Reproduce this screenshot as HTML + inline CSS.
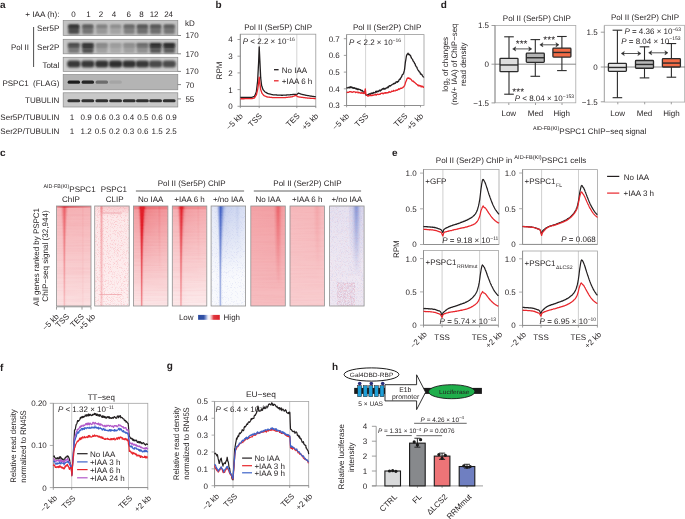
<!DOCTYPE html>
<html><head><meta charset="utf-8"><style>
html,body{margin:0;padding:0;background:#fff;width:685px;height:519px;overflow:hidden;}
svg{display:block;font-family:"Liberation Sans",sans-serif;text-rendering:geometricPrecision;will-change:transform;}
</style></head><body>
<svg width="685" height="519" viewBox="0 0 685 519" font-family="Liberation Sans, sans-serif" fill="#231f20"><defs>
<filter id="bl1" x="-50%" y="-50%" width="200%" height="200%"><feGaussianBlur stdDeviation="0.9"/></filter>
<filter id="bl08" x="-50%" y="-80%" width="200%" height="260%"><feGaussianBlur stdDeviation="0.7"/></filter>
<filter id="speckR" x="0" y="0" width="100%" height="100%">
 <feTurbulence type="fractalNoise" baseFrequency="1.3" numOctaves="1" seed="7"/>
 <feColorMatrix type="matrix" values="0 0 0 0 0.92  0 0 0 0 0.25  0 0 0 0 0.3  4 0 0 0 -2.0"/>
</filter>
<filter id="speckB" x="0" y="0" width="100%" height="100%">
 <feTurbulence type="fractalNoise" baseFrequency="1.2" numOctaves="1" seed="9"/>
 <feColorMatrix type="matrix" values="0 0 0 0 0.35  0 0 0 0 0.4  0 0 0 0 0.8  5 0 0 0 -2.7"/>
</filter>
<filter id="speckP" x="0" y="0" width="100%" height="100%">
 <feTurbulence type="fractalNoise" baseFrequency="0.9" numOctaves="2" seed="5"/>
 <feColorMatrix type="matrix" values="0 0 0 0 0.65  0 0 0 0 0.45  0 0 0 0 0.6  3 0 0 0 -1.1"/>
</filter>
<filter id="streak" x="0" y="0" width="100%" height="100%">
 <feTurbulence type="fractalNoise" baseFrequency="0.02 0.6" numOctaves="1" seed="2"/>
 <feColorMatrix type="matrix" values="0 0 0 0 0.85  0 0 0 0 0.2  0 0 0 0 0.25  3 0 0 0 -1.3"/>
</filter>
<linearGradient id="hm0_0"><stop offset="0.000" stop-color="#f6b8bb"/><stop offset="0.107" stop-color="#f5b3b7"/><stop offset="0.143" stop-color="#f3a4a8"/><stop offset="0.207" stop-color="#ec6d74"/><stop offset="0.229" stop-color="#eb636a"/><stop offset="0.250" stop-color="#ec6c72"/><stop offset="0.314" stop-color="#f3a3a7"/><stop offset="0.357" stop-color="#f5b1b4"/><stop offset="0.736" stop-color="#f5b1b5"/><stop offset="0.764" stop-color="#f4a8ac"/><stop offset="0.800" stop-color="#f5b3b6"/><stop offset="1.000" stop-color="#f5b3b7"/></linearGradient><linearGradient id="hm0_1"><stop offset="0.000" stop-color="#f6b9bc"/><stop offset="0.114" stop-color="#f6b5b9"/><stop offset="0.150" stop-color="#f3a6aa"/><stop offset="0.207" stop-color="#ed7177"/><stop offset="0.229" stop-color="#eb666d"/><stop offset="0.250" stop-color="#ed7077"/><stop offset="0.307" stop-color="#f3a4a8"/><stop offset="0.343" stop-color="#f5b2b5"/><stop offset="0.729" stop-color="#f5b4b7"/><stop offset="0.764" stop-color="#f4aaad"/><stop offset="0.800" stop-color="#f5b4b8"/><stop offset="1.000" stop-color="#f5b5b8"/></linearGradient><linearGradient id="hm0_2"><stop offset="0.000" stop-color="#f6bbbe"/><stop offset="0.121" stop-color="#f6b7ba"/><stop offset="0.157" stop-color="#f4a6aa"/><stop offset="0.207" stop-color="#ed757b"/><stop offset="0.229" stop-color="#ec6970"/><stop offset="0.250" stop-color="#ed757b"/><stop offset="0.300" stop-color="#f3a6aa"/><stop offset="0.336" stop-color="#f5b4b7"/><stop offset="0.736" stop-color="#f5b4b8"/><stop offset="0.764" stop-color="#f4abaf"/><stop offset="0.800" stop-color="#f6b6b9"/><stop offset="1.000" stop-color="#f6b6b9"/></linearGradient><linearGradient id="hm0_3"><stop offset="0.000" stop-color="#f6bcbf"/><stop offset="0.129" stop-color="#f6b9bc"/><stop offset="0.157" stop-color="#f4acb0"/><stop offset="0.214" stop-color="#ed747a"/><stop offset="0.229" stop-color="#ec6d73"/><stop offset="0.250" stop-color="#ee797f"/><stop offset="0.293" stop-color="#f4a6aa"/><stop offset="0.321" stop-color="#f5b4b7"/><stop offset="0.471" stop-color="#f6b8bb"/><stop offset="0.736" stop-color="#f6b6b9"/><stop offset="0.764" stop-color="#f4adb0"/><stop offset="0.800" stop-color="#f6b7bb"/><stop offset="1.000" stop-color="#f6b8bb"/></linearGradient><linearGradient id="hm0_4"><stop offset="0.000" stop-color="#f7bec1"/><stop offset="0.136" stop-color="#f6babd"/><stop offset="0.164" stop-color="#f4acb0"/><stop offset="0.214" stop-color="#ee787e"/><stop offset="0.229" stop-color="#ed7076"/><stop offset="0.250" stop-color="#ee7e84"/><stop offset="0.286" stop-color="#f4a6aa"/><stop offset="0.314" stop-color="#f6b5b9"/><stop offset="0.450" stop-color="#f6b9bc"/><stop offset="0.736" stop-color="#f6b7bb"/><stop offset="0.764" stop-color="#f5aeb2"/><stop offset="0.800" stop-color="#f6b9bc"/><stop offset="1.000" stop-color="#f6b9bc"/></linearGradient><linearGradient id="hm0_5"><stop offset="0.000" stop-color="#f7bfc2"/><stop offset="0.143" stop-color="#f6bcbf"/><stop offset="0.171" stop-color="#f4acaf"/><stop offset="0.214" stop-color="#ee7b81"/><stop offset="0.229" stop-color="#ed7379"/><stop offset="0.250" stop-color="#ef8288"/><stop offset="0.286" stop-color="#f4abaf"/><stop offset="0.314" stop-color="#f6b8bb"/><stop offset="0.736" stop-color="#f6b9bc"/><stop offset="0.764" stop-color="#f5b0b3"/><stop offset="0.800" stop-color="#f6babd"/><stop offset="1.000" stop-color="#f6bbbe"/></linearGradient><linearGradient id="hm0_6"><stop offset="0.000" stop-color="#f7c1c4"/><stop offset="0.143" stop-color="#f7bec1"/><stop offset="0.171" stop-color="#f5b1b4"/><stop offset="0.214" stop-color="#ee7f85"/><stop offset="0.229" stop-color="#ed767c"/><stop offset="0.243" stop-color="#ee7f85"/><stop offset="0.279" stop-color="#f4aaae"/><stop offset="0.307" stop-color="#f6babd"/><stop offset="0.736" stop-color="#f6babd"/><stop offset="0.764" stop-color="#f5b1b5"/><stop offset="0.800" stop-color="#f6bcbf"/><stop offset="1.000" stop-color="#f6bcbf"/></linearGradient><linearGradient id="hm0_7"><stop offset="0.000" stop-color="#f7c2c5"/><stop offset="0.150" stop-color="#f7c0c2"/><stop offset="0.171" stop-color="#f6b5b9"/><stop offset="0.214" stop-color="#ef8388"/><stop offset="0.229" stop-color="#ee797f"/><stop offset="0.243" stop-color="#ef8388"/><stop offset="0.279" stop-color="#f5afb3"/><stop offset="0.307" stop-color="#f6bcbf"/><stop offset="0.736" stop-color="#f6bcbf"/><stop offset="0.764" stop-color="#f5b3b6"/><stop offset="0.800" stop-color="#f7bdc0"/><stop offset="1.000" stop-color="#f7bec1"/></linearGradient><linearGradient id="hm0_8"><stop offset="0.000" stop-color="#f7c4c6"/><stop offset="0.157" stop-color="#f7c0c3"/><stop offset="0.179" stop-color="#f5b4b7"/><stop offset="0.214" stop-color="#ef868c"/><stop offset="0.229" stop-color="#ee7c82"/><stop offset="0.243" stop-color="#f0878c"/><stop offset="0.271" stop-color="#f4adb0"/><stop offset="0.293" stop-color="#f6bbbe"/><stop offset="0.393" stop-color="#f7bfc2"/><stop offset="0.736" stop-color="#f7bdc0"/><stop offset="0.764" stop-color="#f5b4b7"/><stop offset="0.800" stop-color="#f7bfc2"/><stop offset="1.000" stop-color="#f7bfc2"/></linearGradient><linearGradient id="hm0_9"><stop offset="0.000" stop-color="#f8c5c8"/><stop offset="0.157" stop-color="#f7c3c6"/><stop offset="0.179" stop-color="#f6b8bb"/><stop offset="0.214" stop-color="#f08a8f"/><stop offset="0.229" stop-color="#ef7f85"/><stop offset="0.243" stop-color="#f08b90"/><stop offset="0.271" stop-color="#f5b1b5"/><stop offset="0.293" stop-color="#f7bec1"/><stop offset="0.729" stop-color="#f7c0c3"/><stop offset="0.764" stop-color="#f6b6b9"/><stop offset="0.800" stop-color="#f7c0c3"/><stop offset="1.000" stop-color="#f7c1c4"/></linearGradient><linearGradient id="hm0_10"><stop offset="0.000" stop-color="#f8c7c9"/><stop offset="0.164" stop-color="#f7c3c6"/><stop offset="0.186" stop-color="#f5b5b8"/><stop offset="0.214" stop-color="#f08d92"/><stop offset="0.229" stop-color="#ef8388"/><stop offset="0.243" stop-color="#f18f94"/><stop offset="0.271" stop-color="#f5b5b8"/><stop offset="0.293" stop-color="#f7c0c3"/><stop offset="0.736" stop-color="#f7c0c3"/><stop offset="0.764" stop-color="#f6b7ba"/><stop offset="0.800" stop-color="#f7c2c5"/><stop offset="1.000" stop-color="#f7c2c5"/></linearGradient><linearGradient id="hm0_11"><stop offset="0.000" stop-color="#f8c8cb"/><stop offset="0.164" stop-color="#f8c6c8"/><stop offset="0.186" stop-color="#f6b8bc"/><stop offset="0.214" stop-color="#f19196"/><stop offset="0.229" stop-color="#ef868b"/><stop offset="0.243" stop-color="#f19397"/><stop offset="0.271" stop-color="#f6b9bc"/><stop offset="0.293" stop-color="#f7c2c5"/><stop offset="0.736" stop-color="#f7c2c5"/><stop offset="0.764" stop-color="#f6b9bc"/><stop offset="0.800" stop-color="#f7c3c6"/><stop offset="1.000" stop-color="#f7c4c6"/></linearGradient><linearGradient id="hm0_12"><stop offset="0.000" stop-color="#f8cacc"/><stop offset="0.164" stop-color="#f8c8ca"/><stop offset="0.186" stop-color="#f6bcbf"/><stop offset="0.214" stop-color="#f19499"/><stop offset="0.229" stop-color="#f0898e"/><stop offset="0.243" stop-color="#f1969b"/><stop offset="0.264" stop-color="#f5b5b8"/><stop offset="0.286" stop-color="#f7c3c6"/><stop offset="0.736" stop-color="#f7c3c6"/><stop offset="0.764" stop-color="#f6babd"/><stop offset="0.800" stop-color="#f8c5c8"/><stop offset="1.000" stop-color="#f8c5c8"/></linearGradient><linearGradient id="hm0_13"><stop offset="0.000" stop-color="#f8cbce"/><stop offset="0.171" stop-color="#f8c8ca"/><stop offset="0.193" stop-color="#f6b7ba"/><stop offset="0.214" stop-color="#f2989c"/><stop offset="0.229" stop-color="#f08c91"/><stop offset="0.243" stop-color="#f29a9e"/><stop offset="0.264" stop-color="#f6b8bc"/><stop offset="0.286" stop-color="#f8c5c7"/><stop offset="0.736" stop-color="#f8c5c7"/><stop offset="0.764" stop-color="#f6bcbf"/><stop offset="0.800" stop-color="#f8c6c9"/><stop offset="1.000" stop-color="#f8c7c9"/></linearGradient><linearGradient id="hm0_14"><stop offset="0.000" stop-color="#f9cdcf"/><stop offset="0.171" stop-color="#f8cacc"/><stop offset="0.193" stop-color="#f6babd"/><stop offset="0.214" stop-color="#f29b9f"/><stop offset="0.229" stop-color="#f18f94"/><stop offset="0.243" stop-color="#f29da2"/><stop offset="0.264" stop-color="#f6bbbe"/><stop offset="0.286" stop-color="#f8c7c9"/><stop offset="0.736" stop-color="#f8c6c9"/><stop offset="0.764" stop-color="#f7bdc0"/><stop offset="0.800" stop-color="#f8c8ca"/><stop offset="1.000" stop-color="#f8c8cb"/></linearGradient><linearGradient id="hm0_15"><stop offset="0.000" stop-color="#f9ced0"/><stop offset="0.171" stop-color="#f8ccce"/><stop offset="0.193" stop-color="#f7bdc0"/><stop offset="0.214" stop-color="#f39ea2"/><stop offset="0.229" stop-color="#f19297"/><stop offset="0.243" stop-color="#f3a0a5"/><stop offset="0.264" stop-color="#f7bec1"/><stop offset="0.286" stop-color="#f8c9cb"/><stop offset="0.736" stop-color="#f8c8ca"/><stop offset="0.764" stop-color="#f7bfc1"/><stop offset="0.800" stop-color="#f8c9cc"/><stop offset="1.000" stop-color="#f8cacc"/></linearGradient><linearGradient id="hm0_16"><stop offset="0.000" stop-color="#f9d0d2"/><stop offset="0.171" stop-color="#f9ced0"/><stop offset="0.193" stop-color="#f7c0c3"/><stop offset="0.214" stop-color="#f3a1a5"/><stop offset="0.229" stop-color="#f1959a"/><stop offset="0.243" stop-color="#f3a4a8"/><stop offset="0.264" stop-color="#f7c1c3"/><stop offset="0.286" stop-color="#f8cacd"/><stop offset="0.736" stop-color="#f8c9cc"/><stop offset="0.764" stop-color="#f7c0c3"/><stop offset="0.800" stop-color="#f8cbcd"/><stop offset="1.000" stop-color="#f8cbce"/></linearGradient><linearGradient id="hm0_17"><stop offset="0.000" stop-color="#f9d1d3"/><stop offset="0.171" stop-color="#f9d0d2"/><stop offset="0.193" stop-color="#f7c3c5"/><stop offset="0.221" stop-color="#f29ea2"/><stop offset="0.229" stop-color="#f2989d"/><stop offset="0.243" stop-color="#f4a7ab"/><stop offset="0.264" stop-color="#f7c3c6"/><stop offset="0.286" stop-color="#f8ccce"/><stop offset="0.736" stop-color="#f8cbcd"/><stop offset="0.764" stop-color="#f7c2c4"/><stop offset="0.800" stop-color="#f8cccf"/><stop offset="1.000" stop-color="#f9cdcf"/></linearGradient><linearGradient id="hm0_18"><stop offset="0.000" stop-color="#f9d3d5"/><stop offset="0.171" stop-color="#f9d1d3"/><stop offset="0.193" stop-color="#f8c5c8"/><stop offset="0.221" stop-color="#f3a1a5"/><stop offset="0.229" stop-color="#f29ca0"/><stop offset="0.243" stop-color="#f4aaae"/><stop offset="0.264" stop-color="#f8c5c8"/><stop offset="0.293" stop-color="#f9ced0"/><stop offset="0.736" stop-color="#f8cccf"/><stop offset="0.764" stop-color="#f7c3c6"/><stop offset="0.800" stop-color="#f9ced0"/><stop offset="1.000" stop-color="#f9ced0"/></linearGradient><linearGradient id="hm0_19"><stop offset="0.000" stop-color="#f9d4d6"/><stop offset="0.179" stop-color="#f9d1d3"/><stop offset="0.200" stop-color="#f7bfc2"/><stop offset="0.221" stop-color="#f3a4a8"/><stop offset="0.229" stop-color="#f39fa3"/><stop offset="0.243" stop-color="#f4adb0"/><stop offset="0.264" stop-color="#f8c7ca"/><stop offset="0.293" stop-color="#f9d0d2"/><stop offset="0.736" stop-color="#f9ced0"/><stop offset="0.764" stop-color="#f7c5c7"/><stop offset="0.800" stop-color="#f9cfd2"/><stop offset="1.000" stop-color="#f9d0d2"/></linearGradient><linearGradient id="hm0_20"><stop offset="0.000" stop-color="#fad6d8"/><stop offset="0.179" stop-color="#f9d3d5"/><stop offset="0.200" stop-color="#f7c1c4"/><stop offset="0.221" stop-color="#f4a7ab"/><stop offset="0.229" stop-color="#f3a2a6"/><stop offset="0.243" stop-color="#f5afb3"/><stop offset="0.264" stop-color="#f8c9cc"/><stop offset="0.293" stop-color="#f9d1d3"/><stop offset="0.736" stop-color="#f9cfd1"/><stop offset="0.764" stop-color="#f8c6c9"/><stop offset="0.800" stop-color="#f9d1d3"/><stop offset="1.000" stop-color="#f9d1d3"/></linearGradient><linearGradient id="hm0_21"><stop offset="0.000" stop-color="#fad7d9"/><stop offset="0.179" stop-color="#fad5d6"/><stop offset="0.200" stop-color="#f7c4c6"/><stop offset="0.221" stop-color="#f4aaae"/><stop offset="0.229" stop-color="#f3a5a9"/><stop offset="0.243" stop-color="#f5b2b6"/><stop offset="0.264" stop-color="#f8cbce"/><stop offset="0.293" stop-color="#f9d3d5"/><stop offset="0.736" stop-color="#f9d1d3"/><stop offset="0.764" stop-color="#f8c8ca"/><stop offset="0.800" stop-color="#f9d2d4"/><stop offset="1.000" stop-color="#f9d3d5"/></linearGradient><linearGradient id="hm0_22"><stop offset="0.000" stop-color="#fad9da"/><stop offset="0.179" stop-color="#fad6d8"/><stop offset="0.200" stop-color="#f8c6c8"/><stop offset="0.221" stop-color="#f4adb1"/><stop offset="0.229" stop-color="#f4a8ac"/><stop offset="0.243" stop-color="#f5b5b8"/><stop offset="0.264" stop-color="#f9cdcf"/><stop offset="0.293" stop-color="#f9d4d6"/><stop offset="0.736" stop-color="#f9d2d4"/><stop offset="0.764" stop-color="#f8c9cc"/><stop offset="0.800" stop-color="#f9d4d6"/><stop offset="1.000" stop-color="#f9d4d6"/></linearGradient><linearGradient id="hm0_23"><stop offset="0.000" stop-color="#fadadc"/><stop offset="0.179" stop-color="#fad8da"/><stop offset="0.200" stop-color="#f8c8cb"/><stop offset="0.221" stop-color="#f5b0b4"/><stop offset="0.229" stop-color="#f4abaf"/><stop offset="0.243" stop-color="#f6b8bb"/><stop offset="0.264" stop-color="#f9cfd1"/><stop offset="0.293" stop-color="#fad6d7"/><stop offset="0.736" stop-color="#f9d4d6"/><stop offset="0.764" stop-color="#f8cbcd"/><stop offset="0.800" stop-color="#fad5d7"/><stop offset="1.000" stop-color="#fad6d8"/></linearGradient><linearGradient id="hm0_24"><stop offset="0.000" stop-color="#fadcdd"/><stop offset="0.179" stop-color="#fad9db"/><stop offset="0.200" stop-color="#f8cacd"/><stop offset="0.221" stop-color="#f5b4b7"/><stop offset="0.229" stop-color="#f5aeb2"/><stop offset="0.243" stop-color="#f6babd"/><stop offset="0.264" stop-color="#f9d1d3"/><stop offset="0.300" stop-color="#fad7d9"/><stop offset="0.736" stop-color="#fad5d7"/><stop offset="0.764" stop-color="#f8ccce"/><stop offset="0.800" stop-color="#fad7d9"/><stop offset="1.000" stop-color="#fad7d9"/></linearGradient><linearGradient id="hm0_25"><stop offset="0.000" stop-color="#fbdddf"/><stop offset="0.179" stop-color="#fadbdd"/><stop offset="0.200" stop-color="#f8cdcf"/><stop offset="0.221" stop-color="#f6b7ba"/><stop offset="0.229" stop-color="#f5b1b5"/><stop offset="0.250" stop-color="#f8c6c8"/><stop offset="0.271" stop-color="#fad6d8"/><stop offset="0.721" stop-color="#fad9da"/><stop offset="0.764" stop-color="#f9ced0"/><stop offset="0.800" stop-color="#fad8da"/><stop offset="1.000" stop-color="#fad9da"/></linearGradient><linearGradient id="hm0_26"><stop offset="0.000" stop-color="#fbdfe0"/><stop offset="0.179" stop-color="#fbddde"/><stop offset="0.200" stop-color="#f9cfd1"/><stop offset="0.221" stop-color="#f6babd"/><stop offset="0.229" stop-color="#f5b4b8"/><stop offset="0.250" stop-color="#f8c8ca"/><stop offset="0.271" stop-color="#fad7d9"/><stop offset="0.736" stop-color="#fad8da"/><stop offset="0.764" stop-color="#f9cfd1"/><stop offset="0.800" stop-color="#fadadc"/><stop offset="1.000" stop-color="#fadadc"/></linearGradient><linearGradient id="hm0_27"><stop offset="0.000" stop-color="#fbe0e2"/><stop offset="0.179" stop-color="#fbdee0"/><stop offset="0.200" stop-color="#f9d1d3"/><stop offset="0.229" stop-color="#f6b8bb"/><stop offset="0.264" stop-color="#fad6d8"/><stop offset="0.307" stop-color="#fadcdd"/><stop offset="0.736" stop-color="#fadadb"/><stop offset="0.764" stop-color="#f9d1d3"/><stop offset="0.800" stop-color="#fadbdd"/><stop offset="1.000" stop-color="#fadcdd"/></linearGradient><linearGradient id="hm0_28"><stop offset="0.000" stop-color="#fbe2e3"/><stop offset="0.179" stop-color="#fbe0e1"/><stop offset="0.200" stop-color="#f9d3d5"/><stop offset="0.229" stop-color="#f6bbbe"/><stop offset="0.264" stop-color="#fad8da"/><stop offset="0.307" stop-color="#fbdddf"/><stop offset="0.736" stop-color="#fadbdd"/><stop offset="0.764" stop-color="#f9d2d4"/><stop offset="0.800" stop-color="#fbddde"/><stop offset="1.000" stop-color="#fbdddf"/></linearGradient><linearGradient id="hm0_29"><stop offset="0.000" stop-color="#fbe3e4"/><stop offset="0.179" stop-color="#fbe1e3"/><stop offset="0.200" stop-color="#fad5d7"/><stop offset="0.229" stop-color="#f7bec1"/><stop offset="0.264" stop-color="#fadadb"/><stop offset="0.314" stop-color="#fbdfe0"/><stop offset="0.736" stop-color="#fbddde"/><stop offset="0.764" stop-color="#f9d4d6"/><stop offset="0.800" stop-color="#fbdee0"/><stop offset="1.000" stop-color="#fbdfe0"/></linearGradient><linearGradient id="hm0top"><stop offset="0.000" stop-color="#ec8c92"/><stop offset="0.126" stop-color="#e6545c"/><stop offset="0.226" stop-color="#dc1f2a"/><stop offset="0.376" stop-color="#e4464f"/><stop offset="1.000" stop-color="#ec8a90"/></linearGradient><clipPath id="hmclip0"><rect x="56.5" y="206.0" width="34.5" height="100.0"/></clipPath><linearGradient id="hm1_0"><stop offset="0.000" stop-color="#fbe1e2"/><stop offset="0.136" stop-color="#fbdedf"/><stop offset="0.143" stop-color="#fadbdc"/><stop offset="0.150" stop-color="#f7c3c6"/><stop offset="0.171" stop-color="#f4a7ab"/><stop offset="0.186" stop-color="#f19297"/><stop offset="0.200" stop-color="#f08c91"/><stop offset="0.214" stop-color="#f29a9e"/><stop offset="0.243" stop-color="#f7c2c5"/><stop offset="0.264" stop-color="#f9cdcf"/><stop offset="1.000" stop-color="#f9ced1"/></linearGradient><linearGradient id="hm1_1"><stop offset="0.000" stop-color="#fce4e5"/><stop offset="0.136" stop-color="#fbe1e2"/><stop offset="0.143" stop-color="#fbdee0"/><stop offset="0.150" stop-color="#f9ced0"/><stop offset="0.171" stop-color="#f5b3b6"/><stop offset="0.186" stop-color="#f29ea2"/><stop offset="0.200" stop-color="#f2989c"/><stop offset="0.214" stop-color="#f3a5a9"/><stop offset="0.243" stop-color="#f9cdcf"/><stop offset="0.264" stop-color="#fad7d9"/><stop offset="1.000" stop-color="#fad9db"/></linearGradient><linearGradient id="hm1_2"><stop offset="0.000" stop-color="#fce7e9"/><stop offset="0.136" stop-color="#fce4e6"/><stop offset="0.143" stop-color="#fbe2e3"/><stop offset="0.171" stop-color="#f7bec1"/><stop offset="0.186" stop-color="#f4a9ad"/><stop offset="0.200" stop-color="#f3a3a7"/><stop offset="0.214" stop-color="#f5b1b4"/><stop offset="0.243" stop-color="#fad8da"/><stop offset="0.264" stop-color="#fbe2e3"/><stop offset="1.000" stop-color="#fbe4e5"/></linearGradient><linearGradient id="hm1_3"><stop offset="0.000" stop-color="#fce9ea"/><stop offset="0.136" stop-color="#fce6e7"/><stop offset="0.157" stop-color="#fad8da"/><stop offset="0.186" stop-color="#f5b0b3"/><stop offset="0.200" stop-color="#f4aaae"/><stop offset="0.214" stop-color="#f6b7ba"/><stop offset="0.243" stop-color="#fbdedf"/><stop offset="0.264" stop-color="#fce8e9"/><stop offset="1.000" stop-color="#fce9ea"/></linearGradient><linearGradient id="hm1_4"><stop offset="0.000" stop-color="#fceaea"/><stop offset="0.136" stop-color="#fce7e8"/><stop offset="0.157" stop-color="#fad8da"/><stop offset="0.186" stop-color="#f5b1b4"/><stop offset="0.200" stop-color="#f4abaf"/><stop offset="0.214" stop-color="#f6b8bb"/><stop offset="0.243" stop-color="#fbdee0"/><stop offset="0.264" stop-color="#fce8e9"/><stop offset="1.000" stop-color="#fceaea"/></linearGradient><linearGradient id="hm1_5"><stop offset="0.000" stop-color="#fceaeb"/><stop offset="0.136" stop-color="#fce7e8"/><stop offset="0.157" stop-color="#fad9db"/><stop offset="0.186" stop-color="#f5b2b5"/><stop offset="0.200" stop-color="#f4acb0"/><stop offset="0.214" stop-color="#f6b9bc"/><stop offset="0.243" stop-color="#fbdfe0"/><stop offset="0.271" stop-color="#fce9ea"/><stop offset="1.000" stop-color="#fceaeb"/></linearGradient><linearGradient id="hm1_6"><stop offset="0.000" stop-color="#fceaeb"/><stop offset="0.136" stop-color="#fce7e8"/><stop offset="0.157" stop-color="#fad9db"/><stop offset="0.186" stop-color="#f5b3b7"/><stop offset="0.200" stop-color="#f4adb1"/><stop offset="0.214" stop-color="#f6babd"/><stop offset="0.243" stop-color="#fbdfe0"/><stop offset="0.271" stop-color="#fce9ea"/><stop offset="1.000" stop-color="#fceaeb"/></linearGradient><linearGradient id="hm1_7"><stop offset="0.000" stop-color="#fceaeb"/><stop offset="0.136" stop-color="#fce7e8"/><stop offset="0.157" stop-color="#fadadc"/><stop offset="0.186" stop-color="#f5b4b8"/><stop offset="0.200" stop-color="#f5afb2"/><stop offset="0.214" stop-color="#f6bbbe"/><stop offset="0.243" stop-color="#fbdfe1"/><stop offset="0.271" stop-color="#fceaea"/><stop offset="1.000" stop-color="#fceaeb"/></linearGradient><linearGradient id="hm1_8"><stop offset="0.000" stop-color="#fceaeb"/><stop offset="0.136" stop-color="#fce8e9"/><stop offset="0.157" stop-color="#fadadc"/><stop offset="0.186" stop-color="#f6b5b9"/><stop offset="0.200" stop-color="#f5b0b3"/><stop offset="0.214" stop-color="#f6bcbf"/><stop offset="0.243" stop-color="#fbe0e1"/><stop offset="0.271" stop-color="#fceaeb"/><stop offset="1.000" stop-color="#fceaeb"/></linearGradient><linearGradient id="hm1_9"><stop offset="0.000" stop-color="#fcebec"/><stop offset="0.136" stop-color="#fce8e9"/><stop offset="0.157" stop-color="#fadbdd"/><stop offset="0.186" stop-color="#f6b7ba"/><stop offset="0.200" stop-color="#f5b1b5"/><stop offset="0.214" stop-color="#f7bdc0"/><stop offset="0.243" stop-color="#fbe0e2"/><stop offset="0.271" stop-color="#fceaeb"/><stop offset="1.000" stop-color="#fcebec"/></linearGradient><linearGradient id="hm1_10"><stop offset="0.000" stop-color="#fcebec"/><stop offset="0.136" stop-color="#fce8e9"/><stop offset="0.157" stop-color="#fadbdd"/><stop offset="0.186" stop-color="#f6b8bb"/><stop offset="0.200" stop-color="#f5b2b6"/><stop offset="0.214" stop-color="#f7bec1"/><stop offset="0.243" stop-color="#fbe1e2"/><stop offset="0.271" stop-color="#fceaeb"/><stop offset="1.000" stop-color="#fcebec"/></linearGradient><linearGradient id="hm1_11"><stop offset="0.000" stop-color="#fcebec"/><stop offset="0.136" stop-color="#fce9ea"/><stop offset="0.157" stop-color="#fadcdd"/><stop offset="0.186" stop-color="#f6b9bc"/><stop offset="0.200" stop-color="#f5b4b7"/><stop offset="0.214" stop-color="#f7bfc2"/><stop offset="0.243" stop-color="#fbe1e2"/><stop offset="0.271" stop-color="#fceaeb"/><stop offset="1.000" stop-color="#fcebec"/></linearGradient><linearGradient id="hm1_12"><stop offset="0.000" stop-color="#fcebec"/><stop offset="0.136" stop-color="#fce9ea"/><stop offset="0.157" stop-color="#fbdcde"/><stop offset="0.186" stop-color="#f6babd"/><stop offset="0.200" stop-color="#f5b5b8"/><stop offset="0.214" stop-color="#f7c0c3"/><stop offset="0.243" stop-color="#fbe1e3"/><stop offset="0.271" stop-color="#fcebec"/><stop offset="1.000" stop-color="#fcebec"/></linearGradient><linearGradient id="hm1_13"><stop offset="0.000" stop-color="#fcecec"/><stop offset="0.136" stop-color="#fce9ea"/><stop offset="0.157" stop-color="#fbddde"/><stop offset="0.186" stop-color="#f6bbbe"/><stop offset="0.200" stop-color="#f6b6b9"/><stop offset="0.214" stop-color="#f7c1c4"/><stop offset="0.243" stop-color="#fbe2e3"/><stop offset="0.271" stop-color="#fcebec"/><stop offset="1.000" stop-color="#fcecec"/></linearGradient><linearGradient id="hm1_14"><stop offset="0.000" stop-color="#fdeced"/><stop offset="0.136" stop-color="#fce9ea"/><stop offset="0.157" stop-color="#fbdddf"/><stop offset="0.186" stop-color="#f6bcbf"/><stop offset="0.200" stop-color="#f6b7ba"/><stop offset="0.214" stop-color="#f7c2c5"/><stop offset="0.243" stop-color="#fbe2e3"/><stop offset="0.271" stop-color="#fcebec"/><stop offset="1.000" stop-color="#fdeced"/></linearGradient><linearGradient id="hm1_15"><stop offset="0.000" stop-color="#fdeced"/><stop offset="0.136" stop-color="#fceaeb"/><stop offset="0.157" stop-color="#fbdedf"/><stop offset="0.186" stop-color="#f7bdc0"/><stop offset="0.200" stop-color="#f6b9bc"/><stop offset="0.214" stop-color="#f7c3c6"/><stop offset="0.243" stop-color="#fbe3e4"/><stop offset="0.271" stop-color="#fcebec"/><stop offset="1.000" stop-color="#fdeced"/></linearGradient><linearGradient id="hm1_16"><stop offset="0.000" stop-color="#fdeced"/><stop offset="0.136" stop-color="#fceaeb"/><stop offset="0.157" stop-color="#fbdee0"/><stop offset="0.186" stop-color="#f7bfc1"/><stop offset="0.200" stop-color="#f6babd"/><stop offset="0.214" stop-color="#f7c4c7"/><stop offset="0.243" stop-color="#fbe3e4"/><stop offset="0.271" stop-color="#fdeced"/><stop offset="1.000" stop-color="#fdeced"/></linearGradient><linearGradient id="hm1_17"><stop offset="0.000" stop-color="#fdeced"/><stop offset="0.136" stop-color="#fceaeb"/><stop offset="0.157" stop-color="#fbdfe0"/><stop offset="0.186" stop-color="#f7c0c2"/><stop offset="0.200" stop-color="#f6bbbe"/><stop offset="0.221" stop-color="#f9ced0"/><stop offset="0.243" stop-color="#fbe3e5"/><stop offset="0.271" stop-color="#fdeced"/><stop offset="1.000" stop-color="#fdeced"/></linearGradient><linearGradient id="hm1_18"><stop offset="0.000" stop-color="#fdeded"/><stop offset="0.136" stop-color="#fceaeb"/><stop offset="0.157" stop-color="#fbdfe1"/><stop offset="0.186" stop-color="#f7c1c4"/><stop offset="0.200" stop-color="#f6bcbf"/><stop offset="0.221" stop-color="#f9cfd1"/><stop offset="0.243" stop-color="#fbe4e5"/><stop offset="0.271" stop-color="#fdeced"/><stop offset="1.000" stop-color="#fdeded"/></linearGradient><linearGradient id="hm1_19"><stop offset="0.000" stop-color="#fdedee"/><stop offset="0.136" stop-color="#fcebec"/><stop offset="0.157" stop-color="#fbe0e1"/><stop offset="0.186" stop-color="#f7c2c5"/><stop offset="0.200" stop-color="#f7bdc0"/><stop offset="0.221" stop-color="#f9cfd2"/><stop offset="0.243" stop-color="#fce4e5"/><stop offset="0.271" stop-color="#fdeced"/><stop offset="1.000" stop-color="#fdedee"/></linearGradient><linearGradient id="hm1_20"><stop offset="0.000" stop-color="#fdedee"/><stop offset="0.136" stop-color="#fcebec"/><stop offset="0.157" stop-color="#fbe0e2"/><stop offset="0.193" stop-color="#f7bfc2"/><stop offset="0.207" stop-color="#f7c2c5"/><stop offset="0.243" stop-color="#fce5e6"/><stop offset="0.279" stop-color="#fdedee"/><stop offset="1.000" stop-color="#fdedee"/></linearGradient><linearGradient id="hm1_21"><stop offset="0.000" stop-color="#fdedee"/><stop offset="0.136" stop-color="#fcebec"/><stop offset="0.157" stop-color="#fbe1e2"/><stop offset="0.193" stop-color="#f7c0c3"/><stop offset="0.207" stop-color="#f7c3c6"/><stop offset="0.243" stop-color="#fce5e6"/><stop offset="0.279" stop-color="#fdedee"/><stop offset="1.000" stop-color="#fdedee"/></linearGradient><linearGradient id="hm1_22"><stop offset="0.000" stop-color="#fdeeee"/><stop offset="0.136" stop-color="#fcebec"/><stop offset="0.157" stop-color="#fbe1e3"/><stop offset="0.193" stop-color="#f7c1c4"/><stop offset="0.207" stop-color="#f7c4c7"/><stop offset="0.243" stop-color="#fce5e7"/><stop offset="0.279" stop-color="#fdedee"/><stop offset="1.000" stop-color="#fdeeee"/></linearGradient><linearGradient id="hm1_23"><stop offset="0.000" stop-color="#fdeeef"/><stop offset="0.136" stop-color="#fdeced"/><stop offset="0.157" stop-color="#fbe2e3"/><stop offset="0.193" stop-color="#f7c3c5"/><stop offset="0.207" stop-color="#f8c6c8"/><stop offset="0.243" stop-color="#fce6e7"/><stop offset="0.279" stop-color="#fdeeee"/><stop offset="1.000" stop-color="#fdeeef"/></linearGradient><linearGradient id="hm1_24"><stop offset="0.000" stop-color="#fdeeef"/><stop offset="0.136" stop-color="#fdeced"/><stop offset="0.157" stop-color="#fbe2e4"/><stop offset="0.193" stop-color="#f7c4c7"/><stop offset="0.207" stop-color="#f8c7c9"/><stop offset="0.243" stop-color="#fce6e7"/><stop offset="0.279" stop-color="#fdeeef"/><stop offset="1.000" stop-color="#fdeeef"/></linearGradient><linearGradient id="hm1_25"><stop offset="0.000" stop-color="#fdeeef"/><stop offset="0.136" stop-color="#fdeced"/><stop offset="0.157" stop-color="#fbe3e4"/><stop offset="0.193" stop-color="#f8c5c8"/><stop offset="0.207" stop-color="#f8c8ca"/><stop offset="0.243" stop-color="#fce7e8"/><stop offset="0.279" stop-color="#fdeeef"/><stop offset="1.000" stop-color="#fdeeef"/></linearGradient><linearGradient id="hm1_26"><stop offset="0.000" stop-color="#fdeeef"/><stop offset="0.136" stop-color="#fdeded"/><stop offset="0.157" stop-color="#fbe3e5"/><stop offset="0.193" stop-color="#f8c6c9"/><stop offset="0.207" stop-color="#f8c9cb"/><stop offset="0.243" stop-color="#fce7e8"/><stop offset="0.279" stop-color="#fdeeef"/><stop offset="1.000" stop-color="#fdeeef"/></linearGradient><linearGradient id="hm1_27"><stop offset="0.000" stop-color="#fdefef"/><stop offset="0.136" stop-color="#fdedee"/><stop offset="0.164" stop-color="#fbdee0"/><stop offset="0.193" stop-color="#f8c8ca"/><stop offset="0.207" stop-color="#f8cacd"/><stop offset="0.243" stop-color="#fce8e9"/><stop offset="0.279" stop-color="#fdefef"/><stop offset="1.000" stop-color="#fdefef"/></linearGradient><linearGradient id="hm1_28"><stop offset="0.000" stop-color="#fdeff0"/><stop offset="0.143" stop-color="#fcebec"/><stop offset="0.171" stop-color="#fad8da"/><stop offset="0.193" stop-color="#f8c9cb"/><stop offset="0.207" stop-color="#f8cbce"/><stop offset="0.243" stop-color="#fce8e9"/><stop offset="0.286" stop-color="#fdeff0"/><stop offset="1.000" stop-color="#fdeff0"/></linearGradient><linearGradient id="hm1_29"><stop offset="0.000" stop-color="#fdeff0"/><stop offset="0.143" stop-color="#fdeced"/><stop offset="0.171" stop-color="#fad9db"/><stop offset="0.193" stop-color="#f8cacc"/><stop offset="0.207" stop-color="#f8cccf"/><stop offset="0.243" stop-color="#fce8e9"/><stop offset="0.286" stop-color="#fdeff0"/><stop offset="1.000" stop-color="#fdeff0"/></linearGradient><clipPath id="hmclip1"><rect x="94.7" y="206.0" width="34.5" height="100.0"/></clipPath><linearGradient id="hm2_0"><stop offset="0.000" stop-color="#ef878c"/><stop offset="0.114" stop-color="#ef8489"/><stop offset="0.143" stop-color="#ee787e"/><stop offset="0.164" stop-color="#eb6067"/><stop offset="0.200" stop-color="#e21e28"/><stop offset="0.307" stop-color="#e21e28"/><stop offset="0.336" stop-color="#e7474f"/><stop offset="0.364" stop-color="#ea5f66"/><stop offset="0.407" stop-color="#ec6d73"/><stop offset="0.700" stop-color="#ee797f"/><stop offset="0.750" stop-color="#ec6c73"/><stop offset="0.800" stop-color="#ee7c82"/><stop offset="1.000" stop-color="#ef8086"/></linearGradient><linearGradient id="hm2_1"><stop offset="0.000" stop-color="#f3a0a4"/><stop offset="0.121" stop-color="#f29da1"/><stop offset="0.150" stop-color="#f19095"/><stop offset="0.171" stop-color="#ed767c"/><stop offset="0.200" stop-color="#e63b43"/><stop offset="0.214" stop-color="#e21e28"/><stop offset="0.286" stop-color="#e21e28"/><stop offset="0.329" stop-color="#eb6068"/><stop offset="0.357" stop-color="#ee7a80"/><stop offset="0.400" stop-color="#f0878c"/><stop offset="0.700" stop-color="#f19397"/><stop offset="0.750" stop-color="#ef868c"/><stop offset="0.800" stop-color="#f1959a"/><stop offset="1.000" stop-color="#f29a9e"/></linearGradient><linearGradient id="hm2_2"><stop offset="0.000" stop-color="#f3a2a6"/><stop offset="0.129" stop-color="#f39fa4"/><stop offset="0.157" stop-color="#f19196"/><stop offset="0.179" stop-color="#ed747a"/><stop offset="0.214" stop-color="#e3242e"/><stop offset="0.221" stop-color="#e21e28"/><stop offset="0.279" stop-color="#e21e28"/><stop offset="0.293" stop-color="#e5343d"/><stop offset="0.321" stop-color="#eb636a"/><stop offset="0.350" stop-color="#ee7d83"/><stop offset="0.393" stop-color="#f08b90"/><stop offset="0.700" stop-color="#f1969a"/><stop offset="0.750" stop-color="#f08a8f"/><stop offset="0.807" stop-color="#f2999e"/><stop offset="1.000" stop-color="#f29ca1"/></linearGradient><linearGradient id="hm2_3"><stop offset="0.000" stop-color="#f3a5a9"/><stop offset="0.136" stop-color="#f3a2a6"/><stop offset="0.157" stop-color="#f2989d"/><stop offset="0.179" stop-color="#ee7e84"/><stop offset="0.207" stop-color="#e63c45"/><stop offset="0.221" stop-color="#e21e28"/><stop offset="0.271" stop-color="#e21e28"/><stop offset="0.279" stop-color="#e3232d"/><stop offset="0.307" stop-color="#ea5961"/><stop offset="0.329" stop-color="#ed767c"/><stop offset="0.357" stop-color="#f0888d"/><stop offset="0.429" stop-color="#f19196"/><stop offset="0.707" stop-color="#f2989d"/><stop offset="0.750" stop-color="#f08d92"/><stop offset="0.807" stop-color="#f29ca0"/><stop offset="1.000" stop-color="#f39fa3"/></linearGradient><linearGradient id="hm2_4"><stop offset="0.000" stop-color="#f4a7ab"/><stop offset="0.143" stop-color="#f3a4a8"/><stop offset="0.164" stop-color="#f2999e"/><stop offset="0.179" stop-color="#f0878d"/><stop offset="0.200" stop-color="#ea5860"/><stop offset="0.221" stop-color="#e3242e"/><stop offset="0.229" stop-color="#e21e28"/><stop offset="0.271" stop-color="#e2202a"/><stop offset="0.307" stop-color="#eb656c"/><stop offset="0.329" stop-color="#ee7f85"/><stop offset="0.357" stop-color="#f08e93"/><stop offset="0.507" stop-color="#f2989c"/><stop offset="0.707" stop-color="#f29ba0"/><stop offset="0.750" stop-color="#f19196"/><stop offset="0.807" stop-color="#f39fa3"/><stop offset="1.000" stop-color="#f3a2a6"/></linearGradient><linearGradient id="hm2_5"><stop offset="0.000" stop-color="#f4aaad"/><stop offset="0.150" stop-color="#f4a6aa"/><stop offset="0.171" stop-color="#f2999e"/><stop offset="0.186" stop-color="#ef8489"/><stop offset="0.221" stop-color="#e42b34"/><stop offset="0.229" stop-color="#e21f29"/><stop offset="0.264" stop-color="#e21e28"/><stop offset="0.286" stop-color="#e74850"/><stop offset="0.307" stop-color="#ed7076"/><stop offset="0.329" stop-color="#f0878c"/><stop offset="0.364" stop-color="#f19499"/><stop offset="0.707" stop-color="#f39ea3"/><stop offset="0.750" stop-color="#f19499"/><stop offset="0.807" stop-color="#f3a2a6"/><stop offset="1.000" stop-color="#f3a5a9"/></linearGradient><linearGradient id="hm2_6"><stop offset="0.000" stop-color="#f4acb0"/><stop offset="0.150" stop-color="#f4aaae"/><stop offset="0.171" stop-color="#f3a0a4"/><stop offset="0.186" stop-color="#f08d92"/><stop offset="0.200" stop-color="#ec6c73"/><stop offset="0.221" stop-color="#e5323b"/><stop offset="0.229" stop-color="#e3242e"/><stop offset="0.236" stop-color="#e21e28"/><stop offset="0.257" stop-color="#e21e28"/><stop offset="0.264" stop-color="#e3242e"/><stop offset="0.300" stop-color="#ec6f76"/><stop offset="0.321" stop-color="#f08a8f"/><stop offset="0.350" stop-color="#f2969b"/><stop offset="0.700" stop-color="#f3a2a6"/><stop offset="0.750" stop-color="#f2989c"/><stop offset="0.807" stop-color="#f3a5a9"/><stop offset="1.000" stop-color="#f4a8ab"/></linearGradient><linearGradient id="hm2_7"><stop offset="0.000" stop-color="#f5afb2"/><stop offset="0.157" stop-color="#f4acb0"/><stop offset="0.179" stop-color="#f39fa4"/><stop offset="0.193" stop-color="#f0878d"/><stop offset="0.221" stop-color="#e53841"/><stop offset="0.229" stop-color="#e42a33"/><stop offset="0.243" stop-color="#e21e28"/><stop offset="0.257" stop-color="#e21f29"/><stop offset="0.293" stop-color="#ec6d74"/><stop offset="0.314" stop-color="#f08b91"/><stop offset="0.343" stop-color="#f29a9e"/><stop offset="0.693" stop-color="#f3a6aa"/><stop offset="0.750" stop-color="#f29ba0"/><stop offset="0.807" stop-color="#f4a8ac"/><stop offset="1.000" stop-color="#f4aaae"/></linearGradient><linearGradient id="hm2_8"><stop offset="0.000" stop-color="#f5b1b5"/><stop offset="0.164" stop-color="#f5aeb2"/><stop offset="0.179" stop-color="#f3a6aa"/><stop offset="0.193" stop-color="#f19095"/><stop offset="0.207" stop-color="#ec6a71"/><stop offset="0.221" stop-color="#e63f48"/><stop offset="0.229" stop-color="#e43039"/><stop offset="0.243" stop-color="#e21e28"/><stop offset="0.250" stop-color="#e21e28"/><stop offset="0.257" stop-color="#e32731"/><stop offset="0.293" stop-color="#ee787e"/><stop offset="0.314" stop-color="#f19398"/><stop offset="0.343" stop-color="#f39ea3"/><stop offset="0.707" stop-color="#f4a8ab"/><stop offset="0.750" stop-color="#f39fa3"/><stop offset="0.807" stop-color="#f4abae"/><stop offset="1.000" stop-color="#f4adb1"/></linearGradient><linearGradient id="hm2_9"><stop offset="0.000" stop-color="#f5b4b7"/><stop offset="0.164" stop-color="#f5b2b5"/><stop offset="0.179" stop-color="#f4abaf"/><stop offset="0.193" stop-color="#f2989d"/><stop offset="0.207" stop-color="#ed737a"/><stop offset="0.221" stop-color="#e7464e"/><stop offset="0.229" stop-color="#e5353e"/><stop offset="0.236" stop-color="#e42d36"/><stop offset="0.243" stop-color="#e21e28"/><stop offset="0.250" stop-color="#e3222c"/><stop offset="0.264" stop-color="#e64048"/><stop offset="0.286" stop-color="#ed747a"/><stop offset="0.300" stop-color="#f08c91"/><stop offset="0.321" stop-color="#f29ea2"/><stop offset="0.386" stop-color="#f3a5a9"/><stop offset="0.707" stop-color="#f4abae"/><stop offset="0.750" stop-color="#f3a2a6"/><stop offset="0.814" stop-color="#f5aeb1"/><stop offset="1.000" stop-color="#f5b0b3"/></linearGradient><linearGradient id="hm2_10"><stop offset="0.000" stop-color="#f6b6b9"/><stop offset="0.171" stop-color="#f5b3b7"/><stop offset="0.186" stop-color="#f4aaae"/><stop offset="0.200" stop-color="#f19095"/><stop offset="0.221" stop-color="#e84d55"/><stop offset="0.229" stop-color="#e63b43"/><stop offset="0.236" stop-color="#e5323b"/><stop offset="0.243" stop-color="#e2212a"/><stop offset="0.250" stop-color="#e32933"/><stop offset="0.264" stop-color="#e84951"/><stop offset="0.286" stop-color="#ee7e83"/><stop offset="0.300" stop-color="#f19499"/><stop offset="0.321" stop-color="#f3a3a7"/><stop offset="0.486" stop-color="#f4abaf"/><stop offset="0.714" stop-color="#f4adb0"/><stop offset="0.750" stop-color="#f3a6aa"/><stop offset="0.814" stop-color="#f5b1b4"/><stop offset="1.000" stop-color="#f5b3b6"/></linearGradient><linearGradient id="hm2_11"><stop offset="0.000" stop-color="#f6b8bc"/><stop offset="0.171" stop-color="#f6b7ba"/><stop offset="0.186" stop-color="#f5afb3"/><stop offset="0.200" stop-color="#f2989d"/><stop offset="0.214" stop-color="#ec6c73"/><stop offset="0.229" stop-color="#e64049"/><stop offset="0.236" stop-color="#e53740"/><stop offset="0.243" stop-color="#e32731"/><stop offset="0.250" stop-color="#e43039"/><stop offset="0.271" stop-color="#eb656c"/><stop offset="0.286" stop-color="#f0878c"/><stop offset="0.300" stop-color="#f29ca0"/><stop offset="0.321" stop-color="#f4a8ac"/><stop offset="0.700" stop-color="#f5b1b5"/><stop offset="0.757" stop-color="#f4aaae"/><stop offset="0.814" stop-color="#f5b4b7"/><stop offset="1.000" stop-color="#f5b5b9"/></linearGradient><linearGradient id="hm2_12"><stop offset="0.000" stop-color="#f6bbbe"/><stop offset="0.179" stop-color="#f6b8bb"/><stop offset="0.193" stop-color="#f4adb0"/><stop offset="0.200" stop-color="#f3a0a4"/><stop offset="0.214" stop-color="#ed747a"/><stop offset="0.229" stop-color="#e7464e"/><stop offset="0.243" stop-color="#e42d37"/><stop offset="0.250" stop-color="#e53740"/><stop offset="0.279" stop-color="#ef8186"/><stop offset="0.293" stop-color="#f29b9f"/><stop offset="0.314" stop-color="#f4aaae"/><stop offset="0.564" stop-color="#f5b3b7"/><stop offset="0.714" stop-color="#f5b3b6"/><stop offset="0.757" stop-color="#f5aeb1"/><stop offset="0.814" stop-color="#f6b6ba"/><stop offset="1.000" stop-color="#f6b8bb"/></linearGradient><linearGradient id="hm2_13"><stop offset="0.000" stop-color="#f7bdc0"/><stop offset="0.179" stop-color="#f6bbbe"/><stop offset="0.193" stop-color="#f5b2b5"/><stop offset="0.200" stop-color="#f4a6aa"/><stop offset="0.207" stop-color="#f19499"/><stop offset="0.229" stop-color="#e84c54"/><stop offset="0.243" stop-color="#e5343d"/><stop offset="0.250" stop-color="#e63e47"/><stop offset="0.279" stop-color="#f0898f"/><stop offset="0.293" stop-color="#f3a2a6"/><stop offset="0.314" stop-color="#f5afb3"/><stop offset="0.707" stop-color="#f6b7ba"/><stop offset="0.757" stop-color="#f5b1b4"/><stop offset="0.821" stop-color="#f6b9bc"/><stop offset="1.000" stop-color="#f6bbbe"/></linearGradient><linearGradient id="hm2_14"><stop offset="0.000" stop-color="#f7c0c3"/><stop offset="0.179" stop-color="#f7bfc1"/><stop offset="0.193" stop-color="#f6b7ba"/><stop offset="0.200" stop-color="#f4acb0"/><stop offset="0.207" stop-color="#f29b9f"/><stop offset="0.229" stop-color="#e95159"/><stop offset="0.243" stop-color="#e63a43"/><stop offset="0.250" stop-color="#e7454d"/><stop offset="0.279" stop-color="#f19196"/><stop offset="0.293" stop-color="#f4a8ac"/><stop offset="0.314" stop-color="#f5b3b7"/><stop offset="0.714" stop-color="#f6b9bc"/><stop offset="0.757" stop-color="#f5b4b8"/><stop offset="0.821" stop-color="#f6bcbf"/><stop offset="1.000" stop-color="#f7bdc0"/></linearGradient><linearGradient id="hm2_15"><stop offset="0.000" stop-color="#f7c2c5"/><stop offset="0.186" stop-color="#f7c0c2"/><stop offset="0.200" stop-color="#f5b2b5"/><stop offset="0.207" stop-color="#f3a2a6"/><stop offset="0.229" stop-color="#e9575e"/><stop offset="0.243" stop-color="#e64049"/><stop offset="0.250" stop-color="#e84c54"/><stop offset="0.279" stop-color="#f2999e"/><stop offset="0.293" stop-color="#f5aeb2"/><stop offset="0.314" stop-color="#f6b7ba"/><stop offset="0.714" stop-color="#f6bcbf"/><stop offset="0.757" stop-color="#f6b8bb"/><stop offset="0.829" stop-color="#f7bfc2"/><stop offset="1.000" stop-color="#f7c0c3"/></linearGradient><linearGradient id="hm2_16"><stop offset="0.000" stop-color="#f8c5c7"/><stop offset="0.186" stop-color="#f7c3c5"/><stop offset="0.200" stop-color="#f6b7ba"/><stop offset="0.207" stop-color="#f4a8ab"/><stop offset="0.229" stop-color="#ea5c63"/><stop offset="0.243" stop-color="#e7464f"/><stop offset="0.250" stop-color="#e9535a"/><stop offset="0.271" stop-color="#f19095"/><stop offset="0.286" stop-color="#f4acaf"/><stop offset="0.300" stop-color="#f6b8bb"/><stop offset="0.386" stop-color="#f6bdc0"/><stop offset="0.714" stop-color="#f7bfc2"/><stop offset="0.757" stop-color="#f6bbbe"/><stop offset="0.829" stop-color="#f7c2c5"/><stop offset="1.000" stop-color="#f7c3c6"/></linearGradient><linearGradient id="hm2_17"><stop offset="0.000" stop-color="#f8c7ca"/><stop offset="0.186" stop-color="#f8c6c8"/><stop offset="0.200" stop-color="#f6bbbe"/><stop offset="0.207" stop-color="#f4adb1"/><stop offset="0.214" stop-color="#f2979b"/><stop offset="0.229" stop-color="#eb6269"/><stop offset="0.236" stop-color="#e9545b"/><stop offset="0.243" stop-color="#e84c54"/><stop offset="0.250" stop-color="#ea5961"/><stop offset="0.271" stop-color="#f2979b"/><stop offset="0.286" stop-color="#f5b1b5"/><stop offset="0.307" stop-color="#f7bec1"/><stop offset="0.714" stop-color="#f7c2c5"/><stop offset="0.757" stop-color="#f7bec1"/><stop offset="0.836" stop-color="#f7c5c7"/><stop offset="1.000" stop-color="#f8c6c8"/></linearGradient><linearGradient id="hm2_18"><stop offset="0.000" stop-color="#f8cacc"/><stop offset="0.186" stop-color="#f8c9cb"/><stop offset="0.200" stop-color="#f7bfc2"/><stop offset="0.207" stop-color="#f5b2b6"/><stop offset="0.214" stop-color="#f29da1"/><stop offset="0.229" stop-color="#eb676e"/><stop offset="0.236" stop-color="#ea5960"/><stop offset="0.243" stop-color="#e9535a"/><stop offset="0.250" stop-color="#ea6067"/><stop offset="0.271" stop-color="#f29da2"/><stop offset="0.286" stop-color="#f6b7ba"/><stop offset="0.307" stop-color="#f7c2c4"/><stop offset="0.714" stop-color="#f8c5c8"/><stop offset="0.764" stop-color="#f7c3c5"/><stop offset="0.864" stop-color="#f8c8ca"/><stop offset="1.000" stop-color="#f8c8cb"/></linearGradient><linearGradient id="hm2_19"><stop offset="0.000" stop-color="#f8cccf"/><stop offset="0.186" stop-color="#f8cbce"/><stop offset="0.200" stop-color="#f7c3c6"/><stop offset="0.207" stop-color="#f6b7ba"/><stop offset="0.214" stop-color="#f3a2a6"/><stop offset="0.229" stop-color="#ec6c73"/><stop offset="0.236" stop-color="#ea5e65"/><stop offset="0.243" stop-color="#ea5960"/><stop offset="0.250" stop-color="#eb666d"/><stop offset="0.271" stop-color="#f3a3a8"/><stop offset="0.286" stop-color="#f6bcbf"/><stop offset="0.307" stop-color="#f8c5c8"/><stop offset="0.721" stop-color="#f8c7ca"/><stop offset="0.771" stop-color="#f8c7ca"/><stop offset="1.000" stop-color="#f8cbcd"/></linearGradient><linearGradient id="hm2_20"><stop offset="0.000" stop-color="#f9cfd1"/><stop offset="0.193" stop-color="#f8ccce"/><stop offset="0.200" stop-color="#f8c7c9"/><stop offset="0.207" stop-color="#f6bbbe"/><stop offset="0.214" stop-color="#f4a7ab"/><stop offset="0.229" stop-color="#ed7177"/><stop offset="0.236" stop-color="#eb6269"/><stop offset="0.243" stop-color="#ea5e66"/><stop offset="0.250" stop-color="#ec6c73"/><stop offset="0.271" stop-color="#f4a9ad"/><stop offset="0.286" stop-color="#f7c0c3"/><stop offset="0.307" stop-color="#f8c9cb"/><stop offset="0.721" stop-color="#f8cacd"/><stop offset="0.771" stop-color="#f8cacc"/><stop offset="1.000" stop-color="#f9ced0"/></linearGradient><linearGradient id="hm2_21"><stop offset="0.000" stop-color="#f9d1d3"/><stop offset="0.193" stop-color="#f9cfd1"/><stop offset="0.200" stop-color="#f8cacc"/><stop offset="0.207" stop-color="#f7bfc2"/><stop offset="0.214" stop-color="#f4abaf"/><stop offset="0.229" stop-color="#ed767c"/><stop offset="0.236" stop-color="#eb676e"/><stop offset="0.243" stop-color="#eb646b"/><stop offset="0.250" stop-color="#ed7278"/><stop offset="0.271" stop-color="#f5aeb2"/><stop offset="0.286" stop-color="#f7c4c7"/><stop offset="0.307" stop-color="#f8ccce"/><stop offset="0.721" stop-color="#f9cdd0"/><stop offset="0.779" stop-color="#f9ced0"/><stop offset="1.000" stop-color="#f9d0d2"/></linearGradient><linearGradient id="hm2_22"><stop offset="0.000" stop-color="#f9d4d6"/><stop offset="0.193" stop-color="#f9d2d4"/><stop offset="0.200" stop-color="#f9cdcf"/><stop offset="0.207" stop-color="#f7c3c5"/><stop offset="0.214" stop-color="#f5b0b3"/><stop offset="0.229" stop-color="#ee7b81"/><stop offset="0.236" stop-color="#ec6c73"/><stop offset="0.243" stop-color="#ec6a71"/><stop offset="0.250" stop-color="#ee787e"/><stop offset="0.271" stop-color="#f5b3b7"/><stop offset="0.286" stop-color="#f8c8cb"/><stop offset="0.314" stop-color="#f9d0d2"/><stop offset="0.729" stop-color="#f9d0d2"/><stop offset="1.000" stop-color="#f9d3d5"/></linearGradient><linearGradient id="hm2_23"><stop offset="0.000" stop-color="#fad6d8"/><stop offset="0.193" stop-color="#f9d4d6"/><stop offset="0.200" stop-color="#f9d0d2"/><stop offset="0.207" stop-color="#f8c6c9"/><stop offset="0.214" stop-color="#f5b4b7"/><stop offset="0.229" stop-color="#ef8085"/><stop offset="0.236" stop-color="#ed7177"/><stop offset="0.243" stop-color="#ed7076"/><stop offset="0.250" stop-color="#ee7d83"/><stop offset="0.271" stop-color="#f6b8bb"/><stop offset="0.286" stop-color="#f8ccce"/><stop offset="0.314" stop-color="#f9d3d5"/><stop offset="0.736" stop-color="#f9d2d4"/><stop offset="1.000" stop-color="#fad5d7"/></linearGradient><linearGradient id="hm2_24"><stop offset="0.000" stop-color="#fad9da"/><stop offset="0.193" stop-color="#fad7d9"/><stop offset="0.200" stop-color="#f9d3d5"/><stop offset="0.207" stop-color="#f8c9cc"/><stop offset="0.214" stop-color="#f6b8bb"/><stop offset="0.229" stop-color="#ef848a"/><stop offset="0.236" stop-color="#ed767c"/><stop offset="0.243" stop-color="#ed757b"/><stop offset="0.250" stop-color="#ef8388"/><stop offset="0.271" stop-color="#f6bcbf"/><stop offset="0.286" stop-color="#f9d0d2"/><stop offset="0.314" stop-color="#fad6d8"/><stop offset="0.800" stop-color="#fad8d9"/><stop offset="1.000" stop-color="#fad8da"/></linearGradient><linearGradient id="hm2_25"><stop offset="0.000" stop-color="#fadbdd"/><stop offset="0.193" stop-color="#fad9db"/><stop offset="0.207" stop-color="#f9cdcf"/><stop offset="0.214" stop-color="#f6bbbe"/><stop offset="0.229" stop-color="#f0898e"/><stop offset="0.236" stop-color="#ee7b81"/><stop offset="0.243" stop-color="#ee7b81"/><stop offset="0.250" stop-color="#f0888d"/><stop offset="0.271" stop-color="#f7c1c3"/><stop offset="0.286" stop-color="#f9d3d5"/><stop offset="0.314" stop-color="#fad9db"/><stop offset="1.000" stop-color="#fadbdc"/></linearGradient><linearGradient id="hm2_26"><stop offset="0.000" stop-color="#fbdedf"/><stop offset="0.193" stop-color="#fadcde"/><stop offset="0.207" stop-color="#f9d0d2"/><stop offset="0.214" stop-color="#f7bfc2"/><stop offset="0.229" stop-color="#f08e93"/><stop offset="0.236" stop-color="#ef7f85"/><stop offset="0.243" stop-color="#ef8086"/><stop offset="0.250" stop-color="#f08d92"/><stop offset="0.271" stop-color="#f7c4c7"/><stop offset="0.286" stop-color="#fad7d8"/><stop offset="0.321" stop-color="#fbdcde"/><stop offset="1.000" stop-color="#fbdddf"/></linearGradient><linearGradient id="hm2_27"><stop offset="0.000" stop-color="#fbe0e1"/><stop offset="0.193" stop-color="#fbdfe0"/><stop offset="0.207" stop-color="#f9d3d5"/><stop offset="0.214" stop-color="#f7c2c5"/><stop offset="0.229" stop-color="#f19297"/><stop offset="0.236" stop-color="#ef848a"/><stop offset="0.243" stop-color="#ef868b"/><stop offset="0.250" stop-color="#f19297"/><stop offset="0.271" stop-color="#f8c8cb"/><stop offset="0.286" stop-color="#fadadb"/><stop offset="0.321" stop-color="#fbdfe1"/><stop offset="1.000" stop-color="#fbe0e1"/></linearGradient><linearGradient id="hm2_28"><stop offset="0.000" stop-color="#fbe3e4"/><stop offset="0.193" stop-color="#fbe1e2"/><stop offset="0.207" stop-color="#fad5d7"/><stop offset="0.214" stop-color="#f8c5c8"/><stop offset="0.229" stop-color="#f2979b"/><stop offset="0.236" stop-color="#f0898e"/><stop offset="0.243" stop-color="#f08b90"/><stop offset="0.250" stop-color="#f2979c"/><stop offset="0.271" stop-color="#f8ccce"/><stop offset="0.286" stop-color="#fbddde"/><stop offset="0.321" stop-color="#fbe2e3"/><stop offset="1.000" stop-color="#fbe2e4"/></linearGradient><linearGradient id="hm2_29"><stop offset="0.000" stop-color="#fce5e6"/><stop offset="0.193" stop-color="#fbe4e5"/><stop offset="0.207" stop-color="#fad8da"/><stop offset="0.214" stop-color="#f8c9cb"/><stop offset="0.229" stop-color="#f29b9f"/><stop offset="0.236" stop-color="#f08e93"/><stop offset="0.243" stop-color="#f19095"/><stop offset="0.250" stop-color="#f29ca0"/><stop offset="0.271" stop-color="#f9cfd1"/><stop offset="0.286" stop-color="#fbe0e1"/><stop offset="0.321" stop-color="#fce5e6"/><stop offset="1.000" stop-color="#fce5e6"/></linearGradient><clipPath id="hmclip2"><rect x="133.4" y="206.0" width="34.5" height="100.0"/></clipPath><linearGradient id="hm3_0"><stop offset="0.000" stop-color="#f29a9f"/><stop offset="0.129" stop-color="#f2979c"/><stop offset="0.157" stop-color="#f08d92"/><stop offset="0.179" stop-color="#ee787e"/><stop offset="0.229" stop-color="#e42a34"/><stop offset="0.243" stop-color="#e21f29"/><stop offset="0.286" stop-color="#e21e28"/><stop offset="0.300" stop-color="#e42d36"/><stop offset="0.343" stop-color="#eb636a"/><stop offset="0.379" stop-color="#ee7c82"/><stop offset="0.436" stop-color="#f0878c"/><stop offset="0.707" stop-color="#f08e93"/><stop offset="0.750" stop-color="#ef858a"/><stop offset="0.807" stop-color="#f19297"/><stop offset="1.000" stop-color="#f1959a"/></linearGradient><linearGradient id="hm3_1"><stop offset="0.000" stop-color="#f5b3b6"/><stop offset="0.136" stop-color="#f5b0b4"/><stop offset="0.164" stop-color="#f3a4a8"/><stop offset="0.186" stop-color="#f08e93"/><stop offset="0.229" stop-color="#e7464f"/><stop offset="0.243" stop-color="#e53942"/><stop offset="0.250" stop-color="#e21e28"/><stop offset="0.264" stop-color="#e3232c"/><stop offset="0.293" stop-color="#e7424b"/><stop offset="0.336" stop-color="#ee7c81"/><stop offset="0.364" stop-color="#f19297"/><stop offset="0.414" stop-color="#f39fa4"/><stop offset="0.707" stop-color="#f4a7ab"/><stop offset="0.750" stop-color="#f39ea3"/><stop offset="0.807" stop-color="#f4abaf"/><stop offset="1.000" stop-color="#f5aeb1"/></linearGradient><linearGradient id="hm3_2"><stop offset="0.000" stop-color="#f5b5b8"/><stop offset="0.143" stop-color="#f5b2b6"/><stop offset="0.171" stop-color="#f3a5a9"/><stop offset="0.193" stop-color="#f08b91"/><stop offset="0.229" stop-color="#e84c54"/><stop offset="0.243" stop-color="#e63d46"/><stop offset="0.250" stop-color="#e3222c"/><stop offset="0.271" stop-color="#e42f38"/><stop offset="0.329" stop-color="#ee7d83"/><stop offset="0.357" stop-color="#f1959a"/><stop offset="0.400" stop-color="#f3a1a6"/><stop offset="0.707" stop-color="#f4a9ad"/><stop offset="0.750" stop-color="#f3a1a5"/><stop offset="0.807" stop-color="#f4adb1"/><stop offset="1.000" stop-color="#f5b0b3"/></linearGradient><linearGradient id="hm3_3"><stop offset="0.000" stop-color="#f6b7ba"/><stop offset="0.150" stop-color="#f5b4b7"/><stop offset="0.179" stop-color="#f3a5a9"/><stop offset="0.200" stop-color="#f0888d"/><stop offset="0.229" stop-color="#e95259"/><stop offset="0.243" stop-color="#e7414a"/><stop offset="0.250" stop-color="#e32731"/><stop offset="0.271" stop-color="#e5353e"/><stop offset="0.329" stop-color="#ef868c"/><stop offset="0.357" stop-color="#f29ca0"/><stop offset="0.407" stop-color="#f3a5a9"/><stop offset="0.707" stop-color="#f4acb0"/><stop offset="0.750" stop-color="#f3a4a8"/><stop offset="0.807" stop-color="#f5b0b3"/><stop offset="1.000" stop-color="#f5b2b6"/></linearGradient><linearGradient id="hm3_4"><stop offset="0.000" stop-color="#f6b9bc"/><stop offset="0.157" stop-color="#f6b6b9"/><stop offset="0.179" stop-color="#f4acaf"/><stop offset="0.200" stop-color="#f19095"/><stop offset="0.236" stop-color="#e84c54"/><stop offset="0.243" stop-color="#e7454e"/><stop offset="0.250" stop-color="#e42d36"/><stop offset="0.264" stop-color="#e5343d"/><stop offset="0.286" stop-color="#e95158"/><stop offset="0.321" stop-color="#f0878c"/><stop offset="0.350" stop-color="#f39ea2"/><stop offset="0.400" stop-color="#f4a8ac"/><stop offset="0.707" stop-color="#f5aeb2"/><stop offset="0.750" stop-color="#f4a7ab"/><stop offset="0.807" stop-color="#f5b2b5"/><stop offset="1.000" stop-color="#f5b4b8"/></linearGradient><linearGradient id="hm3_5"><stop offset="0.000" stop-color="#f6bbbe"/><stop offset="0.164" stop-color="#f6b7bb"/><stop offset="0.186" stop-color="#f4abaf"/><stop offset="0.207" stop-color="#f08b90"/><stop offset="0.236" stop-color="#e95159"/><stop offset="0.243" stop-color="#e84951"/><stop offset="0.250" stop-color="#e5323b"/><stop offset="0.264" stop-color="#e63a43"/><stop offset="0.293" stop-color="#eb656c"/><stop offset="0.321" stop-color="#f19094"/><stop offset="0.350" stop-color="#f3a4a8"/><stop offset="0.414" stop-color="#f4acb0"/><stop offset="0.707" stop-color="#f5b1b4"/><stop offset="0.750" stop-color="#f4aaad"/><stop offset="0.807" stop-color="#f5b4b8"/><stop offset="1.000" stop-color="#f6b7ba"/></linearGradient><linearGradient id="hm3_6"><stop offset="0.000" stop-color="#f6bdc0"/><stop offset="0.164" stop-color="#f6bbbe"/><stop offset="0.186" stop-color="#f5b1b4"/><stop offset="0.200" stop-color="#f3a0a4"/><stop offset="0.236" stop-color="#e9565e"/><stop offset="0.243" stop-color="#e84e55"/><stop offset="0.250" stop-color="#e53740"/><stop offset="0.264" stop-color="#e64048"/><stop offset="0.293" stop-color="#ec6e75"/><stop offset="0.314" stop-color="#f18f94"/><stop offset="0.336" stop-color="#f3a3a7"/><stop offset="0.379" stop-color="#f4adb1"/><stop offset="0.707" stop-color="#f5b3b7"/><stop offset="0.750" stop-color="#f4adb0"/><stop offset="0.807" stop-color="#f6b7ba"/><stop offset="1.000" stop-color="#f6b9bc"/></linearGradient><linearGradient id="hm3_7"><stop offset="0.000" stop-color="#f7bfc2"/><stop offset="0.171" stop-color="#f6bcbf"/><stop offset="0.193" stop-color="#f5b0b3"/><stop offset="0.207" stop-color="#f29a9f"/><stop offset="0.236" stop-color="#ea5b62"/><stop offset="0.243" stop-color="#e95259"/><stop offset="0.250" stop-color="#e63c45"/><stop offset="0.264" stop-color="#e7464e"/><stop offset="0.307" stop-color="#f08e93"/><stop offset="0.329" stop-color="#f3a4a8"/><stop offset="0.364" stop-color="#f5afb3"/><stop offset="0.707" stop-color="#f6b6b9"/><stop offset="0.750" stop-color="#f5afb3"/><stop offset="0.814" stop-color="#f6b9bc"/><stop offset="1.000" stop-color="#f6bbbe"/></linearGradient><linearGradient id="hm3_8"><stop offset="0.000" stop-color="#f7c1c3"/><stop offset="0.179" stop-color="#f7bec0"/><stop offset="0.200" stop-color="#f4adb1"/><stop offset="0.214" stop-color="#f19398"/><stop offset="0.236" stop-color="#eb6067"/><stop offset="0.243" stop-color="#e9565d"/><stop offset="0.250" stop-color="#e7414a"/><stop offset="0.264" stop-color="#e84c54"/><stop offset="0.307" stop-color="#f2969b"/><stop offset="0.329" stop-color="#f4aaae"/><stop offset="0.371" stop-color="#f5b3b6"/><stop offset="0.707" stop-color="#f6b8bc"/><stop offset="0.750" stop-color="#f5b2b6"/><stop offset="0.814" stop-color="#f6bcbf"/><stop offset="1.000" stop-color="#f7bdc0"/></linearGradient><linearGradient id="hm3_9"><stop offset="0.000" stop-color="#f7c3c5"/><stop offset="0.179" stop-color="#f7c1c3"/><stop offset="0.200" stop-color="#f5b3b6"/><stop offset="0.214" stop-color="#f29a9e"/><stop offset="0.236" stop-color="#eb656c"/><stop offset="0.243" stop-color="#ea5a61"/><stop offset="0.250" stop-color="#e7464f"/><stop offset="0.264" stop-color="#e95259"/><stop offset="0.300" stop-color="#f19499"/><stop offset="0.321" stop-color="#f4acaf"/><stop offset="0.357" stop-color="#f6b5b9"/><stop offset="0.707" stop-color="#f6bbbe"/><stop offset="0.750" stop-color="#f5b5b8"/><stop offset="0.814" stop-color="#f7bec1"/><stop offset="1.000" stop-color="#f7c0c2"/></linearGradient><linearGradient id="hm3_10"><stop offset="0.000" stop-color="#f7c5c7"/><stop offset="0.186" stop-color="#f7c2c4"/><stop offset="0.200" stop-color="#f6b8bb"/><stop offset="0.214" stop-color="#f3a1a5"/><stop offset="0.236" stop-color="#ec6a71"/><stop offset="0.243" stop-color="#ea5e65"/><stop offset="0.250" stop-color="#e84b53"/><stop offset="0.264" stop-color="#e9585f"/><stop offset="0.300" stop-color="#f29ca0"/><stop offset="0.321" stop-color="#f5b1b4"/><stop offset="0.364" stop-color="#f6b9bc"/><stop offset="0.707" stop-color="#f7bdc0"/><stop offset="0.750" stop-color="#f6b8bb"/><stop offset="0.814" stop-color="#f7c0c3"/><stop offset="1.000" stop-color="#f7c2c4"/></linearGradient><linearGradient id="hm3_11"><stop offset="0.000" stop-color="#f8c7c9"/><stop offset="0.186" stop-color="#f7c5c7"/><stop offset="0.200" stop-color="#f6bdc0"/><stop offset="0.214" stop-color="#f4a7ab"/><stop offset="0.236" stop-color="#ed7076"/><stop offset="0.250" stop-color="#e85058"/><stop offset="0.257" stop-color="#e9545c"/><stop offset="0.271" stop-color="#ec6b72"/><stop offset="0.293" stop-color="#f2979c"/><stop offset="0.314" stop-color="#f5b2b5"/><stop offset="0.343" stop-color="#f6bbbe"/><stop offset="0.707" stop-color="#f7c0c3"/><stop offset="0.757" stop-color="#f6bbbe"/><stop offset="0.821" stop-color="#f7c3c5"/><stop offset="1.000" stop-color="#f7c4c7"/></linearGradient><linearGradient id="hm3_12"><stop offset="0.000" stop-color="#f8c9cb"/><stop offset="0.186" stop-color="#f8c7ca"/><stop offset="0.200" stop-color="#f7c1c4"/><stop offset="0.214" stop-color="#f4adb1"/><stop offset="0.236" stop-color="#ed757b"/><stop offset="0.250" stop-color="#e9555d"/><stop offset="0.257" stop-color="#ea5a61"/><stop offset="0.271" stop-color="#ed7278"/><stop offset="0.293" stop-color="#f39fa3"/><stop offset="0.307" stop-color="#f5b1b5"/><stop offset="0.329" stop-color="#f6bcbf"/><stop offset="0.707" stop-color="#f7c2c5"/><stop offset="0.757" stop-color="#f7bec1"/><stop offset="0.829" stop-color="#f8c5c8"/><stop offset="1.000" stop-color="#f8c6c9"/></linearGradient><linearGradient id="hm3_13"><stop offset="0.000" stop-color="#f8cbcd"/><stop offset="0.193" stop-color="#f8c8cb"/><stop offset="0.207" stop-color="#f7bec1"/><stop offset="0.221" stop-color="#f3a3a7"/><stop offset="0.236" stop-color="#ee7a80"/><stop offset="0.250" stop-color="#ea5a62"/><stop offset="0.257" stop-color="#ea5f66"/><stop offset="0.271" stop-color="#ee787e"/><stop offset="0.293" stop-color="#f3a5a9"/><stop offset="0.307" stop-color="#f6b7ba"/><stop offset="0.336" stop-color="#f7c0c3"/><stop offset="0.714" stop-color="#f7c4c7"/><stop offset="0.757" stop-color="#f7c1c4"/><stop offset="0.836" stop-color="#f8c7ca"/><stop offset="1.000" stop-color="#f8c8cb"/></linearGradient><linearGradient id="hm3_14"><stop offset="0.000" stop-color="#f8cdcf"/><stop offset="0.193" stop-color="#f8cbcd"/><stop offset="0.207" stop-color="#f7c3c5"/><stop offset="0.214" stop-color="#f6b8bb"/><stop offset="0.229" stop-color="#f19499"/><stop offset="0.243" stop-color="#ec6f75"/><stop offset="0.250" stop-color="#ea5f66"/><stop offset="0.257" stop-color="#eb646b"/><stop offset="0.271" stop-color="#ee7f84"/><stop offset="0.293" stop-color="#f4acaf"/><stop offset="0.307" stop-color="#f6bcbf"/><stop offset="0.336" stop-color="#f7c3c6"/><stop offset="0.714" stop-color="#f8c6c9"/><stop offset="0.757" stop-color="#f7c4c6"/><stop offset="0.836" stop-color="#f8cacc"/><stop offset="1.000" stop-color="#f8cacd"/></linearGradient><linearGradient id="hm3_15"><stop offset="0.000" stop-color="#f9ced1"/><stop offset="0.193" stop-color="#f9cdd0"/><stop offset="0.207" stop-color="#f8c6c9"/><stop offset="0.214" stop-color="#f6bdc0"/><stop offset="0.229" stop-color="#f2999e"/><stop offset="0.243" stop-color="#ed7379"/><stop offset="0.250" stop-color="#eb646b"/><stop offset="0.257" stop-color="#ec6970"/><stop offset="0.271" stop-color="#ef858a"/><stop offset="0.293" stop-color="#f5b2b5"/><stop offset="0.307" stop-color="#f7c0c3"/><stop offset="0.343" stop-color="#f8c7c9"/><stop offset="0.714" stop-color="#f8c9cb"/><stop offset="0.757" stop-color="#f8c6c9"/><stop offset="0.843" stop-color="#f8ccce"/><stop offset="1.000" stop-color="#f9cdcf"/></linearGradient><linearGradient id="hm3_16"><stop offset="0.000" stop-color="#f9d0d3"/><stop offset="0.200" stop-color="#f9ced0"/><stop offset="0.214" stop-color="#f7c1c4"/><stop offset="0.221" stop-color="#f5b3b6"/><stop offset="0.243" stop-color="#ee777d"/><stop offset="0.250" stop-color="#ec6970"/><stop offset="0.257" stop-color="#ec6e75"/><stop offset="0.271" stop-color="#f08b90"/><stop offset="0.286" stop-color="#f4abaf"/><stop offset="0.300" stop-color="#f7bfc2"/><stop offset="0.321" stop-color="#f8c8cb"/><stop offset="0.714" stop-color="#f8cbce"/><stop offset="0.764" stop-color="#f8cacc"/><stop offset="0.914" stop-color="#f9ced1"/><stop offset="1.000" stop-color="#f9cfd1"/></linearGradient><linearGradient id="hm3_17"><stop offset="0.000" stop-color="#f9d2d4"/><stop offset="0.200" stop-color="#f9d1d3"/><stop offset="0.214" stop-color="#f8c5c8"/><stop offset="0.221" stop-color="#f6b7bb"/><stop offset="0.243" stop-color="#ee7b81"/><stop offset="0.250" stop-color="#ec6e74"/><stop offset="0.257" stop-color="#ed7379"/><stop offset="0.271" stop-color="#f19196"/><stop offset="0.286" stop-color="#f5b1b4"/><stop offset="0.300" stop-color="#f7c3c6"/><stop offset="0.329" stop-color="#f8ccce"/><stop offset="0.721" stop-color="#f9cdcf"/><stop offset="0.771" stop-color="#f9ced0"/><stop offset="1.000" stop-color="#f9d1d3"/></linearGradient><linearGradient id="hm3_18"><stop offset="0.000" stop-color="#fad4d6"/><stop offset="0.200" stop-color="#f9d3d5"/><stop offset="0.214" stop-color="#f8c9cb"/><stop offset="0.221" stop-color="#f6bcbf"/><stop offset="0.243" stop-color="#ef7f85"/><stop offset="0.250" stop-color="#ed7379"/><stop offset="0.257" stop-color="#ee787e"/><stop offset="0.271" stop-color="#f1969b"/><stop offset="0.286" stop-color="#f6b6b9"/><stop offset="0.300" stop-color="#f8c7ca"/><stop offset="0.329" stop-color="#f9cfd1"/><stop offset="0.721" stop-color="#f9cfd2"/><stop offset="0.779" stop-color="#f9d1d3"/><stop offset="1.000" stop-color="#f9d3d5"/></linearGradient><linearGradient id="hm3_19"><stop offset="0.000" stop-color="#fad6d8"/><stop offset="0.200" stop-color="#fad5d7"/><stop offset="0.214" stop-color="#f8ccce"/><stop offset="0.221" stop-color="#f7c0c3"/><stop offset="0.243" stop-color="#ef8489"/><stop offset="0.250" stop-color="#ee777d"/><stop offset="0.257" stop-color="#ee7d83"/><stop offset="0.286" stop-color="#f6bbbe"/><stop offset="0.300" stop-color="#f8cbcd"/><stop offset="0.336" stop-color="#f9d1d3"/><stop offset="0.721" stop-color="#f9d2d4"/><stop offset="0.786" stop-color="#f9d4d6"/><stop offset="1.000" stop-color="#fad5d7"/></linearGradient><linearGradient id="hm3_20"><stop offset="0.000" stop-color="#fad8da"/><stop offset="0.200" stop-color="#fad7d9"/><stop offset="0.214" stop-color="#f9cfd1"/><stop offset="0.221" stop-color="#f7c3c6"/><stop offset="0.243" stop-color="#f0878d"/><stop offset="0.250" stop-color="#ee7c82"/><stop offset="0.257" stop-color="#ef8287"/><stop offset="0.286" stop-color="#f7bfc2"/><stop offset="0.300" stop-color="#f9ced1"/><stop offset="0.343" stop-color="#f9d4d6"/><stop offset="0.729" stop-color="#f9d4d6"/><stop offset="1.000" stop-color="#fad7d9"/></linearGradient><linearGradient id="hm3_21"><stop offset="0.000" stop-color="#fadadc"/><stop offset="0.207" stop-color="#fad7d9"/><stop offset="0.214" stop-color="#f9d2d4"/><stop offset="0.221" stop-color="#f8c7c9"/><stop offset="0.243" stop-color="#f08b91"/><stop offset="0.250" stop-color="#ef8186"/><stop offset="0.257" stop-color="#ef868c"/><stop offset="0.286" stop-color="#f7c3c6"/><stop offset="0.300" stop-color="#f9d2d4"/><stop offset="0.350" stop-color="#fad7d9"/><stop offset="0.729" stop-color="#fad6d8"/><stop offset="1.000" stop-color="#fadadb"/></linearGradient><linearGradient id="hm3_22"><stop offset="0.000" stop-color="#fbdcde"/><stop offset="0.207" stop-color="#fadadb"/><stop offset="0.214" stop-color="#fad5d7"/><stop offset="0.221" stop-color="#f8cacc"/><stop offset="0.243" stop-color="#f18f94"/><stop offset="0.250" stop-color="#ef858b"/><stop offset="0.257" stop-color="#f08b90"/><stop offset="0.286" stop-color="#f8c7c9"/><stop offset="0.300" stop-color="#fad5d7"/><stop offset="0.357" stop-color="#fadadb"/><stop offset="0.786" stop-color="#fadbdc"/><stop offset="1.000" stop-color="#fadcdd"/></linearGradient><linearGradient id="hm3_23"><stop offset="0.000" stop-color="#fbdee0"/><stop offset="0.207" stop-color="#fadcdd"/><stop offset="0.214" stop-color="#fad7d9"/><stop offset="0.221" stop-color="#f9cdcf"/><stop offset="0.243" stop-color="#f19398"/><stop offset="0.250" stop-color="#f08a8f"/><stop offset="0.257" stop-color="#f19095"/><stop offset="0.286" stop-color="#f8cbcd"/><stop offset="0.300" stop-color="#fad8da"/><stop offset="0.371" stop-color="#fbdcde"/><stop offset="1.000" stop-color="#fbdedf"/></linearGradient><linearGradient id="hm3_24"><stop offset="0.000" stop-color="#fbe0e2"/><stop offset="0.207" stop-color="#fbdee0"/><stop offset="0.214" stop-color="#fadadb"/><stop offset="0.221" stop-color="#f9d0d2"/><stop offset="0.243" stop-color="#f2979c"/><stop offset="0.250" stop-color="#f08e93"/><stop offset="0.257" stop-color="#f19499"/><stop offset="0.286" stop-color="#f9ced0"/><stop offset="0.300" stop-color="#fadbdc"/><stop offset="0.393" stop-color="#fbdfe0"/><stop offset="1.000" stop-color="#fbe0e1"/></linearGradient><linearGradient id="hm3_25"><stop offset="0.000" stop-color="#fbe2e4"/><stop offset="0.207" stop-color="#fbe0e2"/><stop offset="0.221" stop-color="#f9d2d4"/><stop offset="0.243" stop-color="#f29b9f"/><stop offset="0.250" stop-color="#f19398"/><stop offset="0.257" stop-color="#f2989d"/><stop offset="0.286" stop-color="#f9d1d3"/><stop offset="0.300" stop-color="#fbdddf"/><stop offset="0.414" stop-color="#fbe1e2"/><stop offset="1.000" stop-color="#fbe2e3"/></linearGradient><linearGradient id="hm3_26"><stop offset="0.000" stop-color="#fce4e5"/><stop offset="0.207" stop-color="#fbe2e4"/><stop offset="0.221" stop-color="#fad5d7"/><stop offset="0.243" stop-color="#f39fa3"/><stop offset="0.250" stop-color="#f2979c"/><stop offset="0.257" stop-color="#f29da1"/><stop offset="0.286" stop-color="#f9d4d6"/><stop offset="0.300" stop-color="#fbe0e1"/><stop offset="0.436" stop-color="#fbe4e5"/><stop offset="1.000" stop-color="#fce4e5"/></linearGradient><linearGradient id="hm3_27"><stop offset="0.000" stop-color="#fce6e7"/><stop offset="0.207" stop-color="#fce4e6"/><stop offset="0.221" stop-color="#fad7d9"/><stop offset="0.243" stop-color="#f3a2a6"/><stop offset="0.250" stop-color="#f29ca0"/><stop offset="0.257" stop-color="#f3a1a5"/><stop offset="0.286" stop-color="#fad7d9"/><stop offset="0.300" stop-color="#fbe2e4"/><stop offset="0.479" stop-color="#fce6e7"/><stop offset="1.000" stop-color="#fce6e7"/></linearGradient><linearGradient id="hm3_28"><stop offset="0.000" stop-color="#fce8e9"/><stop offset="0.207" stop-color="#fce6e7"/><stop offset="0.221" stop-color="#fadadb"/><stop offset="0.243" stop-color="#f4a6aa"/><stop offset="0.250" stop-color="#f3a0a4"/><stop offset="0.257" stop-color="#f3a5a9"/><stop offset="0.286" stop-color="#fadadb"/><stop offset="0.300" stop-color="#fce5e6"/><stop offset="0.529" stop-color="#fce8e9"/><stop offset="1.000" stop-color="#fce8e9"/></linearGradient><linearGradient id="hm3_29"><stop offset="0.000" stop-color="#fceaeb"/><stop offset="0.207" stop-color="#fce8e9"/><stop offset="0.221" stop-color="#fadcde"/><stop offset="0.243" stop-color="#f4aaad"/><stop offset="0.250" stop-color="#f3a4a8"/><stop offset="0.257" stop-color="#f4a9ad"/><stop offset="0.286" stop-color="#fbdcde"/><stop offset="0.300" stop-color="#fce7e8"/><stop offset="0.593" stop-color="#fceaeb"/><stop offset="1.000" stop-color="#fceaeb"/></linearGradient><clipPath id="hmclip3"><rect x="172.3" y="206.0" width="34.5" height="100.0"/></clipPath><linearGradient id="hm4_0"><stop offset="0.000" stop-color="#e4e9f7"/><stop offset="0.136" stop-color="#e2e6f6"/><stop offset="0.164" stop-color="#d8def3"/><stop offset="0.186" stop-color="#c6cfed"/><stop offset="0.214" stop-color="#9cace0"/><stop offset="0.243" stop-color="#7087d3"/><stop offset="0.257" stop-color="#647ecf"/><stop offset="0.264" stop-color="#3e5ec3"/><stop offset="0.286" stop-color="#4765c6"/><stop offset="0.314" stop-color="#637dcf"/><stop offset="0.364" stop-color="#9fafe1"/><stop offset="0.400" stop-color="#b9c5e9"/><stop offset="0.450" stop-color="#c7d1ee"/><stop offset="0.686" stop-color="#d0d8f0"/><stop offset="0.757" stop-color="#c4ceed"/><stop offset="0.850" stop-color="#d6ddf2"/><stop offset="1.000" stop-color="#d9e0f3"/></linearGradient><linearGradient id="hm4_1"><stop offset="0.000" stop-color="#e5e9f7"/><stop offset="0.143" stop-color="#e3e7f6"/><stop offset="0.171" stop-color="#d9dff3"/><stop offset="0.193" stop-color="#c5ceed"/><stop offset="0.221" stop-color="#97a8df"/><stop offset="0.243" stop-color="#748bd4"/><stop offset="0.257" stop-color="#6780d0"/><stop offset="0.264" stop-color="#4262c5"/><stop offset="0.286" stop-color="#4c6ac8"/><stop offset="0.314" stop-color="#6b84d1"/><stop offset="0.357" stop-color="#a1b1e2"/><stop offset="0.393" stop-color="#bcc7ea"/><stop offset="0.443" stop-color="#cad3ef"/><stop offset="0.686" stop-color="#d2d9f1"/><stop offset="0.757" stop-color="#c6d0ed"/><stop offset="0.850" stop-color="#d8def3"/><stop offset="1.000" stop-color="#dbe1f4"/></linearGradient><linearGradient id="hm4_2"><stop offset="0.000" stop-color="#e6eaf7"/><stop offset="0.150" stop-color="#e4e8f7"/><stop offset="0.179" stop-color="#d9dff3"/><stop offset="0.200" stop-color="#c3cdec"/><stop offset="0.243" stop-color="#788ed5"/><stop offset="0.257" stop-color="#6982d1"/><stop offset="0.264" stop-color="#4765c6"/><stop offset="0.286" stop-color="#516ec9"/><stop offset="0.314" stop-color="#738bd4"/><stop offset="0.357" stop-color="#aab8e5"/><stop offset="0.386" stop-color="#bfcaeb"/><stop offset="0.436" stop-color="#ccd5ef"/><stop offset="0.686" stop-color="#d4dbf2"/><stop offset="0.757" stop-color="#c9d2ee"/><stop offset="0.850" stop-color="#d9e0f3"/><stop offset="1.000" stop-color="#dce2f4"/></linearGradient><linearGradient id="hm4_3"><stop offset="0.000" stop-color="#e7ebf8"/><stop offset="0.157" stop-color="#e5e9f7"/><stop offset="0.186" stop-color="#d9dff3"/><stop offset="0.207" stop-color="#bfcaeb"/><stop offset="0.243" stop-color="#7c92d7"/><stop offset="0.257" stop-color="#6c85d2"/><stop offset="0.264" stop-color="#4b69c7"/><stop offset="0.286" stop-color="#5773cb"/><stop offset="0.321" stop-color="#879bda"/><stop offset="0.350" stop-color="#acbae5"/><stop offset="0.379" stop-color="#c2ccec"/><stop offset="0.421" stop-color="#ced6f0"/><stop offset="0.686" stop-color="#d6ddf2"/><stop offset="0.764" stop-color="#ccd5ef"/><stop offset="0.850" stop-color="#dbe1f4"/><stop offset="1.000" stop-color="#dee3f5"/></linearGradient><linearGradient id="hm4_4"><stop offset="0.000" stop-color="#e8ecf8"/><stop offset="0.164" stop-color="#e6eaf7"/><stop offset="0.186" stop-color="#dee3f5"/><stop offset="0.207" stop-color="#c7d0ee"/><stop offset="0.250" stop-color="#768dd5"/><stop offset="0.257" stop-color="#6f87d2"/><stop offset="0.264" stop-color="#4f6dc9"/><stop offset="0.286" stop-color="#5c77cd"/><stop offset="0.343" stop-color="#adbae6"/><stop offset="0.371" stop-color="#c4ceed"/><stop offset="0.414" stop-color="#d0d8f1"/><stop offset="0.693" stop-color="#d7def3"/><stop offset="0.764" stop-color="#cfd7f0"/><stop offset="0.850" stop-color="#dde2f4"/><stop offset="1.000" stop-color="#e0e5f5"/></linearGradient><linearGradient id="hm4_5"><stop offset="0.000" stop-color="#e9edf8"/><stop offset="0.171" stop-color="#e7ebf7"/><stop offset="0.193" stop-color="#dde3f5"/><stop offset="0.214" stop-color="#c2ccec"/><stop offset="0.250" stop-color="#7990d6"/><stop offset="0.257" stop-color="#7289d3"/><stop offset="0.264" stop-color="#5470ca"/><stop offset="0.279" stop-color="#5b76cc"/><stop offset="0.300" stop-color="#768dd5"/><stop offset="0.336" stop-color="#adbbe6"/><stop offset="0.364" stop-color="#c7d0ee"/><stop offset="0.407" stop-color="#d3daf1"/><stop offset="0.693" stop-color="#d9e0f3"/><stop offset="0.764" stop-color="#d2d9f1"/><stop offset="0.857" stop-color="#dfe4f5"/><stop offset="1.000" stop-color="#e1e6f6"/></linearGradient><linearGradient id="hm4_6"><stop offset="0.000" stop-color="#eaeef9"/><stop offset="0.179" stop-color="#e7ebf8"/><stop offset="0.200" stop-color="#dce2f4"/><stop offset="0.214" stop-color="#c9d2ee"/><stop offset="0.250" stop-color="#7d93d7"/><stop offset="0.257" stop-color="#748cd4"/><stop offset="0.264" stop-color="#5874cb"/><stop offset="0.279" stop-color="#607ace"/><stop offset="0.300" stop-color="#7d93d7"/><stop offset="0.329" stop-color="#acbae5"/><stop offset="0.350" stop-color="#c4cded"/><stop offset="0.379" stop-color="#d1d9f1"/><stop offset="0.529" stop-color="#dae0f3"/><stop offset="0.700" stop-color="#dbe1f4"/><stop offset="0.764" stop-color="#d4dbf2"/><stop offset="0.857" stop-color="#e0e5f6"/><stop offset="1.000" stop-color="#e3e7f6"/></linearGradient><linearGradient id="hm4_7"><stop offset="0.000" stop-color="#ebeef9"/><stop offset="0.179" stop-color="#e9edf8"/><stop offset="0.200" stop-color="#e0e6f6"/><stop offset="0.214" stop-color="#cfd7f0"/><stop offset="0.236" stop-color="#a1b0e2"/><stop offset="0.250" stop-color="#8196d8"/><stop offset="0.257" stop-color="#778ed5"/><stop offset="0.264" stop-color="#5d78cd"/><stop offset="0.279" stop-color="#657fcf"/><stop offset="0.300" stop-color="#8599d9"/><stop offset="0.329" stop-color="#b5c1e8"/><stop offset="0.350" stop-color="#cad3ef"/><stop offset="0.386" stop-color="#d6ddf2"/><stop offset="0.693" stop-color="#dee3f5"/><stop offset="0.764" stop-color="#d7def3"/><stop offset="0.864" stop-color="#e2e7f6"/><stop offset="1.000" stop-color="#e4e9f7"/></linearGradient><linearGradient id="hm4_8"><stop offset="0.000" stop-color="#eceff9"/><stop offset="0.186" stop-color="#eaeef9"/><stop offset="0.207" stop-color="#dee4f5"/><stop offset="0.221" stop-color="#c9d2ee"/><stop offset="0.250" stop-color="#8599d9"/><stop offset="0.257" stop-color="#7a90d6"/><stop offset="0.264" stop-color="#617bce"/><stop offset="0.279" stop-color="#6a83d1"/><stop offset="0.300" stop-color="#8da0dc"/><stop offset="0.329" stop-color="#bdc8ea"/><stop offset="0.350" stop-color="#d0d8f0"/><stop offset="0.386" stop-color="#dae0f3"/><stop offset="0.700" stop-color="#dfe4f5"/><stop offset="0.771" stop-color="#dae0f4"/><stop offset="0.864" stop-color="#e4e8f7"/><stop offset="1.000" stop-color="#e6eaf7"/></linearGradient><linearGradient id="hm4_9"><stop offset="0.000" stop-color="#edf0f9"/><stop offset="0.193" stop-color="#eaeef9"/><stop offset="0.207" stop-color="#e3e7f6"/><stop offset="0.221" stop-color="#cfd7f0"/><stop offset="0.250" stop-color="#899cda"/><stop offset="0.257" stop-color="#7d93d7"/><stop offset="0.264" stop-color="#657fcf"/><stop offset="0.279" stop-color="#6f87d3"/><stop offset="0.321" stop-color="#bbc6ea"/><stop offset="0.343" stop-color="#d1d9f1"/><stop offset="0.379" stop-color="#dce2f4"/><stop offset="0.700" stop-color="#e1e6f6"/><stop offset="0.771" stop-color="#dde3f4"/><stop offset="0.871" stop-color="#e6eaf7"/><stop offset="1.000" stop-color="#e7ebf8"/></linearGradient><linearGradient id="hm4_10"><stop offset="0.000" stop-color="#eef1fa"/><stop offset="0.193" stop-color="#eceff9"/><stop offset="0.207" stop-color="#e6ebf7"/><stop offset="0.221" stop-color="#d5dcf2"/><stop offset="0.236" stop-color="#b3c0e8"/><stop offset="0.250" stop-color="#8da0dc"/><stop offset="0.257" stop-color="#8095d8"/><stop offset="0.264" stop-color="#6a83d1"/><stop offset="0.279" stop-color="#758cd4"/><stop offset="0.321" stop-color="#c3cdec"/><stop offset="0.343" stop-color="#d7ddf2"/><stop offset="0.379" stop-color="#dfe4f5"/><stop offset="0.700" stop-color="#e3e8f6"/><stop offset="0.771" stop-color="#e0e5f5"/><stop offset="0.886" stop-color="#e8ecf8"/><stop offset="1.000" stop-color="#e9ecf8"/></linearGradient><linearGradient id="hm4_11"><stop offset="0.000" stop-color="#eff2fa"/><stop offset="0.200" stop-color="#edf0f9"/><stop offset="0.214" stop-color="#e4e8f7"/><stop offset="0.229" stop-color="#ccd4ef"/><stop offset="0.250" stop-color="#91a3dd"/><stop offset="0.257" stop-color="#8398d9"/><stop offset="0.264" stop-color="#6e86d2"/><stop offset="0.279" stop-color="#7a90d6"/><stop offset="0.314" stop-color="#bfcaeb"/><stop offset="0.336" stop-color="#d7def3"/><stop offset="0.364" stop-color="#e1e6f6"/><stop offset="0.707" stop-color="#e5e9f7"/><stop offset="0.779" stop-color="#e3e8f6"/><stop offset="0.907" stop-color="#e9edf8"/><stop offset="1.000" stop-color="#eaeef9"/></linearGradient><linearGradient id="hm4_12"><stop offset="0.000" stop-color="#f0f2fa"/><stop offset="0.200" stop-color="#eef1fa"/><stop offset="0.214" stop-color="#e7ebf8"/><stop offset="0.229" stop-color="#d1d9f1"/><stop offset="0.250" stop-color="#95a6de"/><stop offset="0.264" stop-color="#738ad4"/><stop offset="0.271" stop-color="#768dd5"/><stop offset="0.286" stop-color="#8c9fdb"/><stop offset="0.314" stop-color="#c6d0ed"/><stop offset="0.336" stop-color="#dce2f4"/><stop offset="0.371" stop-color="#e4e8f7"/><stop offset="0.714" stop-color="#e7ebf7"/><stop offset="0.786" stop-color="#e6eaf7"/><stop offset="0.964" stop-color="#eceff9"/><stop offset="1.000" stop-color="#eceff9"/></linearGradient><linearGradient id="hm4_13"><stop offset="0.000" stop-color="#f1f3fb"/><stop offset="0.207" stop-color="#eef1fa"/><stop offset="0.221" stop-color="#e3e8f6"/><stop offset="0.229" stop-color="#d7ddf2"/><stop offset="0.243" stop-color="#afbce6"/><stop offset="0.250" stop-color="#99aadf"/><stop offset="0.264" stop-color="#778ed5"/><stop offset="0.271" stop-color="#7b91d6"/><stop offset="0.286" stop-color="#92a4dd"/><stop offset="0.307" stop-color="#c1cbec"/><stop offset="0.321" stop-color="#d6ddf2"/><stop offset="0.343" stop-color="#e3e8f6"/><stop offset="0.629" stop-color="#eaeef9"/><stop offset="0.786" stop-color="#e8ecf8"/><stop offset="1.000" stop-color="#edf0fa"/></linearGradient><linearGradient id="hm4_14"><stop offset="0.000" stop-color="#f2f4fb"/><stop offset="0.207" stop-color="#f0f2fa"/><stop offset="0.221" stop-color="#e7ebf7"/><stop offset="0.229" stop-color="#dbe1f4"/><stop offset="0.243" stop-color="#b3c0e8"/><stop offset="0.250" stop-color="#9dade1"/><stop offset="0.264" stop-color="#7b91d6"/><stop offset="0.271" stop-color="#7f95d8"/><stop offset="0.286" stop-color="#98aadf"/><stop offset="0.307" stop-color="#c8d1ee"/><stop offset="0.321" stop-color="#dce2f4"/><stop offset="0.343" stop-color="#e7ebf8"/><stop offset="0.721" stop-color="#ebeef9"/><stop offset="1.000" stop-color="#eff2fa"/></linearGradient><linearGradient id="hm4_15"><stop offset="0.000" stop-color="#f3f5fb"/><stop offset="0.207" stop-color="#f2f4fb"/><stop offset="0.221" stop-color="#eaedf8"/><stop offset="0.229" stop-color="#dfe4f5"/><stop offset="0.236" stop-color="#ced7f0"/><stop offset="0.250" stop-color="#a1b0e2"/><stop offset="0.264" stop-color="#8095d8"/><stop offset="0.271" stop-color="#8499d9"/><stop offset="0.286" stop-color="#9eafe1"/><stop offset="0.307" stop-color="#ced6f0"/><stop offset="0.321" stop-color="#e1e6f6"/><stop offset="0.343" stop-color="#eaeef9"/><stop offset="0.736" stop-color="#edf0f9"/><stop offset="1.000" stop-color="#f0f3fa"/></linearGradient><linearGradient id="hm4_16"><stop offset="0.000" stop-color="#f4f6fc"/><stop offset="0.207" stop-color="#f3f5fb"/><stop offset="0.221" stop-color="#eceff9"/><stop offset="0.229" stop-color="#e3e8f6"/><stop offset="0.236" stop-color="#d3daf1"/><stop offset="0.250" stop-color="#a4b3e3"/><stop offset="0.257" stop-color="#91a4dd"/><stop offset="0.264" stop-color="#8499d9"/><stop offset="0.271" stop-color="#899cda"/><stop offset="0.286" stop-color="#a4b3e3"/><stop offset="0.307" stop-color="#d4dbf2"/><stop offset="0.321" stop-color="#e5e9f7"/><stop offset="0.350" stop-color="#eef1fa"/><stop offset="1.000" stop-color="#f2f4fb"/></linearGradient><linearGradient id="hm4_17"><stop offset="0.000" stop-color="#f5f7fc"/><stop offset="0.214" stop-color="#f3f5fb"/><stop offset="0.229" stop-color="#e6eaf7"/><stop offset="0.236" stop-color="#d7ddf3"/><stop offset="0.257" stop-color="#94a6de"/><stop offset="0.264" stop-color="#899cda"/><stop offset="0.271" stop-color="#8da0dc"/><stop offset="0.286" stop-color="#aab8e5"/><stop offset="0.300" stop-color="#ccd5ef"/><stop offset="0.314" stop-color="#e3e8f6"/><stop offset="0.336" stop-color="#eff2fa"/><stop offset="1.000" stop-color="#f3f5fb"/></linearGradient><linearGradient id="hm4_18"><stop offset="0.000" stop-color="#f6f7fc"/><stop offset="0.214" stop-color="#f4f6fc"/><stop offset="0.229" stop-color="#e9ecf8"/><stop offset="0.236" stop-color="#dae0f4"/><stop offset="0.257" stop-color="#97a8df"/><stop offset="0.264" stop-color="#8da0dc"/><stop offset="0.271" stop-color="#92a4dd"/><stop offset="0.286" stop-color="#afbde6"/><stop offset="0.300" stop-color="#d2d9f1"/><stop offset="0.314" stop-color="#e7ebf8"/><stop offset="0.336" stop-color="#f2f4fb"/><stop offset="1.000" stop-color="#f5f7fc"/></linearGradient><linearGradient id="hm4_19"><stop offset="0.000" stop-color="#f7f8fc"/><stop offset="0.214" stop-color="#f5f7fc"/><stop offset="0.229" stop-color="#ebeff9"/><stop offset="0.236" stop-color="#dde3f5"/><stop offset="0.257" stop-color="#9aabe0"/><stop offset="0.264" stop-color="#91a4dd"/><stop offset="0.271" stop-color="#96a8df"/><stop offset="0.286" stop-color="#b4c1e8"/><stop offset="0.300" stop-color="#d7ddf3"/><stop offset="0.314" stop-color="#eceff9"/><stop offset="0.336" stop-color="#f5f7fc"/><stop offset="1.000" stop-color="#f7f8fc"/></linearGradient><linearGradient id="hm4_20"><stop offset="0.000" stop-color="#f8f9fd"/><stop offset="0.214" stop-color="#f7f8fc"/><stop offset="0.229" stop-color="#edf0fa"/><stop offset="0.236" stop-color="#e0e5f5"/><stop offset="0.257" stop-color="#9cade0"/><stop offset="0.264" stop-color="#95a6de"/><stop offset="0.271" stop-color="#9aabe0"/><stop offset="0.286" stop-color="#b8c4e9"/><stop offset="0.300" stop-color="#dbe1f4"/><stop offset="0.314" stop-color="#eff1fa"/><stop offset="0.336" stop-color="#f7f8fd"/><stop offset="1.000" stop-color="#f8f9fd"/></linearGradient><linearGradient id="hm4_21"><stop offset="0.000" stop-color="#f9fafd"/><stop offset="0.214" stop-color="#f8f9fd"/><stop offset="0.229" stop-color="#eff2fa"/><stop offset="0.236" stop-color="#e3e7f6"/><stop offset="0.257" stop-color="#9fafe1"/><stop offset="0.264" stop-color="#97a8df"/><stop offset="0.271" stop-color="#9dade1"/><stop offset="0.286" stop-color="#bbc7ea"/><stop offset="0.300" stop-color="#dde3f5"/><stop offset="0.314" stop-color="#f0f3fa"/><stop offset="0.336" stop-color="#f8f9fd"/><stop offset="1.000" stop-color="#f9fafd"/></linearGradient><linearGradient id="hm4_22"><stop offset="0.000" stop-color="#f9fafd"/><stop offset="0.214" stop-color="#f8f9fd"/><stop offset="0.229" stop-color="#f0f3fa"/><stop offset="0.236" stop-color="#e4e8f7"/><stop offset="0.243" stop-color="#d0d7f0"/><stop offset="0.257" stop-color="#a1b0e2"/><stop offset="0.264" stop-color="#99aadf"/><stop offset="0.271" stop-color="#9eaee1"/><stop offset="0.286" stop-color="#bdc8eb"/><stop offset="0.300" stop-color="#dfe4f5"/><stop offset="0.314" stop-color="#f1f3fb"/><stop offset="0.343" stop-color="#f9fafd"/><stop offset="1.000" stop-color="#f9fafd"/></linearGradient><linearGradient id="hm4_23"><stop offset="0.000" stop-color="#f9fafd"/><stop offset="0.221" stop-color="#f6f7fc"/><stop offset="0.229" stop-color="#f1f3fb"/><stop offset="0.236" stop-color="#e5e9f7"/><stop offset="0.243" stop-color="#d1d9f1"/><stop offset="0.257" stop-color="#a2b2e2"/><stop offset="0.264" stop-color="#9aabe0"/><stop offset="0.271" stop-color="#a0b0e1"/><stop offset="0.286" stop-color="#bfc9eb"/><stop offset="0.300" stop-color="#e0e5f5"/><stop offset="0.314" stop-color="#f2f4fb"/><stop offset="0.343" stop-color="#f9fafd"/><stop offset="1.000" stop-color="#f9fafd"/></linearGradient><linearGradient id="hm4_24"><stop offset="0.000" stop-color="#f9fafd"/><stop offset="0.221" stop-color="#f6f8fc"/><stop offset="0.229" stop-color="#f1f3fb"/><stop offset="0.236" stop-color="#e6eaf7"/><stop offset="0.243" stop-color="#d2daf1"/><stop offset="0.257" stop-color="#a4b3e3"/><stop offset="0.264" stop-color="#9cace0"/><stop offset="0.271" stop-color="#a1b1e2"/><stop offset="0.286" stop-color="#c0cbec"/><stop offset="0.300" stop-color="#e1e6f6"/><stop offset="0.314" stop-color="#f2f4fb"/><stop offset="0.343" stop-color="#f9fafd"/><stop offset="1.000" stop-color="#f9fafd"/></linearGradient><linearGradient id="hm4_25"><stop offset="0.000" stop-color="#f9fafd"/><stop offset="0.221" stop-color="#f6f8fc"/><stop offset="0.229" stop-color="#f1f4fb"/><stop offset="0.236" stop-color="#e6eaf7"/><stop offset="0.243" stop-color="#d3daf1"/><stop offset="0.257" stop-color="#a5b4e3"/><stop offset="0.264" stop-color="#9daee1"/><stop offset="0.271" stop-color="#a3b2e2"/><stop offset="0.286" stop-color="#c1ccec"/><stop offset="0.300" stop-color="#e1e6f6"/><stop offset="0.314" stop-color="#f2f4fb"/><stop offset="0.343" stop-color="#f9fafd"/><stop offset="1.000" stop-color="#f9fafd"/></linearGradient><linearGradient id="hm4_26"><stop offset="0.000" stop-color="#f9fafd"/><stop offset="0.221" stop-color="#f6f8fc"/><stop offset="0.229" stop-color="#f2f4fb"/><stop offset="0.236" stop-color="#e7ebf8"/><stop offset="0.243" stop-color="#d4dbf2"/><stop offset="0.257" stop-color="#a7b5e4"/><stop offset="0.264" stop-color="#9fafe1"/><stop offset="0.271" stop-color="#a4b3e3"/><stop offset="0.286" stop-color="#c2ccec"/><stop offset="0.300" stop-color="#e2e7f6"/><stop offset="0.314" stop-color="#f2f5fb"/><stop offset="0.343" stop-color="#f9fafd"/><stop offset="1.000" stop-color="#f9fafd"/></linearGradient><linearGradient id="hm4_27"><stop offset="0.000" stop-color="#f9fafd"/><stop offset="0.221" stop-color="#f7f8fc"/><stop offset="0.229" stop-color="#f2f4fb"/><stop offset="0.236" stop-color="#e7ebf8"/><stop offset="0.243" stop-color="#d5dcf2"/><stop offset="0.257" stop-color="#a8b6e4"/><stop offset="0.264" stop-color="#a0b0e2"/><stop offset="0.271" stop-color="#a6b4e3"/><stop offset="0.286" stop-color="#c3cded"/><stop offset="0.300" stop-color="#e2e7f6"/><stop offset="0.314" stop-color="#f3f5fb"/><stop offset="0.343" stop-color="#f9fafd"/><stop offset="1.000" stop-color="#f9fafd"/></linearGradient><linearGradient id="hm4_28"><stop offset="0.000" stop-color="#f9fafd"/><stop offset="0.221" stop-color="#f7f8fc"/><stop offset="0.229" stop-color="#f2f4fb"/><stop offset="0.236" stop-color="#e8ebf8"/><stop offset="0.243" stop-color="#d5dcf2"/><stop offset="0.257" stop-color="#a9b8e4"/><stop offset="0.264" stop-color="#a2b1e2"/><stop offset="0.271" stop-color="#a7b6e4"/><stop offset="0.286" stop-color="#c4ceed"/><stop offset="0.300" stop-color="#e3e8f6"/><stop offset="0.314" stop-color="#f3f5fb"/><stop offset="0.350" stop-color="#f9fafd"/><stop offset="1.000" stop-color="#f9fafd"/></linearGradient><linearGradient id="hm4_29"><stop offset="0.000" stop-color="#f9fafd"/><stop offset="0.221" stop-color="#f7f8fc"/><stop offset="0.229" stop-color="#f2f4fb"/><stop offset="0.236" stop-color="#e8ecf8"/><stop offset="0.243" stop-color="#d6ddf2"/><stop offset="0.257" stop-color="#abb9e5"/><stop offset="0.264" stop-color="#a3b3e3"/><stop offset="0.271" stop-color="#a8b7e4"/><stop offset="0.286" stop-color="#c5cfed"/><stop offset="0.300" stop-color="#e3e8f6"/><stop offset="0.314" stop-color="#f3f5fb"/><stop offset="0.350" stop-color="#f9fafd"/><stop offset="1.000" stop-color="#f9fafd"/></linearGradient><clipPath id="hmclip4"><rect x="211.1" y="206.0" width="34.5" height="100.0"/></clipPath><linearGradient id="hm5_0"><stop offset="0.000" stop-color="#f3a3a7"/><stop offset="0.650" stop-color="#f3a1a5"/><stop offset="0.700" stop-color="#f19397"/><stop offset="0.771" stop-color="#ec6970"/><stop offset="0.800" stop-color="#eb666d"/><stop offset="0.836" stop-color="#ed767c"/><stop offset="0.893" stop-color="#f2979c"/><stop offset="0.950" stop-color="#f3a2a6"/><stop offset="1.000" stop-color="#f3a3a7"/></linearGradient><linearGradient id="hm5_1"><stop offset="0.000" stop-color="#f3a4a8"/><stop offset="0.650" stop-color="#f3a2a6"/><stop offset="0.700" stop-color="#f19599"/><stop offset="0.771" stop-color="#ec6c73"/><stop offset="0.800" stop-color="#ec6970"/><stop offset="0.843" stop-color="#ee7e83"/><stop offset="0.893" stop-color="#f2999d"/><stop offset="0.957" stop-color="#f3a3a7"/><stop offset="1.000" stop-color="#f3a4a8"/></linearGradient><linearGradient id="hm5_2"><stop offset="0.000" stop-color="#f3a5a9"/><stop offset="0.657" stop-color="#f3a2a6"/><stop offset="0.707" stop-color="#f19398"/><stop offset="0.771" stop-color="#ed7076"/><stop offset="0.800" stop-color="#ec6d73"/><stop offset="0.843" stop-color="#ef8086"/><stop offset="0.893" stop-color="#f29b9f"/><stop offset="0.957" stop-color="#f3a4a8"/><stop offset="1.000" stop-color="#f3a5a9"/></linearGradient><linearGradient id="hm5_3"><stop offset="0.000" stop-color="#f4a6aa"/><stop offset="0.657" stop-color="#f3a3a7"/><stop offset="0.707" stop-color="#f1969a"/><stop offset="0.779" stop-color="#ed7177"/><stop offset="0.807" stop-color="#ed7278"/><stop offset="0.893" stop-color="#f29da1"/><stop offset="0.957" stop-color="#f3a5a9"/><stop offset="1.000" stop-color="#f4a6aa"/></linearGradient><linearGradient id="hm5_4"><stop offset="0.000" stop-color="#f4a7ab"/><stop offset="0.664" stop-color="#f3a4a8"/><stop offset="0.714" stop-color="#f19499"/><stop offset="0.779" stop-color="#ed747a"/><stop offset="0.807" stop-color="#ed757b"/><stop offset="0.893" stop-color="#f39ea3"/><stop offset="0.964" stop-color="#f4a7aa"/><stop offset="1.000" stop-color="#f4a7ab"/></linearGradient><linearGradient id="hm5_5"><stop offset="0.000" stop-color="#f4a8ac"/><stop offset="0.664" stop-color="#f3a5a9"/><stop offset="0.714" stop-color="#f2979b"/><stop offset="0.779" stop-color="#ee777d"/><stop offset="0.814" stop-color="#ee7a80"/><stop offset="0.893" stop-color="#f3a0a4"/><stop offset="0.971" stop-color="#f4a8ab"/><stop offset="1.000" stop-color="#f4a8ac"/></linearGradient><linearGradient id="hm5_6"><stop offset="0.000" stop-color="#f4a9ac"/><stop offset="0.664" stop-color="#f4a6aa"/><stop offset="0.714" stop-color="#f2999d"/><stop offset="0.779" stop-color="#ee7b81"/><stop offset="0.814" stop-color="#ee7e83"/><stop offset="0.893" stop-color="#f3a2a6"/><stop offset="0.979" stop-color="#f4a9ac"/><stop offset="1.000" stop-color="#f4a9ac"/></linearGradient><linearGradient id="hm5_7"><stop offset="0.000" stop-color="#f4aaad"/><stop offset="0.671" stop-color="#f4a7ab"/><stop offset="0.721" stop-color="#f2989c"/><stop offset="0.779" stop-color="#ee7e84"/><stop offset="0.814" stop-color="#ef8187"/><stop offset="0.893" stop-color="#f3a3a7"/><stop offset="0.986" stop-color="#f4a9ad"/><stop offset="1.000" stop-color="#f4a9ad"/></linearGradient><linearGradient id="hm5_8"><stop offset="0.000" stop-color="#f4aaae"/><stop offset="0.671" stop-color="#f4a8ac"/><stop offset="0.721" stop-color="#f29a9f"/><stop offset="0.779" stop-color="#ef8187"/><stop offset="0.814" stop-color="#ef848a"/><stop offset="0.893" stop-color="#f3a5a9"/><stop offset="0.993" stop-color="#f4aaae"/><stop offset="1.000" stop-color="#f4aaae"/></linearGradient><linearGradient id="hm5_9"><stop offset="0.000" stop-color="#f4abaf"/><stop offset="0.671" stop-color="#f4a9ad"/><stop offset="0.729" stop-color="#f2999e"/><stop offset="0.779" stop-color="#ef858a"/><stop offset="0.814" stop-color="#f0878d"/><stop offset="0.893" stop-color="#f4a6aa"/><stop offset="1.000" stop-color="#f4abaf"/></linearGradient><linearGradient id="hm5_10"><stop offset="0.000" stop-color="#f4acb0"/><stop offset="0.679" stop-color="#f4a9ad"/><stop offset="0.736" stop-color="#f2989d"/><stop offset="0.786" stop-color="#f0878c"/><stop offset="0.821" stop-color="#f08d92"/><stop offset="0.893" stop-color="#f4a8ac"/><stop offset="1.000" stop-color="#f4acb0"/></linearGradient><linearGradient id="hm5_11"><stop offset="0.000" stop-color="#f4adb1"/><stop offset="0.679" stop-color="#f4abae"/><stop offset="0.736" stop-color="#f29b9f"/><stop offset="0.786" stop-color="#f08a8f"/><stop offset="0.821" stop-color="#f19095"/><stop offset="0.893" stop-color="#f4a9ad"/><stop offset="1.000" stop-color="#f4adb1"/></linearGradient><linearGradient id="hm5_12"><stop offset="0.000" stop-color="#f5aeb2"/><stop offset="0.686" stop-color="#f4abaf"/><stop offset="0.750" stop-color="#f2979c"/><stop offset="0.793" stop-color="#f08d92"/><stop offset="0.843" stop-color="#f29ca0"/><stop offset="0.900" stop-color="#f4acaf"/><stop offset="1.000" stop-color="#f5aeb2"/></linearGradient><linearGradient id="hm5_13"><stop offset="0.000" stop-color="#f5afb2"/><stop offset="0.686" stop-color="#f4acb0"/><stop offset="0.750" stop-color="#f29a9f"/><stop offset="0.793" stop-color="#f19195"/><stop offset="0.843" stop-color="#f39ea3"/><stop offset="0.900" stop-color="#f4adb0"/><stop offset="1.000" stop-color="#f5afb2"/></linearGradient><linearGradient id="hm5_14"><stop offset="0.000" stop-color="#f5b0b3"/><stop offset="0.693" stop-color="#f4adb1"/><stop offset="0.786" stop-color="#f19499"/><stop offset="0.829" stop-color="#f29ca0"/><stop offset="0.893" stop-color="#f4adb1"/><stop offset="1.000" stop-color="#f5b0b3"/></linearGradient><linearGradient id="hm5_15"><stop offset="0.000" stop-color="#f5b1b4"/><stop offset="0.693" stop-color="#f5aeb2"/><stop offset="0.793" stop-color="#f2979c"/><stop offset="0.900" stop-color="#f5afb3"/><stop offset="1.000" stop-color="#f5b1b4"/></linearGradient><linearGradient id="hm5_16"><stop offset="0.000" stop-color="#f5b2b5"/><stop offset="0.700" stop-color="#f5afb2"/><stop offset="0.793" stop-color="#f29a9f"/><stop offset="0.900" stop-color="#f5b0b4"/><stop offset="1.000" stop-color="#f5b2b5"/></linearGradient><linearGradient id="hm5_17"><stop offset="0.000" stop-color="#f5b2b6"/><stop offset="0.700" stop-color="#f5b0b4"/><stop offset="0.793" stop-color="#f29ea2"/><stop offset="0.900" stop-color="#f5b1b5"/><stop offset="1.000" stop-color="#f5b2b6"/></linearGradient><linearGradient id="hm5_18"><stop offset="0.000" stop-color="#f5b3b7"/><stop offset="0.707" stop-color="#f5b1b4"/><stop offset="0.793" stop-color="#f3a1a5"/><stop offset="0.900" stop-color="#f5b3b6"/><stop offset="1.000" stop-color="#f5b3b7"/></linearGradient><linearGradient id="hm5_19"><stop offset="0.000" stop-color="#f5b4b8"/><stop offset="0.707" stop-color="#f5b2b5"/><stop offset="0.793" stop-color="#f3a4a8"/><stop offset="0.907" stop-color="#f5b4b7"/><stop offset="1.000" stop-color="#f5b4b8"/></linearGradient><linearGradient id="hm5_20"><stop offset="0.000" stop-color="#f5b5b8"/><stop offset="0.714" stop-color="#f5b3b6"/><stop offset="0.800" stop-color="#f4a8ac"/><stop offset="0.907" stop-color="#f5b5b8"/><stop offset="1.000" stop-color="#f5b5b8"/></linearGradient><linearGradient id="hm5_21"><stop offset="0.000" stop-color="#f6b6b9"/><stop offset="0.721" stop-color="#f5b3b7"/><stop offset="0.800" stop-color="#f4abaf"/><stop offset="0.914" stop-color="#f6b6b9"/><stop offset="1.000" stop-color="#f6b6b9"/></linearGradient><linearGradient id="hm5_22"><stop offset="0.000" stop-color="#f6b7ba"/><stop offset="0.729" stop-color="#f5b4b8"/><stop offset="0.807" stop-color="#f5afb3"/><stop offset="0.929" stop-color="#f6b7ba"/><stop offset="1.000" stop-color="#f6b7ba"/></linearGradient><linearGradient id="hm5_23"><stop offset="0.000" stop-color="#f6b8bb"/><stop offset="0.743" stop-color="#f5b5b8"/><stop offset="0.829" stop-color="#f5b4b7"/><stop offset="1.000" stop-color="#f6b8bb"/></linearGradient><linearGradient id="hm5_24"><stop offset="0.000" stop-color="#f6b9bc"/><stop offset="0.764" stop-color="#f6b6b9"/><stop offset="1.000" stop-color="#f6b9bc"/></linearGradient><linearGradient id="hm5_25"><stop offset="0.000" stop-color="#f6babd"/><stop offset="1.000" stop-color="#f6babd"/></linearGradient><linearGradient id="hm5_26"><stop offset="0.000" stop-color="#f6bbbe"/><stop offset="1.000" stop-color="#f6bbbe"/></linearGradient><linearGradient id="hm5_27"><stop offset="0.000" stop-color="#f6bcbe"/><stop offset="1.000" stop-color="#f6bcbe"/></linearGradient><linearGradient id="hm5_28"><stop offset="0.000" stop-color="#f6bcbf"/><stop offset="1.000" stop-color="#f6bcbf"/></linearGradient><linearGradient id="hm5_29"><stop offset="0.000" stop-color="#f7bdc0"/><stop offset="1.000" stop-color="#f7bdc0"/></linearGradient><clipPath id="hmclip5"><rect x="250.8" y="206.0" width="34.5" height="100.0"/></clipPath><linearGradient id="hm6_0"><stop offset="0.000" stop-color="#f6b9bc"/><stop offset="0.671" stop-color="#f6b6b9"/><stop offset="0.779" stop-color="#f3a5a9"/><stop offset="0.921" stop-color="#f6b8bc"/><stop offset="1.000" stop-color="#f6b9bc"/></linearGradient><linearGradient id="hm6_1"><stop offset="0.000" stop-color="#f6babd"/><stop offset="0.671" stop-color="#f6b7ba"/><stop offset="0.786" stop-color="#f4a7ab"/><stop offset="0.921" stop-color="#f6b9bc"/><stop offset="1.000" stop-color="#f6babd"/></linearGradient><linearGradient id="hm6_2"><stop offset="0.000" stop-color="#f6bbbe"/><stop offset="0.671" stop-color="#f6b8bb"/><stop offset="0.786" stop-color="#f4a8ac"/><stop offset="0.921" stop-color="#f6babd"/><stop offset="1.000" stop-color="#f6bbbe"/></linearGradient><linearGradient id="hm6_3"><stop offset="0.000" stop-color="#f6bbbe"/><stop offset="0.679" stop-color="#f6b8bb"/><stop offset="0.786" stop-color="#f4aaad"/><stop offset="0.921" stop-color="#f6bbbe"/><stop offset="1.000" stop-color="#f6bbbe"/></linearGradient><linearGradient id="hm6_4"><stop offset="0.000" stop-color="#f6bcbf"/><stop offset="0.679" stop-color="#f6b9bc"/><stop offset="0.786" stop-color="#f4abaf"/><stop offset="0.921" stop-color="#f6bbbe"/><stop offset="1.000" stop-color="#f6bcbf"/></linearGradient><linearGradient id="hm6_5"><stop offset="0.000" stop-color="#f6bdc0"/><stop offset="0.679" stop-color="#f6babd"/><stop offset="0.786" stop-color="#f4adb0"/><stop offset="0.921" stop-color="#f6bcbf"/><stop offset="1.000" stop-color="#f6bdc0"/></linearGradient><linearGradient id="hm6_6"><stop offset="0.000" stop-color="#f7bdc0"/><stop offset="0.686" stop-color="#f6babd"/><stop offset="0.786" stop-color="#f5aeb2"/><stop offset="0.921" stop-color="#f6bdc0"/><stop offset="1.000" stop-color="#f7bdc0"/></linearGradient><linearGradient id="hm6_7"><stop offset="0.000" stop-color="#f7bec1"/><stop offset="0.686" stop-color="#f6bbbe"/><stop offset="0.786" stop-color="#f5afb3"/><stop offset="0.921" stop-color="#f7bec1"/><stop offset="1.000" stop-color="#f7bec1"/></linearGradient><linearGradient id="hm6_8"><stop offset="0.000" stop-color="#f7bfc2"/><stop offset="0.686" stop-color="#f6bcbf"/><stop offset="0.786" stop-color="#f5b1b4"/><stop offset="0.921" stop-color="#f7bec1"/><stop offset="1.000" stop-color="#f7bfc2"/></linearGradient><linearGradient id="hm6_9"><stop offset="0.000" stop-color="#f7bfc2"/><stop offset="0.693" stop-color="#f6bdbf"/><stop offset="0.793" stop-color="#f5b3b6"/><stop offset="0.921" stop-color="#f7bfc2"/><stop offset="1.000" stop-color="#f7bfc2"/></linearGradient><linearGradient id="hm6_10"><stop offset="0.000" stop-color="#f7c0c3"/><stop offset="0.693" stop-color="#f7bdc0"/><stop offset="0.793" stop-color="#f5b4b8"/><stop offset="0.921" stop-color="#f7c0c3"/><stop offset="1.000" stop-color="#f7c0c3"/></linearGradient><linearGradient id="hm6_11"><stop offset="0.000" stop-color="#f7c1c4"/><stop offset="0.700" stop-color="#f7bec1"/><stop offset="0.793" stop-color="#f6b6b9"/><stop offset="0.921" stop-color="#f7c1c3"/><stop offset="1.000" stop-color="#f7c1c4"/></linearGradient><linearGradient id="hm6_12"><stop offset="0.000" stop-color="#f7c1c4"/><stop offset="0.700" stop-color="#f7bfc2"/><stop offset="0.793" stop-color="#f6b7ba"/><stop offset="0.929" stop-color="#f7c1c4"/><stop offset="1.000" stop-color="#f7c1c4"/></linearGradient><linearGradient id="hm6_13"><stop offset="0.000" stop-color="#f7c2c5"/><stop offset="0.707" stop-color="#f7bfc2"/><stop offset="0.800" stop-color="#f6b9bc"/><stop offset="0.929" stop-color="#f7c2c5"/><stop offset="1.000" stop-color="#f7c2c5"/></linearGradient><linearGradient id="hm6_14"><stop offset="0.000" stop-color="#f7c3c5"/><stop offset="0.707" stop-color="#f7c0c3"/><stop offset="0.800" stop-color="#f6bbbe"/><stop offset="0.936" stop-color="#f7c3c5"/><stop offset="1.000" stop-color="#f7c3c5"/></linearGradient><linearGradient id="hm6_15"><stop offset="0.000" stop-color="#f7c3c6"/><stop offset="0.714" stop-color="#f7c1c3"/><stop offset="0.800" stop-color="#f6bcbf"/><stop offset="0.943" stop-color="#f7c3c6"/><stop offset="1.000" stop-color="#f7c3c6"/></linearGradient><linearGradient id="hm6_16"><stop offset="0.000" stop-color="#f7c4c7"/><stop offset="0.714" stop-color="#f7c2c4"/><stop offset="0.807" stop-color="#f7bec1"/><stop offset="0.957" stop-color="#f7c4c7"/><stop offset="1.000" stop-color="#f7c4c7"/></linearGradient><linearGradient id="hm6_17"><stop offset="0.000" stop-color="#f8c5c7"/><stop offset="0.721" stop-color="#f7c2c5"/><stop offset="0.814" stop-color="#f7c0c3"/><stop offset="1.000" stop-color="#f8c5c7"/></linearGradient><linearGradient id="hm6_18"><stop offset="0.000" stop-color="#f8c6c8"/><stop offset="0.729" stop-color="#f7c3c5"/><stop offset="0.821" stop-color="#f7c2c4"/><stop offset="1.000" stop-color="#f8c6c8"/></linearGradient><linearGradient id="hm6_19"><stop offset="0.000" stop-color="#f8c6c9"/><stop offset="0.736" stop-color="#f7c3c6"/><stop offset="0.843" stop-color="#f7c4c7"/><stop offset="1.000" stop-color="#f8c6c9"/></linearGradient><linearGradient id="hm6_20"><stop offset="0.000" stop-color="#f8c7c9"/><stop offset="0.743" stop-color="#f7c4c7"/><stop offset="1.000" stop-color="#f8c7c9"/></linearGradient><linearGradient id="hm6_21"><stop offset="0.000" stop-color="#f8c8ca"/><stop offset="0.757" stop-color="#f7c4c7"/><stop offset="1.000" stop-color="#f8c8ca"/></linearGradient><linearGradient id="hm6_22"><stop offset="0.000" stop-color="#f8c8cb"/><stop offset="0.879" stop-color="#f8c8cb"/><stop offset="1.000" stop-color="#f8c8cb"/></linearGradient><linearGradient id="hm6_23"><stop offset="0.000" stop-color="#f8c9cb"/><stop offset="1.000" stop-color="#f8c9cb"/></linearGradient><linearGradient id="hm6_24"><stop offset="0.000" stop-color="#f8cacc"/><stop offset="1.000" stop-color="#f8cacc"/></linearGradient><linearGradient id="hm6_25"><stop offset="0.000" stop-color="#f8cacd"/><stop offset="1.000" stop-color="#f8cacd"/></linearGradient><linearGradient id="hm6_26"><stop offset="0.000" stop-color="#f8cbcd"/><stop offset="1.000" stop-color="#f8cbcd"/></linearGradient><linearGradient id="hm6_27"><stop offset="0.000" stop-color="#f8ccce"/><stop offset="1.000" stop-color="#f8ccce"/></linearGradient><linearGradient id="hm6_28"><stop offset="0.000" stop-color="#f8cccf"/><stop offset="1.000" stop-color="#f8cccf"/></linearGradient><linearGradient id="hm6_29"><stop offset="0.000" stop-color="#f9cdcf"/><stop offset="1.000" stop-color="#f9cdcf"/></linearGradient><clipPath id="hmclip6"><rect x="290.0" y="206.0" width="34.5" height="100.0"/></clipPath><linearGradient id="hm7_0"><stop offset="0.000" stop-color="#e6e2f0"/><stop offset="0.550" stop-color="#e6e2f0"/><stop offset="0.557" stop-color="#dad8ed"/><stop offset="0.643" stop-color="#d4d3eb"/><stop offset="0.686" stop-color="#c1c5e6"/><stop offset="0.750" stop-color="#92a0d9"/><stop offset="0.779" stop-color="#8b9ad7"/><stop offset="0.807" stop-color="#94a1da"/><stop offset="0.879" stop-color="#c7cae8"/><stop offset="0.921" stop-color="#d6d5ec"/><stop offset="1.000" stop-color="#dad8ed"/></linearGradient><linearGradient id="hm7_1"><stop offset="0.000" stop-color="#e6e2f0"/><stop offset="0.550" stop-color="#e6e2f0"/><stop offset="0.557" stop-color="#dbd9ed"/><stop offset="0.643" stop-color="#d5d4ec"/><stop offset="0.686" stop-color="#c3c7e7"/><stop offset="0.750" stop-color="#97a3db"/><stop offset="0.779" stop-color="#909ed9"/><stop offset="0.807" stop-color="#99a5db"/><stop offset="0.879" stop-color="#c9cbe8"/><stop offset="0.929" stop-color="#d8d7ec"/><stop offset="1.000" stop-color="#dbd9ed"/></linearGradient><linearGradient id="hm7_2"><stop offset="0.000" stop-color="#e7e3f0"/><stop offset="0.550" stop-color="#e7e3f0"/><stop offset="0.557" stop-color="#dddaee"/><stop offset="0.643" stop-color="#d7d6ec"/><stop offset="0.686" stop-color="#c6c8e7"/><stop offset="0.757" stop-color="#98a5db"/><stop offset="0.786" stop-color="#95a2da"/><stop offset="0.821" stop-color="#a6afdf"/><stop offset="0.879" stop-color="#cbcde9"/><stop offset="0.929" stop-color="#dad8ed"/><stop offset="1.000" stop-color="#dddaee"/></linearGradient><linearGradient id="hm7_3"><stop offset="0.000" stop-color="#e7e3f1"/><stop offset="0.550" stop-color="#e7e3f0"/><stop offset="0.557" stop-color="#dedbee"/><stop offset="0.643" stop-color="#d8d7ec"/><stop offset="0.686" stop-color="#c8cae8"/><stop offset="0.757" stop-color="#9da8dc"/><stop offset="0.786" stop-color="#9aa6dc"/><stop offset="0.821" stop-color="#aab2e0"/><stop offset="0.879" stop-color="#cdcee9"/><stop offset="0.929" stop-color="#dbd9ed"/><stop offset="1.000" stop-color="#dedbee"/></linearGradient><linearGradient id="hm7_4"><stop offset="0.000" stop-color="#e8e3f1"/><stop offset="0.550" stop-color="#e8e3f1"/><stop offset="0.557" stop-color="#dfdcee"/><stop offset="0.643" stop-color="#dad8ed"/><stop offset="0.693" stop-color="#c7c9e8"/><stop offset="0.757" stop-color="#a2acde"/><stop offset="0.786" stop-color="#9faadd"/><stop offset="0.821" stop-color="#aeb6e1"/><stop offset="0.886" stop-color="#d2d2eb"/><stop offset="0.943" stop-color="#dedbee"/><stop offset="1.000" stop-color="#dfdcee"/></linearGradient><linearGradient id="hm7_5"><stop offset="0.000" stop-color="#e8e4f1"/><stop offset="0.550" stop-color="#e8e4f1"/><stop offset="0.557" stop-color="#e0ddef"/><stop offset="0.643" stop-color="#dbd9ed"/><stop offset="0.693" stop-color="#c9cbe8"/><stop offset="0.757" stop-color="#a6b0df"/><stop offset="0.786" stop-color="#a4aede"/><stop offset="0.821" stop-color="#b2b9e2"/><stop offset="0.886" stop-color="#d4d4eb"/><stop offset="0.943" stop-color="#dfdcee"/><stop offset="1.000" stop-color="#e0ddef"/></linearGradient><linearGradient id="hm7_6"><stop offset="0.000" stop-color="#e9e4f1"/><stop offset="0.550" stop-color="#e9e4f1"/><stop offset="0.557" stop-color="#e1deef"/><stop offset="0.650" stop-color="#dbd9ed"/><stop offset="0.700" stop-color="#c8cae8"/><stop offset="0.757" stop-color="#abb3e0"/><stop offset="0.793" stop-color="#aab3e0"/><stop offset="0.850" stop-color="#c6c9e7"/><stop offset="0.900" stop-color="#dad9ed"/><stop offset="0.986" stop-color="#e1deef"/><stop offset="1.000" stop-color="#e1deef"/></linearGradient><linearGradient id="hm7_7"><stop offset="0.000" stop-color="#e9e4f1"/><stop offset="0.550" stop-color="#e9e4f1"/><stop offset="0.557" stop-color="#e3dfef"/><stop offset="0.650" stop-color="#dddbee"/><stop offset="0.700" stop-color="#cbcce9"/><stop offset="0.757" stop-color="#b0b7e1"/><stop offset="0.793" stop-color="#afb6e1"/><stop offset="0.893" stop-color="#dad9ed"/><stop offset="0.964" stop-color="#e2dfef"/><stop offset="1.000" stop-color="#e3dfef"/></linearGradient><linearGradient id="hm7_8"><stop offset="0.000" stop-color="#eae5f1"/><stop offset="0.550" stop-color="#eae5f1"/><stop offset="0.557" stop-color="#e4e0f0"/><stop offset="0.650" stop-color="#dedcee"/><stop offset="0.707" stop-color="#cacce9"/><stop offset="0.757" stop-color="#b4bbe3"/><stop offset="0.793" stop-color="#b4bae2"/><stop offset="0.893" stop-color="#dcdaed"/><stop offset="0.971" stop-color="#e4e0ef"/><stop offset="1.000" stop-color="#e4e0f0"/></linearGradient><linearGradient id="hm7_9"><stop offset="0.000" stop-color="#eae5f1"/><stop offset="0.550" stop-color="#eae5f1"/><stop offset="0.557" stop-color="#e5e1f0"/><stop offset="0.650" stop-color="#e0ddef"/><stop offset="0.707" stop-color="#cdcee9"/><stop offset="0.764" stop-color="#b8bde4"/><stop offset="0.800" stop-color="#babfe4"/><stop offset="0.893" stop-color="#dedbee"/><stop offset="0.979" stop-color="#e5e1f0"/><stop offset="1.000" stop-color="#e5e1f0"/></linearGradient><linearGradient id="hm7_10"><stop offset="0.000" stop-color="#ebe6f1"/><stop offset="0.550" stop-color="#ebe6f1"/><stop offset="0.564" stop-color="#e6e2f0"/><stop offset="0.657" stop-color="#e0ddef"/><stop offset="0.729" stop-color="#c7cae8"/><stop offset="0.771" stop-color="#bcc0e5"/><stop offset="0.814" stop-color="#c3c6e7"/><stop offset="0.893" stop-color="#e0ddee"/><stop offset="0.986" stop-color="#e6e2f0"/><stop offset="1.000" stop-color="#e6e2f0"/></linearGradient><linearGradient id="hm7_11"><stop offset="0.000" stop-color="#ebe6f2"/><stop offset="0.550" stop-color="#ebe6f2"/><stop offset="0.564" stop-color="#e7e3f1"/><stop offset="0.657" stop-color="#e2dfef"/><stop offset="0.764" stop-color="#c1c5e6"/><stop offset="0.807" stop-color="#c5c8e7"/><stop offset="0.893" stop-color="#e1deef"/><stop offset="0.993" stop-color="#e7e3f1"/><stop offset="1.000" stop-color="#e8e3f1"/></linearGradient><linearGradient id="hm7_12"><stop offset="0.000" stop-color="#ece6f2"/><stop offset="0.550" stop-color="#ece6f2"/><stop offset="0.586" stop-color="#e9e4f1"/><stop offset="0.671" stop-color="#e1deef"/><stop offset="0.764" stop-color="#c6c9e7"/><stop offset="0.807" stop-color="#c9cbe8"/><stop offset="0.900" stop-color="#e4e1f0"/><stop offset="1.000" stop-color="#e9e4f1"/></linearGradient><linearGradient id="hm7_13"><stop offset="0.000" stop-color="#ece7f2"/><stop offset="0.593" stop-color="#eae5f1"/><stop offset="0.679" stop-color="#e2deef"/><stop offset="0.764" stop-color="#cbcce9"/><stop offset="0.807" stop-color="#cecfea"/><stop offset="0.900" stop-color="#e6e2f0"/><stop offset="1.000" stop-color="#eae5f1"/></linearGradient><linearGradient id="hm7_14"><stop offset="0.000" stop-color="#ede7f2"/><stop offset="0.621" stop-color="#eae5f1"/><stop offset="0.700" stop-color="#dfdcee"/><stop offset="0.771" stop-color="#cfd0ea"/><stop offset="0.829" stop-color="#d8d7ec"/><stop offset="0.907" stop-color="#e9e4f1"/><stop offset="1.000" stop-color="#ebe6f2"/></linearGradient><linearGradient id="hm7_15"><stop offset="0.000" stop-color="#ede8f2"/><stop offset="0.636" stop-color="#ebe6f1"/><stop offset="0.721" stop-color="#dcdaee"/><stop offset="0.779" stop-color="#d4d4eb"/><stop offset="0.864" stop-color="#e4e0f0"/><stop offset="0.957" stop-color="#ece7f2"/><stop offset="1.000" stop-color="#ece7f2"/></linearGradient><linearGradient id="hm7_16"><stop offset="0.000" stop-color="#eee8f2"/><stop offset="0.650" stop-color="#ebe6f2"/><stop offset="0.779" stop-color="#d9d7ed"/><stop offset="0.921" stop-color="#ece7f2"/><stop offset="1.000" stop-color="#eee8f2"/></linearGradient><linearGradient id="hm7_17"><stop offset="0.000" stop-color="#eee8f2"/><stop offset="0.657" stop-color="#ebe6f2"/><stop offset="0.779" stop-color="#dddaee"/><stop offset="0.929" stop-color="#ede7f2"/><stop offset="1.000" stop-color="#eee8f2"/></linearGradient><linearGradient id="hm7_18"><stop offset="0.000" stop-color="#eee8f2"/><stop offset="0.664" stop-color="#ebe6f2"/><stop offset="0.786" stop-color="#e0ddef"/><stop offset="0.936" stop-color="#ede8f2"/><stop offset="1.000" stop-color="#eee8f2"/></linearGradient><linearGradient id="hm7_19"><stop offset="0.000" stop-color="#eee8f2"/><stop offset="0.679" stop-color="#ebe6f2"/><stop offset="0.793" stop-color="#e4e0f0"/><stop offset="0.957" stop-color="#eee8f2"/><stop offset="1.000" stop-color="#eee8f2"/></linearGradient><linearGradient id="hm7_20"><stop offset="0.000" stop-color="#eee8f2"/><stop offset="0.700" stop-color="#ebe6f1"/><stop offset="0.821" stop-color="#e9e4f1"/><stop offset="1.000" stop-color="#eee8f2"/></linearGradient><linearGradient id="hm7_21"><stop offset="0.000" stop-color="#eee8f2"/><stop offset="0.907" stop-color="#eee8f2"/><stop offset="1.000" stop-color="#eee8f2"/></linearGradient><linearGradient id="hm7_22"><stop offset="0.000" stop-color="#eee8f2"/><stop offset="1.000" stop-color="#eee8f2"/></linearGradient><linearGradient id="hm7_23"><stop offset="0.000" stop-color="#eee8f2"/><stop offset="1.000" stop-color="#eee8f2"/></linearGradient><linearGradient id="hm7_24"><stop offset="0.000" stop-color="#eee8f2"/><stop offset="1.000" stop-color="#eee8f2"/></linearGradient><linearGradient id="hm7_25"><stop offset="0.000" stop-color="#eee8f2"/><stop offset="1.000" stop-color="#eee8f2"/></linearGradient><linearGradient id="hm7_26"><stop offset="0.000" stop-color="#eee8f2"/><stop offset="1.000" stop-color="#eee8f2"/></linearGradient><linearGradient id="hm7_27"><stop offset="0.000" stop-color="#eee8f2"/><stop offset="1.000" stop-color="#eee8f2"/></linearGradient><linearGradient id="hm7_28"><stop offset="0.000" stop-color="#eee8f2"/><stop offset="1.000" stop-color="#eee8f2"/></linearGradient><linearGradient id="hm7_29"><stop offset="0.000" stop-color="#eee8f2"/><stop offset="1.000" stop-color="#eee8f2"/></linearGradient><clipPath id="hmclip7"><rect x="329.6" y="206.0" width="34.5" height="100.0"/></clipPath><linearGradient id="cbar"><stop offset="0.000" stop-color="#2b4a9f"/><stop offset="0.260" stop-color="#3352a6"/><stop offset="0.360" stop-color="#8a9dd3"/><stop offset="0.460" stop-color="#eef0f8"/><stop offset="0.540" stop-color="#fbeeee"/><stop offset="0.630" stop-color="#f0a0a4"/><stop offset="0.720" stop-color="#e0373e"/><stop offset="1.000" stop-color="#da2129"/></linearGradient></defs><rect x="0" y="0" width="685" height="519" fill="#fff"/><text x="0.00" y="8.20" font-size="10" font-weight="bold">a</text>
<text x="59.50" y="17.20" font-size="8" text-anchor="end" textLength="34.3" lengthAdjust="spacingAndGlyphs">+ IAA (h):</text>
<text x="73.50" y="17.20" font-size="8" text-anchor="middle">0</text>
<text x="88.40" y="17.20" font-size="8" text-anchor="middle">1</text>
<text x="101.00" y="17.20" font-size="8" text-anchor="middle">2</text>
<text x="113.90" y="17.20" font-size="8" text-anchor="middle">4</text>
<text x="128.70" y="17.20" font-size="8" text-anchor="middle">6</text>
<text x="141.50" y="17.20" font-size="8" text-anchor="middle">8</text>
<text x="154.10" y="17.20" font-size="8" text-anchor="middle">12</text>
<text x="168.60" y="17.20" font-size="8" text-anchor="middle">24</text>
<text x="59.30" y="31.30" font-size="8" text-anchor="end">Ser5P</text>
<text x="59.30" y="50.20" font-size="8" text-anchor="end">Ser2P</text>
<text x="59.30" y="67.90" font-size="8" text-anchor="end">Total</text>
<text x="11.00" y="49.60" font-size="8" textLength="17.9" lengthAdjust="spacingAndGlyphs">Pol II</text>
<line x1="33.60" y1="27.00" x2="33.60" y2="67.00" stroke="#3a3a3a" stroke-width="0.9"/>
<text x="59.30" y="86.30" font-size="8" text-anchor="end" xml:space="preserve">PSPC1  (FLAG)</text>
<text x="59.30" y="103.30" font-size="8" text-anchor="end">TUBULIN</text>
<text x="59.30" y="120.40" font-size="8" text-anchor="end" textLength="59" lengthAdjust="spacingAndGlyphs">Ser5P/TUBULIN</text>
<text x="59.30" y="133.80" font-size="8" text-anchor="end" textLength="59" lengthAdjust="spacingAndGlyphs">Ser2P/TUBULIN</text>
<text x="72.00" y="120.40" font-size="8" text-anchor="middle">1</text>
<text x="72.00" y="133.80" font-size="8" text-anchor="middle">1</text>
<text x="86.17" y="120.40" font-size="8" text-anchor="middle">0.9</text>
<text x="86.17" y="133.80" font-size="8" text-anchor="middle">1.2</text>
<text x="100.34" y="120.40" font-size="8" text-anchor="middle">0.6</text>
<text x="100.34" y="133.80" font-size="8" text-anchor="middle">0.5</text>
<text x="114.51" y="120.40" font-size="8" text-anchor="middle">0.3</text>
<text x="114.51" y="133.80" font-size="8" text-anchor="middle">0.2</text>
<text x="128.68" y="120.40" font-size="8" text-anchor="middle">0.4</text>
<text x="128.68" y="133.80" font-size="8" text-anchor="middle">0.3</text>
<text x="142.85" y="120.40" font-size="8" text-anchor="middle">0.5</text>
<text x="142.85" y="133.80" font-size="8" text-anchor="middle">0.6</text>
<text x="157.02" y="120.40" font-size="8" text-anchor="middle">0.6</text>
<text x="157.02" y="133.80" font-size="8" text-anchor="middle">1.5</text>
<text x="171.19" y="120.40" font-size="8" text-anchor="middle">0.9</text>
<text x="171.19" y="133.80" font-size="8" text-anchor="middle">2.5</text>
<rect x="63.20" y="20.60" width="114.60" height="14.90" fill="#c3c3c3" stroke="#8a8a8a" stroke-width="0.7"/>
<rect x="63.20" y="39.30" width="114.60" height="14.50" fill="#c6c6c6" stroke="#8a8a8a" stroke-width="0.7"/>
<rect x="63.20" y="57.30" width="114.60" height="14.10" fill="#cdcdcd" stroke="#8a8a8a" stroke-width="0.7"/>
<rect x="63.20" y="74.60" width="114.60" height="15.20" fill="#b4b4b4" stroke="#8a8a8a" stroke-width="0.7"/>
<rect x="63.20" y="92.80" width="114.60" height="14.20" fill="#c8c8c8" stroke="#8a8a8a" stroke-width="0.7"/>
<rect x="68.20" y="24.4" width="11.2" height="9.6" rx="1.5" fill="rgb(76,76,76)" filter="url(#bl1)"/>
<rect x="68.60" y="25.0" width="10.4" height="2.6" fill="rgb(46,46,46)" filter="url(#bl1)"/>
<rect x="82.20" y="24.4" width="11.2" height="9.6" rx="1.5" fill="rgb(116,116,116)" filter="url(#bl1)"/>
<rect x="82.60" y="25.0" width="10.4" height="2.6" fill="rgb(86,86,86)" filter="url(#bl1)"/>
<rect x="96.20" y="24.4" width="11.2" height="9.6" rx="1.5" fill="rgb(152,152,152)" filter="url(#bl1)"/>
<rect x="96.60" y="25.0" width="10.4" height="2.6" fill="rgb(122,122,122)" filter="url(#bl1)"/>
<rect x="110.00" y="24.4" width="11.2" height="9.6" rx="1.5" fill="rgb(164,164,164)" filter="url(#bl1)"/>
<rect x="110.40" y="25.0" width="10.4" height="2.6" fill="rgb(134,134,134)" filter="url(#bl1)"/>
<rect x="123.60" y="24.4" width="11.2" height="9.6" rx="1.5" fill="rgb(128,128,128)" filter="url(#bl1)"/>
<rect x="124.00" y="25.0" width="10.4" height="2.6" fill="rgb(98,98,98)" filter="url(#bl1)"/>
<rect x="136.80" y="24.4" width="11.2" height="9.6" rx="1.5" fill="rgb(110,110,110)" filter="url(#bl1)"/>
<rect x="137.20" y="25.0" width="10.4" height="2.6" fill="rgb(80,80,80)" filter="url(#bl1)"/>
<rect x="150.00" y="24.4" width="11.2" height="9.6" rx="1.5" fill="rgb(110,110,110)" filter="url(#bl1)"/>
<rect x="150.40" y="25.0" width="10.4" height="2.6" fill="rgb(80,80,80)" filter="url(#bl1)"/>
<rect x="163.60" y="24.4" width="11.2" height="9.6" rx="1.5" fill="rgb(118,118,118)" filter="url(#bl1)"/>
<rect x="164.00" y="25.0" width="10.4" height="2.6" fill="rgb(88,88,88)" filter="url(#bl1)"/>
<rect x="68.20" y="48.6" width="11.2" height="4.4" rx="1" fill="rgb(120,120,120)" filter="url(#bl1)"/>
<rect x="68.00" y="45.0" width="11.6" height="4.0" rx="1" fill="rgb(96,96,96)" filter="url(#bl1)"/>
<rect x="67.80" y="43.0" width="12.0" height="3.2" rx="1.2" fill="rgb(64,64,64)" filter="url(#bl1)"/>
<rect x="82.20" y="48.6" width="11.2" height="4.4" rx="1" fill="rgb(80,80,80)" filter="url(#bl1)"/>
<rect x="82.00" y="45.0" width="11.6" height="4.0" rx="1" fill="rgb(56,56,56)" filter="url(#bl1)"/>
<rect x="81.80" y="43.0" width="12.0" height="3.2" rx="1.2" fill="rgb(44,44,44)" filter="url(#bl1)"/>
<rect x="96.20" y="48.6" width="11.2" height="4.4" rx="1" fill="rgb(160,160,160)" filter="url(#bl1)"/>
<rect x="96.00" y="45.0" width="11.6" height="4.0" rx="1" fill="rgb(144,144,144)" filter="url(#bl1)"/>
<rect x="95.80" y="43.0" width="12.0" height="3.2" rx="1.2" fill="rgb(130,130,130)" filter="url(#bl1)"/>
<rect x="110.00" y="48.6" width="11.2" height="4.4" rx="1" fill="rgb(170,170,170)" filter="url(#bl1)"/>
<rect x="109.80" y="45.0" width="11.6" height="4.0" rx="1" fill="rgb(160,160,160)" filter="url(#bl1)"/>
<rect x="109.60" y="43.0" width="12.0" height="3.2" rx="1.2" fill="rgb(152,152,152)" filter="url(#bl1)"/>
<rect x="123.60" y="48.6" width="11.2" height="4.4" rx="1" fill="rgb(160,160,160)" filter="url(#bl1)"/>
<rect x="123.40" y="45.0" width="11.6" height="4.0" rx="1" fill="rgb(148,148,148)" filter="url(#bl1)"/>
<rect x="123.20" y="43.0" width="12.0" height="3.2" rx="1.2" fill="rgb(136,136,136)" filter="url(#bl1)"/>
<rect x="136.80" y="48.6" width="11.2" height="4.4" rx="1" fill="rgb(144,144,144)" filter="url(#bl1)"/>
<rect x="136.60" y="45.0" width="11.6" height="4.0" rx="1" fill="rgb(124,124,124)" filter="url(#bl1)"/>
<rect x="136.40" y="43.0" width="12.0" height="3.2" rx="1.2" fill="rgb(100,100,100)" filter="url(#bl1)"/>
<rect x="150.00" y="48.6" width="11.2" height="4.4" rx="1" fill="rgb(86,86,86)" filter="url(#bl1)"/>
<rect x="149.80" y="45.0" width="11.6" height="4.0" rx="1" fill="rgb(60,60,60)" filter="url(#bl1)"/>
<rect x="149.60" y="43.0" width="12.0" height="3.2" rx="1.2" fill="rgb(32,32,32)" filter="url(#bl1)"/>
<rect x="163.60" y="48.6" width="11.2" height="4.4" rx="1" fill="rgb(92,92,92)" filter="url(#bl1)"/>
<rect x="163.40" y="45.0" width="11.6" height="4.0" rx="1" fill="rgb(64,64,64)" filter="url(#bl1)"/>
<rect x="163.20" y="43.0" width="12.0" height="3.2" rx="1.2" fill="rgb(30,30,30)" filter="url(#bl1)"/>
<rect x="67.20" y="60.6" width="13.2" height="6.8" rx="2.6" fill="rgb(55,55,55)" filter="url(#bl1)"/>
<rect x="81.20" y="60.6" width="13.2" height="6.8" rx="2.6" fill="rgb(57,57,57)" filter="url(#bl1)"/>
<rect x="95.20" y="60.6" width="13.2" height="6.8" rx="2.6" fill="rgb(51,51,51)" filter="url(#bl1)"/>
<rect x="109.00" y="60.6" width="13.2" height="6.8" rx="2.6" fill="rgb(47,47,47)" filter="url(#bl1)"/>
<rect x="122.60" y="60.6" width="13.2" height="6.8" rx="2.6" fill="rgb(51,51,51)" filter="url(#bl1)"/>
<rect x="135.80" y="60.6" width="13.2" height="6.8" rx="2.6" fill="rgb(57,57,57)" filter="url(#bl1)"/>
<rect x="149.00" y="60.6" width="13.2" height="6.8" rx="2.6" fill="rgb(73,73,73)" filter="url(#bl1)"/>
<rect x="162.60" y="60.6" width="13.2" height="6.8" rx="2.6" fill="rgb(75,75,75)" filter="url(#bl1)"/>
<rect x="67.60" y="80.6" width="12.4" height="3.2" rx="1.5" fill="rgb(31,31,31)" filter="url(#bl08)"/>
<rect x="81.60" y="80.6" width="12.4" height="3.2" rx="1.5" fill="rgb(37,37,37)" filter="url(#bl08)"/>
<rect x="95.60" y="80.6" width="12.4" height="3.2" rx="1.5" fill="rgb(109,109,109)" filter="url(#bl08)"/>
<rect x="109.40" y="80.6" width="12.4" height="3.2" rx="1.5" fill="rgb(165,165,165)" filter="url(#bl08)"/>
<rect x="67.40" y="99.3" width="12.8" height="3.0" rx="1.5" fill="#333333" filter="url(#bl08)"/>
<rect x="81.40" y="99.3" width="12.8" height="3.0" rx="1.5" fill="#333333" filter="url(#bl08)"/>
<rect x="95.40" y="99.3" width="12.8" height="3.0" rx="1.5" fill="#333333" filter="url(#bl08)"/>
<rect x="109.20" y="99.3" width="12.8" height="3.0" rx="1.5" fill="#333333" filter="url(#bl08)"/>
<rect x="122.80" y="99.3" width="12.8" height="3.0" rx="1.5" fill="#333333" filter="url(#bl08)"/>
<rect x="136.00" y="99.3" width="12.8" height="3.0" rx="1.5" fill="#333333" filter="url(#bl08)"/>
<rect x="149.20" y="99.3" width="12.8" height="3.0" rx="1.5" fill="#333333" filter="url(#bl08)"/>
<rect x="162.80" y="99.3" width="12.8" height="3.0" rx="1.5" fill="#333333" filter="url(#bl08)"/>
<line x1="177.80" y1="35.50" x2="181.00" y2="35.50" stroke="#555" stroke-width="0.7"/>
<line x1="177.80" y1="53.80" x2="181.00" y2="53.80" stroke="#555" stroke-width="0.7"/>
<line x1="177.80" y1="71.40" x2="181.00" y2="71.40" stroke="#555" stroke-width="0.7"/>
<line x1="177.80" y1="84.60" x2="181.00" y2="84.60" stroke="#555" stroke-width="0.7"/>
<line x1="177.80" y1="98.90" x2="181.00" y2="98.90" stroke="#555" stroke-width="0.7"/>
<text x="185.00" y="25.60" font-size="8">kD</text>
<text x="185.40" y="38.40" font-size="8">170</text>
<text x="185.40" y="56.70" font-size="8">170</text>
<text x="185.40" y="74.30" font-size="8">170</text>
<text x="185.40" y="87.50" font-size="8">70</text>
<text x="185.40" y="101.80" font-size="8">55</text>
<text x="215.60" y="7.80" font-size="10" font-weight="bold">b</text>
<text x="0" y="0" font-size="8" text-anchor="middle" transform="translate(221.60,70.50) rotate(-90)">RPM</text>
<line x1="259.20" y1="34.20" x2="259.20" y2="106.30" stroke="#c9c9c9" stroke-width="0.8"/>
<line x1="296.80" y1="34.20" x2="296.80" y2="106.30" stroke="#c9c9c9" stroke-width="0.8"/>
<rect x="240.30" y="34.20" width="75.50" height="72.10" fill="none" stroke="#9a9a9a" stroke-width="0.8"/>
<line x1="240.30" y1="34.20" x2="240.30" y2="106.30" stroke="#858585" stroke-width="0.8"/>
<line x1="240.30" y1="106.30" x2="315.80" y2="106.30" stroke="#858585" stroke-width="0.8"/>
<line x1="237.50" y1="106.30" x2="240.30" y2="106.30" stroke="#858585" stroke-width="0.8"/>
<text x="232.60" y="109.20" font-size="8" text-anchor="end">0</text>
<line x1="237.50" y1="89.60" x2="240.30" y2="89.60" stroke="#858585" stroke-width="0.8"/>
<text x="232.60" y="92.50" font-size="8" text-anchor="end">1</text>
<line x1="237.50" y1="72.90" x2="240.30" y2="72.90" stroke="#858585" stroke-width="0.8"/>
<text x="232.60" y="75.80" font-size="8" text-anchor="end">2</text>
<line x1="237.50" y1="56.20" x2="240.30" y2="56.20" stroke="#858585" stroke-width="0.8"/>
<text x="232.60" y="59.10" font-size="8" text-anchor="end">3</text>
<line x1="237.50" y1="39.50" x2="240.30" y2="39.50" stroke="#858585" stroke-width="0.8"/>
<text x="232.60" y="42.40" font-size="8" text-anchor="end">4</text>
<line x1="240.30" y1="106.30" x2="240.30" y2="108.10" stroke="#858585" stroke-width="0.8"/>
<line x1="259.20" y1="106.30" x2="259.20" y2="108.10" stroke="#858585" stroke-width="0.8"/>
<line x1="296.80" y1="106.30" x2="296.80" y2="108.10" stroke="#858585" stroke-width="0.8"/>
<line x1="315.80" y1="106.30" x2="315.80" y2="108.10" stroke="#858585" stroke-width="0.8"/>
<text x="244.20" y="30.00" font-size="8" textLength="68" lengthAdjust="spacingAndGlyphs">Pol II (Ser5P) ChIP</text>
<text x="242.80" y="44.30" font-size="8"><tspan font-style="italic">P</tspan> &lt; 2.2 × 10<tspan font-size="5" dy="-3.2">−16</tspan></text>
<polyline fill="none" stroke="#231f20" stroke-width="1.3" stroke-linejoin="round" points="240.30,97.45 240.70,97.44 241.10,97.44 241.50,97.43 241.90,97.43 242.30,97.42 242.70,97.41 243.10,97.41 243.50,97.40 243.90,97.40 244.30,97.39 244.70,97.39 245.10,97.38 245.50,97.37 245.90,97.37 246.30,97.36 246.70,97.36 247.10,97.35 247.50,97.35 247.90,97.34 248.30,97.33 248.70,97.33 249.10,97.32 249.50,97.32 249.90,97.31 250.30,97.31 250.70,97.30 251.10,97.29 251.50,97.29 251.90,97.28 252.00,97.28 252.30,97.16 252.70,97.00 253.10,96.84 253.50,96.68 253.90,96.52 254.30,96.36 254.50,96.28 254.70,95.82 255.10,94.89 255.50,93.96 255.90,93.03 256.30,92.11 256.70,88.77 257.10,85.42 257.50,82.09 257.60,81.25 257.90,75.74 258.30,68.39 258.60,62.88 258.70,60.24 259.10,49.66 259.20,47.02 259.50,53.10 259.90,61.21 260.30,69.56 260.70,77.91 261.10,81.25 261.50,84.59 261.60,85.42 261.90,86.32 262.30,87.51 262.70,88.71 263.00,89.60 263.10,89.72 263.50,90.18 263.90,90.65 264.30,91.12 264.70,91.59 265.00,91.94 265.10,91.99 265.50,92.22 265.90,92.44 266.30,92.66 266.70,92.88 267.10,93.11 267.50,93.33 267.90,93.55 268.00,93.61 268.30,93.68 268.70,93.77 269.10,93.87 269.50,93.96 269.90,94.05 270.30,94.15 270.70,94.24 271.10,94.33 271.50,94.43 271.90,94.52 272.30,94.61 272.70,94.71 273.00,94.78 273.10,94.78 273.50,94.80 273.90,94.83 274.30,94.85 274.70,94.87 275.10,94.89 275.50,94.92 275.90,94.94 276.30,94.96 276.70,94.98 277.10,95.01 277.50,95.03 277.90,95.05 278.30,95.07 278.70,95.09 279.10,95.12 279.50,95.14 279.90,95.16 280.30,95.18 280.70,95.21 281.10,95.23 281.50,95.25 281.90,95.27 282.00,95.28 282.30,95.26 282.70,95.23 283.10,95.21 283.50,95.18 283.90,95.16 284.30,95.13 284.70,95.11 285.10,95.08 285.50,95.06 285.90,95.03 286.30,95.01 286.70,94.98 287.10,94.96 287.50,94.93 287.90,94.91 288.30,94.88 288.70,94.86 289.10,94.83 289.50,94.81 289.90,94.78 290.00,94.78 290.30,94.75 290.70,94.71 291.10,94.67 291.50,94.63 291.90,94.59 292.30,94.55 292.70,94.51 293.10,94.47 293.50,94.43 293.90,94.39 294.30,94.35 294.70,94.31 295.00,94.28 295.10,94.30 295.50,94.38 295.90,94.46 296.30,94.55 296.60,94.61 296.70,94.53 297.10,94.21 297.50,93.90 297.90,93.58 298.30,93.27 298.50,93.11 298.70,93.19 299.10,93.35 299.50,93.51 299.90,93.67 300.30,93.83 300.70,93.99 301.00,94.11 301.10,94.13 301.50,94.23 301.90,94.32 302.30,94.41 302.70,94.51 303.10,94.60 303.50,94.69 303.90,94.79 304.30,94.88 304.70,94.97 305.10,95.07 305.50,95.16 305.90,95.25 306.00,95.28 306.30,95.33 306.70,95.39 307.10,95.46 307.50,95.53 307.90,95.60 308.30,95.66 308.70,95.73 309.10,95.80 309.50,95.86 309.90,95.93 310.30,96.00 310.70,96.06 311.10,96.13 311.50,96.20 311.90,96.26 312.00,96.28 312.30,96.32 312.70,96.37 313.10,96.43 313.50,96.48 313.90,96.53 314.30,96.58 314.70,96.64 315.10,96.69 315.50,96.74 315.80,96.78"/>
<polyline fill="none" stroke="#e8252b" stroke-width="1.3" stroke-linejoin="round" points="240.30,98.78 240.70,98.78 241.10,98.77 241.50,98.77 241.90,98.76 242.30,98.76 242.70,98.75 243.10,98.75 243.50,98.74 243.90,98.73 244.30,98.73 244.70,98.72 245.10,98.72 245.50,98.71 245.90,98.71 246.30,98.70 246.70,98.69 247.10,98.69 247.50,98.68 247.90,98.68 248.30,98.67 248.70,98.67 249.10,98.66 249.50,98.65 249.90,98.65 250.30,98.64 250.70,98.64 251.10,98.63 251.50,98.63 251.90,98.62 252.00,98.62 252.30,98.54 252.70,98.43 253.10,98.32 253.50,98.22 253.90,98.11 254.30,98.00 254.50,97.95 254.70,97.62 255.10,96.95 255.50,96.28 255.90,95.61 256.30,94.94 256.50,94.61 256.70,93.71 257.10,91.91 257.50,90.11 257.80,88.77 257.90,88.02 258.30,85.05 258.70,82.08 259.10,78.08 259.20,77.08 259.50,79.94 259.90,83.75 260.30,86.68 260.70,89.60 261.10,90.73 261.50,91.86 261.90,92.99 262.00,93.27 262.30,93.62 262.70,94.09 263.10,94.56 263.50,95.03 263.90,95.50 264.00,95.61 264.30,95.75 264.70,95.92 265.10,96.10 265.50,96.28 265.90,96.46 266.30,96.64 266.70,96.81 267.00,96.95 267.10,96.96 267.50,97.00 267.90,97.05 268.30,97.09 268.70,97.14 269.10,97.18 269.50,97.23 269.90,97.27 270.30,97.32 270.70,97.36 271.10,97.40 271.50,97.45 271.90,97.49 272.30,97.54 272.70,97.58 273.00,97.62 273.10,97.62 273.50,97.62 273.90,97.62 274.30,97.62 274.70,97.62 275.10,97.62 275.50,97.62 275.90,97.62 276.30,97.62 276.70,97.62 277.10,97.62 277.50,97.62 277.90,97.62 278.30,97.62 278.70,97.62 279.10,97.62 279.50,97.62 279.90,97.62 280.30,97.62 280.70,97.62 281.10,97.62 281.50,97.62 281.90,97.62 282.30,97.62 282.70,97.62 283.10,97.62 283.50,97.62 283.90,97.62 284.30,97.62 284.70,97.62 285.00,97.62 285.10,97.60 285.50,97.56 285.90,97.51 286.30,97.46 286.70,97.41 287.10,97.37 287.50,97.32 287.90,97.27 288.30,97.22 288.70,97.17 289.10,97.13 289.50,97.08 289.90,97.03 290.30,96.98 290.70,96.94 291.10,96.89 291.50,96.84 291.90,96.79 292.00,96.78 292.30,96.67 292.70,96.53 293.10,96.39 293.50,96.24 293.90,96.10 294.30,95.96 294.70,95.81 295.10,95.67 295.50,95.53 295.90,95.39 296.20,95.28 296.30,95.39 296.70,95.83 297.10,96.28 297.40,96.61 297.50,96.63 297.90,96.71 298.30,96.79 298.70,96.86 299.10,96.94 299.50,97.02 299.90,97.10 300.00,97.11 300.30,97.15 300.70,97.20 301.10,97.25 301.50,97.30 301.90,97.35 302.30,97.40 302.70,97.45 303.10,97.50 303.50,97.55 303.90,97.60 304.30,97.65 304.70,97.70 305.10,97.75 305.50,97.80 305.90,97.85 306.30,97.90 306.70,97.95 307.10,98.00 307.50,98.05 307.90,98.10 308.00,98.12 308.30,98.14 308.70,98.16 309.10,98.19 309.50,98.21 309.90,98.24 310.30,98.26 310.70,98.29 311.10,98.32 311.50,98.34 311.90,98.37 312.30,98.39 312.70,98.42 313.10,98.44 313.50,98.47 313.90,98.50 314.30,98.52 314.70,98.55 315.10,98.57 315.50,98.60 315.80,98.62"/>
<line x1="274.00" y1="69.70" x2="278.60" y2="69.70" stroke="#231f20" stroke-width="1.3"/>
<text x="281.80" y="72.70" font-size="8">No IAA</text>
<line x1="274.00" y1="80.80" x2="278.60" y2="80.80" stroke="#e8252b" stroke-width="1.3"/>
<text x="281.80" y="83.80" font-size="8">+IAA 6 h</text>
<text x="0" y="0" font-size="8" text-anchor="end" transform="translate(243.30,116.50) rotate(-45)">−5 kb</text>
<text x="0" y="0" font-size="8" text-anchor="end" transform="translate(262.60,116.50) rotate(-45)">TSS</text>
<text x="0" y="0" font-size="8" text-anchor="end" transform="translate(300.20,116.50) rotate(-45)">TES</text>
<text x="0" y="0" font-size="8" text-anchor="end" transform="translate(319.00,116.50) rotate(-45)">+5 kb</text>
<line x1="365.60" y1="34.60" x2="365.60" y2="105.50" stroke="#c9c9c9" stroke-width="0.8"/>
<line x1="404.60" y1="34.60" x2="404.60" y2="105.50" stroke="#c9c9c9" stroke-width="0.8"/>
<rect x="346.60" y="34.60" width="77.40" height="70.90" fill="none" stroke="#9a9a9a" stroke-width="0.8"/>
<line x1="346.60" y1="34.60" x2="346.60" y2="105.50" stroke="#858585" stroke-width="0.8"/>
<line x1="346.60" y1="105.50" x2="420.50" y2="105.50" stroke="#858585" stroke-width="0.8"/>
<line x1="343.80" y1="105.50" x2="346.60" y2="105.50" stroke="#858585" stroke-width="0.8"/>
<text x="339.80" y="108.40" font-size="8" text-anchor="end">0.3</text>
<line x1="343.80" y1="88.80" x2="346.60" y2="88.80" stroke="#858585" stroke-width="0.8"/>
<text x="339.80" y="91.70" font-size="8" text-anchor="end">0.4</text>
<line x1="343.80" y1="72.10" x2="346.60" y2="72.10" stroke="#858585" stroke-width="0.8"/>
<text x="339.80" y="75.00" font-size="8" text-anchor="end">0.5</text>
<line x1="343.80" y1="55.40" x2="346.60" y2="55.40" stroke="#858585" stroke-width="0.8"/>
<text x="339.80" y="58.30" font-size="8" text-anchor="end">0.6</text>
<line x1="343.80" y1="38.70" x2="346.60" y2="38.70" stroke="#858585" stroke-width="0.8"/>
<text x="339.80" y="41.60" font-size="8" text-anchor="end">0.7</text>
<line x1="346.60" y1="105.50" x2="346.60" y2="107.30" stroke="#858585" stroke-width="0.8"/>
<line x1="365.60" y1="105.50" x2="365.60" y2="107.30" stroke="#858585" stroke-width="0.8"/>
<line x1="404.60" y1="105.50" x2="404.60" y2="107.30" stroke="#858585" stroke-width="0.8"/>
<line x1="420.50" y1="105.50" x2="420.50" y2="107.30" stroke="#858585" stroke-width="0.8"/>
<text x="353.00" y="30.00" font-size="8" textLength="68.4" lengthAdjust="spacingAndGlyphs">Pol II (Ser2P) ChIP</text>
<text x="349.00" y="44.80" font-size="8"><tspan font-style="italic">P</tspan> &lt; 2.2 × 10<tspan font-size="5" dy="-3.2">−16</tspan></text>
<polyline fill="none" stroke="#231f20" stroke-width="1.3" stroke-linejoin="round" points="346.60,88.32 347.10,87.78 347.60,87.89 348.10,87.46 348.60,87.31 349.10,87.93 349.60,87.88 350.00,86.68 350.10,87.48 350.60,87.65 351.10,86.77 351.60,87.62 352.10,87.26 352.60,87.89 353.00,87.78 353.10,88.45 353.60,87.91 354.10,87.70 354.60,88.27 355.10,88.08 355.60,88.28 356.10,89.19 356.60,88.37 357.00,88.68 357.10,89.11 357.60,89.68 358.10,88.77 358.60,89.50 359.10,89.38 359.60,89.38 360.10,89.81 360.60,89.74 361.00,90.61 361.10,90.12 361.60,90.83 362.10,90.41 362.60,90.73 363.10,92.01 363.60,92.20 364.10,92.33 364.50,91.52 364.60,92.42 365.10,93.13 365.60,94.53 365.80,94.64 366.10,95.01 366.60,95.40 367.00,95.37 367.10,95.33 367.60,94.69 368.10,94.78 368.60,94.24 369.10,94.13 369.60,93.74 370.10,93.96 370.60,94.43 371.00,93.33 371.10,93.15 371.60,93.05 372.10,93.31 372.60,92.93 373.10,93.42 373.60,92.40 374.10,92.56 374.60,92.76 375.10,92.87 375.60,91.63 376.10,91.26 376.60,92.28 377.10,91.14 377.60,91.48 378.10,91.64 378.60,91.26 379.10,90.44 379.60,90.12 380.00,91.08 380.10,90.28 380.60,90.83 381.10,89.72 381.60,90.03 382.10,89.08 382.60,88.74 383.10,89.17 383.60,88.30 384.10,89.01 384.60,89.11 385.10,88.21 385.60,88.76 386.10,88.33 386.60,87.84 387.10,87.36 387.60,87.76 388.00,87.74 388.10,86.58 388.60,87.04 389.10,85.90 389.60,85.71 390.10,86.12 390.60,85.74 391.10,85.38 391.60,84.93 392.10,84.72 392.60,84.49 393.10,84.13 393.60,83.42 394.00,83.78 394.10,83.82 394.60,83.12 395.10,83.45 395.60,83.05 396.10,81.84 396.60,82.13 397.10,81.78 397.60,82.19 398.00,81.40 398.10,81.06 398.60,81.22 399.10,79.84 399.60,79.24 400.10,79.42 400.60,78.08 401.00,77.82 401.10,77.34 401.60,76.79 402.10,75.33 402.60,74.30 403.10,74.27 403.60,73.23 404.10,71.42 404.30,70.65 404.60,69.09 405.10,64.64 405.40,61.96 405.60,61.11 406.10,58.01 406.50,55.65 406.60,55.42 407.10,54.35 407.60,53.97 407.80,53.56 408.10,53.26 408.60,54.64 409.10,54.29 409.60,54.45 410.00,55.32 410.10,55.61 410.60,55.73 411.10,57.37 411.60,58.33 412.10,58.89 412.60,59.43 413.00,60.94 413.10,60.84 413.60,61.76 414.10,62.03 414.60,63.50 415.10,63.88 415.60,65.74 416.10,66.45 416.60,66.97 417.00,67.41 417.10,68.16 417.60,69.29 418.10,70.27 418.60,70.56 419.10,71.85 419.60,71.86 420.10,72.65 420.50,74.19 420.60,74.16 421.10,73.93 421.60,74.63 422.10,74.89 422.60,75.98 423.10,76.75 423.60,77.01 424.00,76.72"/>
<polyline fill="none" stroke="#e8252b" stroke-width="1.3" stroke-linejoin="round" points="346.60,92.40 347.10,92.51 347.60,92.18 348.10,92.39 348.60,92.45 349.10,92.08 349.60,91.54 350.10,91.62 350.60,91.63 351.10,92.14 351.60,91.79 352.00,92.03 352.10,92.15 352.60,92.27 353.10,92.21 353.60,91.56 354.10,91.71 354.60,91.79 355.10,91.85 355.60,92.51 356.10,92.45 356.60,92.19 357.10,92.14 357.60,92.07 358.00,92.09 358.10,92.90 358.60,92.46 359.10,92.47 359.60,92.71 360.10,93.12 360.60,92.90 361.10,93.36 361.60,92.59 362.10,92.74 362.60,93.14 363.10,93.46 363.60,92.93 364.10,93.34 364.50,93.09 364.60,92.54 365.10,89.96 365.30,88.89 365.60,91.21 366.00,94.71 366.10,95.04 366.60,95.19 367.10,94.97 367.60,96.04 368.00,96.27 368.10,95.67 368.60,95.95 369.10,95.62 369.60,95.61 370.10,95.66 370.60,94.94 371.10,95.67 371.60,95.38 372.10,95.51 372.60,95.01 373.10,95.29 373.60,95.14 374.10,94.68 374.60,95.03 375.10,94.72 375.60,94.30 376.00,95.04 376.10,95.07 376.60,94.82 377.10,94.20 377.60,94.26 378.10,94.56 378.60,94.38 379.10,94.45 379.60,94.08 380.10,94.42 380.60,93.68 381.10,93.40 381.60,93.25 382.10,93.39 382.60,93.08 383.10,93.94 383.60,93.59 384.10,92.83 384.60,92.93 385.10,93.22 385.60,92.60 386.00,92.85 386.10,92.63 386.60,93.02 387.10,92.98 387.60,92.59 388.10,92.75 388.60,92.37 389.10,91.65 389.60,92.14 390.10,92.33 390.60,92.15 391.10,91.89 391.60,91.13 392.10,91.41 392.60,91.35 393.10,91.40 393.60,90.38 394.10,90.80 394.60,90.87 395.00,90.91 395.10,90.88 395.60,90.60 396.10,89.93 396.60,90.29 397.10,90.23 397.60,89.61 398.10,89.69 398.60,88.77 399.10,89.48 399.60,88.90 400.10,88.49 400.60,88.69 401.00,87.98 401.10,88.42 401.60,88.34 402.10,87.85 402.60,87.91 403.10,87.20 403.60,87.06 404.10,86.10 404.40,85.96 404.60,85.54 405.10,84.11 405.50,82.37 405.60,82.17 406.10,81.16 406.60,80.09 407.10,78.41 407.50,78.30 407.60,78.43 408.10,77.72 408.60,78.25 409.10,77.99 409.60,78.74 410.00,78.38 410.10,78.71 410.60,78.99 411.10,79.45 411.60,80.12 412.10,80.94 412.60,81.24 413.10,80.99 413.60,81.39 414.00,81.69 414.10,82.37 414.60,82.46 415.10,82.74 415.60,83.31 416.10,83.56 416.60,84.26 417.10,84.55 417.60,84.94 418.00,85.69 418.10,85.06 418.60,85.17 419.10,86.19 419.60,85.43 420.10,85.58 420.60,86.01 421.10,86.78 421.60,86.06 422.10,86.97 422.60,86.27 423.10,86.71 423.60,87.46 424.00,87.46"/>
<text x="0" y="0" font-size="8" text-anchor="end" transform="translate(349.60,116.50) rotate(-45)">−5 kb</text>
<text x="0" y="0" font-size="8" text-anchor="end" transform="translate(369.00,116.50) rotate(-45)">TSS</text>
<text x="0" y="0" font-size="8" text-anchor="end" transform="translate(408.00,116.50) rotate(-45)">TES</text>
<text x="0" y="0" font-size="8" text-anchor="end" transform="translate(424.00,116.50) rotate(-45)">+5 kb</text>
<text x="440.80" y="7.90" font-size="10" font-weight="bold">d</text>
<text x="0" y="0" font-size="8" text-anchor="middle" transform="translate(448.20,64.30) rotate(-90)">log<tspan font-size="5" dy="1.5">2</tspan><tspan dy="-1.5"> of changes</tspan></text>
<text x="0" y="0" font-size="8" text-anchor="middle" textLength="81.5" lengthAdjust="spacingAndGlyphs" transform="translate(456.90,64.30) rotate(-90)">(no/+ IAA) of ChIP−seq</text>
<text x="0" y="0" font-size="8" text-anchor="middle" transform="translate(465.60,64.30) rotate(-90)">read density</text>
<rect x="495.00" y="25.50" width="80.80" height="77.30" fill="none" stroke="#a8a8a8" stroke-width="0.8"/>
<line x1="495.00" y1="25.50" x2="495.00" y2="102.80" stroke="#858585" stroke-width="0.8"/>
<line x1="495.00" y1="64.20" x2="575.80" y2="64.20" stroke="#6a6a6a" stroke-width="0.8"/>
<line x1="491.50" y1="25.50" x2="495.00" y2="25.50" stroke="#858585" stroke-width="0.8"/>
<text x="489.00" y="28.40" font-size="8" text-anchor="end">1.5</text>
<line x1="491.50" y1="64.20" x2="495.00" y2="64.20" stroke="#858585" stroke-width="0.8"/>
<text x="489.00" y="67.10" font-size="8" text-anchor="end">0</text>
<line x1="491.50" y1="102.90" x2="495.00" y2="102.90" stroke="#858585" stroke-width="0.8"/>
<text x="489.00" y="105.80" font-size="8" text-anchor="end">−1.5</text>
<text x="502.80" y="20.50" font-size="8" textLength="68" lengthAdjust="spacingAndGlyphs">Pol II (Ser5P) ChIP</text>
<line x1="509.00" y1="36.80" x2="509.00" y2="58.32" stroke="#2b2b2b" stroke-width="1.1"/>
<line x1="509.00" y1="71.68" x2="509.00" y2="94.21" stroke="#2b2b2b" stroke-width="1.1"/>
<line x1="504.20" y1="36.80" x2="513.80" y2="36.80" stroke="#2b2b2b" stroke-width="1.1"/>
<line x1="504.20" y1="94.21" x2="513.80" y2="94.21" stroke="#2b2b2b" stroke-width="1.1"/>
<rect x="500.00" y="58.32" width="18.00" height="13.36" rx="0.8" fill="#dddddd" stroke="#2b2b2b" stroke-width="1.3"/>
<line x1="500.00" y1="64.97" x2="518.00" y2="64.97" stroke="#2b2b2b" stroke-width="1.4"/>
<line x1="535.30" y1="39.61" x2="535.30" y2="53.11" stroke="#2b2b2b" stroke-width="1.1"/>
<line x1="535.30" y1="62.39" x2="535.30" y2="76.30" stroke="#2b2b2b" stroke-width="1.1"/>
<line x1="530.50" y1="39.61" x2="540.10" y2="39.61" stroke="#2b2b2b" stroke-width="1.1"/>
<line x1="530.50" y1="76.30" x2="540.10" y2="76.30" stroke="#2b2b2b" stroke-width="1.1"/>
<rect x="526.30" y="53.11" width="18.00" height="9.29" rx="0.8" fill="#b3b3b3" stroke="#2b2b2b" stroke-width="1.3"/>
<line x1="526.30" y1="57.75" x2="544.30" y2="57.75" stroke="#2b2b2b" stroke-width="1.4"/>
<line x1="561.90" y1="36.49" x2="561.90" y2="48.10" stroke="#2b2b2b" stroke-width="1.1"/>
<line x1="561.90" y1="57.11" x2="561.90" y2="70.60" stroke="#2b2b2b" stroke-width="1.1"/>
<line x1="557.10" y1="36.49" x2="566.70" y2="36.49" stroke="#2b2b2b" stroke-width="1.1"/>
<line x1="557.10" y1="70.60" x2="566.70" y2="70.60" stroke="#2b2b2b" stroke-width="1.1"/>
<rect x="552.90" y="48.10" width="18.00" height="9.00" rx="0.8" fill="#f26b46" stroke="#2b2b2b" stroke-width="1.3"/>
<line x1="552.90" y1="52.46" x2="570.90" y2="52.46" stroke="#2b2b2b" stroke-width="1.4"/>
<line x1="514.10" y1="48.90" x2="530.30" y2="48.90" stroke="#2b2b2b" stroke-width="0.8"/>
<path d="M512.60,48.90 l3.2,-2.1 l-0.9,2.1 l0.9,2.1 Z M531.80,48.90 l-3.2,-2.1 l0.9,2.1 l-0.9,2.1 Z" stroke="#2b2b2b" stroke-width="0.4" fill="#2b2b2b"/>
<line x1="541.30" y1="44.80" x2="557.50" y2="44.80" stroke="#2b2b2b" stroke-width="0.8"/>
<path d="M539.80,44.80 l3.2,-2.1 l-0.9,2.1 l0.9,2.1 Z M559.00,44.80 l-3.2,-2.1 l0.9,2.1 l-0.9,2.1 Z" stroke="#2b2b2b" stroke-width="0.4" fill="#2b2b2b"/>
<text x="521.60" y="46.60" font-size="10" text-anchor="middle">***</text>
<text x="549.20" y="42.50" font-size="10" text-anchor="middle">***</text>
<text x="518.20" y="95.40" font-size="10" text-anchor="middle">***</text>
<text x="514.70" y="101.40" font-size="8"><tspan font-style="italic">P</tspan> &lt; 8.04 × 10<tspan font-size="5" dy="-3.2">−153</tspan></text>
<line x1="508.80" y1="102.80" x2="508.80" y2="105.00" stroke="#858585" stroke-width="0.8"/>
<line x1="535.50" y1="102.80" x2="535.50" y2="105.00" stroke="#858585" stroke-width="0.8"/>
<line x1="562.00" y1="102.80" x2="562.00" y2="105.00" stroke="#858585" stroke-width="0.8"/>
<text x="508.80" y="116.00" font-size="8" text-anchor="middle">Low</text>
<text x="535.50" y="116.00" font-size="8" text-anchor="middle">Med</text>
<text x="561.70" y="116.00" font-size="8" text-anchor="middle">High</text>
<line x1="604.30" y1="25.40" x2="685.00" y2="25.40" stroke="#a8a8a8" stroke-width="0.8"/>
<line x1="604.30" y1="25.40" x2="604.30" y2="102.10" stroke="#858585" stroke-width="0.8"/>
<line x1="604.30" y1="102.10" x2="685.00" y2="102.10" stroke="#a8a8a8" stroke-width="0.8"/>
<line x1="684.60" y1="25.40" x2="684.60" y2="102.10" stroke="#a8a8a8" stroke-width="0.8"/>
<line x1="604.30" y1="67.00" x2="685.00" y2="67.00" stroke="#6a6a6a" stroke-width="0.8"/>
<line x1="600.80" y1="32.20" x2="604.30" y2="32.20" stroke="#858585" stroke-width="0.8"/>
<text x="597.60" y="35.10" font-size="8" text-anchor="end">1.5</text>
<line x1="600.80" y1="67.00" x2="604.30" y2="67.00" stroke="#858585" stroke-width="0.8"/>
<text x="597.60" y="69.90" font-size="8" text-anchor="end">0</text>
<line x1="600.80" y1="101.80" x2="604.30" y2="101.80" stroke="#858585" stroke-width="0.8"/>
<text x="597.60" y="104.70" font-size="8" text-anchor="end">−1.5</text>
<text x="611.00" y="20.40" font-size="8" textLength="68" lengthAdjust="spacingAndGlyphs">Pol II (Ser2P) ChIP</text>
<line x1="617.40" y1="30.20" x2="617.40" y2="63.33" stroke="#2b2b2b" stroke-width="1.1"/>
<line x1="617.40" y1="71.29" x2="617.40" y2="97.69" stroke="#2b2b2b" stroke-width="1.1"/>
<line x1="612.60" y1="30.20" x2="622.20" y2="30.20" stroke="#2b2b2b" stroke-width="1.1"/>
<line x1="612.60" y1="97.69" x2="622.20" y2="97.69" stroke="#2b2b2b" stroke-width="1.1"/>
<rect x="608.40" y="63.33" width="18.00" height="7.96" rx="0.8" fill="#e6e6e6" stroke="#2b2b2b" stroke-width="1.3"/>
<line x1="608.40" y1="67.46" x2="626.40" y2="67.46" stroke="#2b2b2b" stroke-width="1.4"/>
<line x1="644.50" y1="46.82" x2="644.50" y2="60.50" stroke="#2b2b2b" stroke-width="1.1"/>
<line x1="644.50" y1="68.28" x2="644.50" y2="77.90" stroke="#2b2b2b" stroke-width="1.1"/>
<line x1="639.70" y1="46.82" x2="649.30" y2="46.82" stroke="#2b2b2b" stroke-width="1.1"/>
<line x1="639.70" y1="77.90" x2="649.30" y2="77.90" stroke="#2b2b2b" stroke-width="1.1"/>
<rect x="635.50" y="60.50" width="18.00" height="7.77" rx="0.8" fill="#b8b8b8" stroke="#2b2b2b" stroke-width="1.3"/>
<line x1="635.50" y1="64.45" x2="653.50" y2="64.45" stroke="#2b2b2b" stroke-width="1.4"/>
<line x1="671.40" y1="43.57" x2="671.40" y2="58.60" stroke="#2b2b2b" stroke-width="1.1"/>
<line x1="671.40" y1="67.00" x2="671.40" y2="77.21" stroke="#2b2b2b" stroke-width="1.1"/>
<line x1="666.60" y1="43.57" x2="676.20" y2="43.57" stroke="#2b2b2b" stroke-width="1.1"/>
<line x1="666.60" y1="77.21" x2="676.20" y2="77.21" stroke="#2b2b2b" stroke-width="1.1"/>
<rect x="662.40" y="58.60" width="18.00" height="8.40" rx="0.8" fill="#f26b46" stroke="#2b2b2b" stroke-width="1.3"/>
<line x1="662.40" y1="63.06" x2="680.40" y2="63.06" stroke="#2b2b2b" stroke-width="1.4"/>
<line x1="622.70" y1="53.50" x2="639.50" y2="53.50" stroke="#2b2b2b" stroke-width="0.8"/>
<path d="M621.20,53.50 l3.2,-2.1 l-0.9,2.1 l0.9,2.1 Z M641.00,53.50 l-3.2,-2.1 l0.9,2.1 l-0.9,2.1 Z" stroke="#2b2b2b" stroke-width="0.4" fill="#2b2b2b"/>
<line x1="650.10" y1="52.80" x2="666.50" y2="52.80" stroke="#2b2b2b" stroke-width="0.8"/>
<path d="M648.60,52.80 l3.2,-2.1 l-0.9,2.1 l0.9,2.1 Z M668.00,52.80 l-3.2,-2.1 l0.9,2.1 l-0.9,2.1 Z" stroke="#2b2b2b" stroke-width="0.4" fill="#2b2b2b"/>
<text x="624.40" y="33.90" font-size="8"><tspan font-style="italic">P</tspan> = 4.36 × 10<tspan font-size="5" dy="-3.2">−63</tspan></text>
<text x="621.20" y="43.50" font-size="8"><tspan font-style="italic">P</tspan> = 8.04 × 10<tspan font-size="5" dy="-3.2">−153</tspan></text>
<line x1="617.80" y1="102.10" x2="617.80" y2="104.30" stroke="#858585" stroke-width="0.8"/>
<line x1="644.70" y1="102.10" x2="644.70" y2="104.30" stroke="#858585" stroke-width="0.8"/>
<line x1="671.30" y1="102.10" x2="671.30" y2="104.30" stroke="#858585" stroke-width="0.8"/>
<text x="617.60" y="116.00" font-size="8" text-anchor="middle">Low</text>
<text x="644.50" y="116.00" font-size="8" text-anchor="middle">Med</text>
<text x="671.50" y="116.00" font-size="8" text-anchor="middle">High</text>
<text x="533.00" y="133.60" font-size="8"><tspan font-size="5.4" dy="-4">AID-FB(KI)</tspan><tspan dy="4">PSPC1 ChIP−seq signal</tspan></text>
<text x="0.00" y="156.20" font-size="10" font-weight="bold">c</text>
<text x="95.60" y="192.20" font-size="8" text-anchor="end"><tspan font-size="5.3" dy="-4">AID-FB(KI)</tspan><tspan dy="4">PSPC1</tspan></text>
<text x="71.00" y="201.80" font-size="8" text-anchor="middle">ChIP</text>
<text x="113.80" y="192.20" font-size="8" text-anchor="middle">PSPC1</text>
<text x="114.60" y="201.80" font-size="8" text-anchor="middle">CLIP</text>
<text x="150.65" y="201.80" font-size="8" text-anchor="middle">No IAA</text>
<text x="189.55" y="201.80" font-size="8" text-anchor="middle">+IAA 6 h</text>
<text x="228.35" y="201.80" font-size="8" text-anchor="middle">+/no IAA</text>
<text x="268.05" y="201.80" font-size="8" text-anchor="middle">No IAA</text>
<text x="307.25" y="201.80" font-size="8" text-anchor="middle">+IAA 6 h</text>
<text x="346.85" y="201.80" font-size="8" text-anchor="middle">+/no IAA</text>
<text x="191.70" y="186.20" font-size="8" text-anchor="middle" textLength="68" lengthAdjust="spacingAndGlyphs">Pol II (Ser5P) ChIP</text>
<line x1="135.90" y1="191.00" x2="244.10" y2="191.00" stroke="#3a3a3a" stroke-width="0.8"/>
<text x="307.45" y="186.20" font-size="8" text-anchor="middle" textLength="68.3" lengthAdjust="spacingAndGlyphs">Pol II (Ser2P) ChIP</text>
<line x1="253.80" y1="191.00" x2="361.10" y2="191.00" stroke="#3a3a3a" stroke-width="0.8"/>
<text x="0" y="0" font-size="8" text-anchor="middle" textLength="98" lengthAdjust="spacingAndGlyphs" transform="translate(38.70,257.00) rotate(-90)">All genes ranked by PSPC1</text>
<text x="0" y="0" font-size="8" text-anchor="middle" textLength="91.3" lengthAdjust="spacingAndGlyphs" transform="translate(47.90,256.00) rotate(-90)">ChIP−seq signal (32,944)</text>
<g clip-path="url(#hmclip0)">
<rect x="56.5" y="206.00" width="34.5" height="4.03" fill="url(#hm0_0)"/>
<rect x="56.5" y="209.33" width="34.5" height="4.03" fill="url(#hm0_1)"/>
<rect x="56.5" y="212.67" width="34.5" height="4.03" fill="url(#hm0_2)"/>
<rect x="56.5" y="216.00" width="34.5" height="4.03" fill="url(#hm0_3)"/>
<rect x="56.5" y="219.33" width="34.5" height="4.03" fill="url(#hm0_4)"/>
<rect x="56.5" y="222.67" width="34.5" height="4.03" fill="url(#hm0_5)"/>
<rect x="56.5" y="226.00" width="34.5" height="4.03" fill="url(#hm0_6)"/>
<rect x="56.5" y="229.33" width="34.5" height="4.03" fill="url(#hm0_7)"/>
<rect x="56.5" y="232.67" width="34.5" height="4.03" fill="url(#hm0_8)"/>
<rect x="56.5" y="236.00" width="34.5" height="4.03" fill="url(#hm0_9)"/>
<rect x="56.5" y="239.33" width="34.5" height="4.03" fill="url(#hm0_10)"/>
<rect x="56.5" y="242.67" width="34.5" height="4.03" fill="url(#hm0_11)"/>
<rect x="56.5" y="246.00" width="34.5" height="4.03" fill="url(#hm0_12)"/>
<rect x="56.5" y="249.33" width="34.5" height="4.03" fill="url(#hm0_13)"/>
<rect x="56.5" y="252.67" width="34.5" height="4.03" fill="url(#hm0_14)"/>
<rect x="56.5" y="256.00" width="34.5" height="4.03" fill="url(#hm0_15)"/>
<rect x="56.5" y="259.33" width="34.5" height="4.03" fill="url(#hm0_16)"/>
<rect x="56.5" y="262.67" width="34.5" height="4.03" fill="url(#hm0_17)"/>
<rect x="56.5" y="266.00" width="34.5" height="4.03" fill="url(#hm0_18)"/>
<rect x="56.5" y="269.33" width="34.5" height="4.03" fill="url(#hm0_19)"/>
<rect x="56.5" y="272.67" width="34.5" height="4.03" fill="url(#hm0_20)"/>
<rect x="56.5" y="276.00" width="34.5" height="4.03" fill="url(#hm0_21)"/>
<rect x="56.5" y="279.33" width="34.5" height="4.03" fill="url(#hm0_22)"/>
<rect x="56.5" y="282.67" width="34.5" height="4.03" fill="url(#hm0_23)"/>
<rect x="56.5" y="286.00" width="34.5" height="4.03" fill="url(#hm0_24)"/>
<rect x="56.5" y="289.33" width="34.5" height="4.03" fill="url(#hm0_25)"/>
<rect x="56.5" y="292.67" width="34.5" height="4.03" fill="url(#hm0_26)"/>
<rect x="56.5" y="296.00" width="34.5" height="4.03" fill="url(#hm0_27)"/>
<rect x="56.5" y="299.33" width="34.5" height="4.03" fill="url(#hm0_28)"/>
<rect x="56.5" y="302.67" width="34.5" height="4.03" fill="url(#hm0_29)"/>
<rect x="56.5" y="206.0" width="34.5" height="1.6" fill="url(#hm0top)"/>
<rect x="56.5" y="206.0" width="34.5" height="100.0" filter="url(#streak)" opacity="0.07"/>
</g>
<rect x="56.50" y="206.00" width="34.50" height="100.00" fill="none" stroke="#8f8f8f" stroke-width="0.8"/>
<g clip-path="url(#hmclip1)">
<rect x="94.7" y="206.00" width="34.5" height="4.03" fill="url(#hm1_0)"/>
<rect x="94.7" y="209.33" width="34.5" height="4.03" fill="url(#hm1_1)"/>
<rect x="94.7" y="212.67" width="34.5" height="4.03" fill="url(#hm1_2)"/>
<rect x="94.7" y="216.00" width="34.5" height="4.03" fill="url(#hm1_3)"/>
<rect x="94.7" y="219.33" width="34.5" height="4.03" fill="url(#hm1_4)"/>
<rect x="94.7" y="222.67" width="34.5" height="4.03" fill="url(#hm1_5)"/>
<rect x="94.7" y="226.00" width="34.5" height="4.03" fill="url(#hm1_6)"/>
<rect x="94.7" y="229.33" width="34.5" height="4.03" fill="url(#hm1_7)"/>
<rect x="94.7" y="232.67" width="34.5" height="4.03" fill="url(#hm1_8)"/>
<rect x="94.7" y="236.00" width="34.5" height="4.03" fill="url(#hm1_9)"/>
<rect x="94.7" y="239.33" width="34.5" height="4.03" fill="url(#hm1_10)"/>
<rect x="94.7" y="242.67" width="34.5" height="4.03" fill="url(#hm1_11)"/>
<rect x="94.7" y="246.00" width="34.5" height="4.03" fill="url(#hm1_12)"/>
<rect x="94.7" y="249.33" width="34.5" height="4.03" fill="url(#hm1_13)"/>
<rect x="94.7" y="252.67" width="34.5" height="4.03" fill="url(#hm1_14)"/>
<rect x="94.7" y="256.00" width="34.5" height="4.03" fill="url(#hm1_15)"/>
<rect x="94.7" y="259.33" width="34.5" height="4.03" fill="url(#hm1_16)"/>
<rect x="94.7" y="262.67" width="34.5" height="4.03" fill="url(#hm1_17)"/>
<rect x="94.7" y="266.00" width="34.5" height="4.03" fill="url(#hm1_18)"/>
<rect x="94.7" y="269.33" width="34.5" height="4.03" fill="url(#hm1_19)"/>
<rect x="94.7" y="272.67" width="34.5" height="4.03" fill="url(#hm1_20)"/>
<rect x="94.7" y="276.00" width="34.5" height="4.03" fill="url(#hm1_21)"/>
<rect x="94.7" y="279.33" width="34.5" height="4.03" fill="url(#hm1_22)"/>
<rect x="94.7" y="282.67" width="34.5" height="4.03" fill="url(#hm1_23)"/>
<rect x="94.7" y="286.00" width="34.5" height="4.03" fill="url(#hm1_24)"/>
<rect x="94.7" y="289.33" width="34.5" height="4.03" fill="url(#hm1_25)"/>
<rect x="94.7" y="292.67" width="34.5" height="4.03" fill="url(#hm1_26)"/>
<rect x="94.7" y="296.00" width="34.5" height="4.03" fill="url(#hm1_27)"/>
<rect x="94.7" y="299.33" width="34.5" height="4.03" fill="url(#hm1_28)"/>
<rect x="94.7" y="302.67" width="34.5" height="4.03" fill="url(#hm1_29)"/>
<rect x="94.7" y="206.0" width="34.5" height="100.0" filter="url(#speckR)" opacity="0.35"/>
<line x1="99.20" y1="294.50" x2="121.70" y2="294.50" stroke="#eea0a6" stroke-width="0.7"/>
<line x1="102.20" y1="213.00" x2="121.70" y2="213.00" stroke="#eb9aa1" stroke-width="0.7"/>
</g>
<rect x="94.70" y="206.00" width="34.50" height="100.00" fill="none" stroke="#8f8f8f" stroke-width="0.8"/>
<g clip-path="url(#hmclip2)">
<rect x="133.4" y="206.00" width="34.5" height="4.03" fill="url(#hm2_0)"/>
<rect x="133.4" y="209.33" width="34.5" height="4.03" fill="url(#hm2_1)"/>
<rect x="133.4" y="212.67" width="34.5" height="4.03" fill="url(#hm2_2)"/>
<rect x="133.4" y="216.00" width="34.5" height="4.03" fill="url(#hm2_3)"/>
<rect x="133.4" y="219.33" width="34.5" height="4.03" fill="url(#hm2_4)"/>
<rect x="133.4" y="222.67" width="34.5" height="4.03" fill="url(#hm2_5)"/>
<rect x="133.4" y="226.00" width="34.5" height="4.03" fill="url(#hm2_6)"/>
<rect x="133.4" y="229.33" width="34.5" height="4.03" fill="url(#hm2_7)"/>
<rect x="133.4" y="232.67" width="34.5" height="4.03" fill="url(#hm2_8)"/>
<rect x="133.4" y="236.00" width="34.5" height="4.03" fill="url(#hm2_9)"/>
<rect x="133.4" y="239.33" width="34.5" height="4.03" fill="url(#hm2_10)"/>
<rect x="133.4" y="242.67" width="34.5" height="4.03" fill="url(#hm2_11)"/>
<rect x="133.4" y="246.00" width="34.5" height="4.03" fill="url(#hm2_12)"/>
<rect x="133.4" y="249.33" width="34.5" height="4.03" fill="url(#hm2_13)"/>
<rect x="133.4" y="252.67" width="34.5" height="4.03" fill="url(#hm2_14)"/>
<rect x="133.4" y="256.00" width="34.5" height="4.03" fill="url(#hm2_15)"/>
<rect x="133.4" y="259.33" width="34.5" height="4.03" fill="url(#hm2_16)"/>
<rect x="133.4" y="262.67" width="34.5" height="4.03" fill="url(#hm2_17)"/>
<rect x="133.4" y="266.00" width="34.5" height="4.03" fill="url(#hm2_18)"/>
<rect x="133.4" y="269.33" width="34.5" height="4.03" fill="url(#hm2_19)"/>
<rect x="133.4" y="272.67" width="34.5" height="4.03" fill="url(#hm2_20)"/>
<rect x="133.4" y="276.00" width="34.5" height="4.03" fill="url(#hm2_21)"/>
<rect x="133.4" y="279.33" width="34.5" height="4.03" fill="url(#hm2_22)"/>
<rect x="133.4" y="282.67" width="34.5" height="4.03" fill="url(#hm2_23)"/>
<rect x="133.4" y="286.00" width="34.5" height="4.03" fill="url(#hm2_24)"/>
<rect x="133.4" y="289.33" width="34.5" height="4.03" fill="url(#hm2_25)"/>
<rect x="133.4" y="292.67" width="34.5" height="4.03" fill="url(#hm2_26)"/>
<rect x="133.4" y="296.00" width="34.5" height="4.03" fill="url(#hm2_27)"/>
<rect x="133.4" y="299.33" width="34.5" height="4.03" fill="url(#hm2_28)"/>
<rect x="133.4" y="302.67" width="34.5" height="4.03" fill="url(#hm2_29)"/>
<rect x="133.4" y="206.0" width="34.5" height="100.0" filter="url(#streak)" opacity="0.07"/>
</g>
<rect x="133.40" y="206.00" width="34.50" height="100.00" fill="none" stroke="#8f8f8f" stroke-width="0.8"/>
<g clip-path="url(#hmclip3)">
<rect x="172.3" y="206.00" width="34.5" height="4.03" fill="url(#hm3_0)"/>
<rect x="172.3" y="209.33" width="34.5" height="4.03" fill="url(#hm3_1)"/>
<rect x="172.3" y="212.67" width="34.5" height="4.03" fill="url(#hm3_2)"/>
<rect x="172.3" y="216.00" width="34.5" height="4.03" fill="url(#hm3_3)"/>
<rect x="172.3" y="219.33" width="34.5" height="4.03" fill="url(#hm3_4)"/>
<rect x="172.3" y="222.67" width="34.5" height="4.03" fill="url(#hm3_5)"/>
<rect x="172.3" y="226.00" width="34.5" height="4.03" fill="url(#hm3_6)"/>
<rect x="172.3" y="229.33" width="34.5" height="4.03" fill="url(#hm3_7)"/>
<rect x="172.3" y="232.67" width="34.5" height="4.03" fill="url(#hm3_8)"/>
<rect x="172.3" y="236.00" width="34.5" height="4.03" fill="url(#hm3_9)"/>
<rect x="172.3" y="239.33" width="34.5" height="4.03" fill="url(#hm3_10)"/>
<rect x="172.3" y="242.67" width="34.5" height="4.03" fill="url(#hm3_11)"/>
<rect x="172.3" y="246.00" width="34.5" height="4.03" fill="url(#hm3_12)"/>
<rect x="172.3" y="249.33" width="34.5" height="4.03" fill="url(#hm3_13)"/>
<rect x="172.3" y="252.67" width="34.5" height="4.03" fill="url(#hm3_14)"/>
<rect x="172.3" y="256.00" width="34.5" height="4.03" fill="url(#hm3_15)"/>
<rect x="172.3" y="259.33" width="34.5" height="4.03" fill="url(#hm3_16)"/>
<rect x="172.3" y="262.67" width="34.5" height="4.03" fill="url(#hm3_17)"/>
<rect x="172.3" y="266.00" width="34.5" height="4.03" fill="url(#hm3_18)"/>
<rect x="172.3" y="269.33" width="34.5" height="4.03" fill="url(#hm3_19)"/>
<rect x="172.3" y="272.67" width="34.5" height="4.03" fill="url(#hm3_20)"/>
<rect x="172.3" y="276.00" width="34.5" height="4.03" fill="url(#hm3_21)"/>
<rect x="172.3" y="279.33" width="34.5" height="4.03" fill="url(#hm3_22)"/>
<rect x="172.3" y="282.67" width="34.5" height="4.03" fill="url(#hm3_23)"/>
<rect x="172.3" y="286.00" width="34.5" height="4.03" fill="url(#hm3_24)"/>
<rect x="172.3" y="289.33" width="34.5" height="4.03" fill="url(#hm3_25)"/>
<rect x="172.3" y="292.67" width="34.5" height="4.03" fill="url(#hm3_26)"/>
<rect x="172.3" y="296.00" width="34.5" height="4.03" fill="url(#hm3_27)"/>
<rect x="172.3" y="299.33" width="34.5" height="4.03" fill="url(#hm3_28)"/>
<rect x="172.3" y="302.67" width="34.5" height="4.03" fill="url(#hm3_29)"/>
<rect x="172.3" y="206.0" width="34.5" height="100.0" filter="url(#streak)" opacity="0.07"/>
</g>
<rect x="172.30" y="206.00" width="34.50" height="100.00" fill="none" stroke="#8f8f8f" stroke-width="0.8"/>
<g clip-path="url(#hmclip4)">
<rect x="211.1" y="206.00" width="34.5" height="4.03" fill="url(#hm4_0)"/>
<rect x="211.1" y="209.33" width="34.5" height="4.03" fill="url(#hm4_1)"/>
<rect x="211.1" y="212.67" width="34.5" height="4.03" fill="url(#hm4_2)"/>
<rect x="211.1" y="216.00" width="34.5" height="4.03" fill="url(#hm4_3)"/>
<rect x="211.1" y="219.33" width="34.5" height="4.03" fill="url(#hm4_4)"/>
<rect x="211.1" y="222.67" width="34.5" height="4.03" fill="url(#hm4_5)"/>
<rect x="211.1" y="226.00" width="34.5" height="4.03" fill="url(#hm4_6)"/>
<rect x="211.1" y="229.33" width="34.5" height="4.03" fill="url(#hm4_7)"/>
<rect x="211.1" y="232.67" width="34.5" height="4.03" fill="url(#hm4_8)"/>
<rect x="211.1" y="236.00" width="34.5" height="4.03" fill="url(#hm4_9)"/>
<rect x="211.1" y="239.33" width="34.5" height="4.03" fill="url(#hm4_10)"/>
<rect x="211.1" y="242.67" width="34.5" height="4.03" fill="url(#hm4_11)"/>
<rect x="211.1" y="246.00" width="34.5" height="4.03" fill="url(#hm4_12)"/>
<rect x="211.1" y="249.33" width="34.5" height="4.03" fill="url(#hm4_13)"/>
<rect x="211.1" y="252.67" width="34.5" height="4.03" fill="url(#hm4_14)"/>
<rect x="211.1" y="256.00" width="34.5" height="4.03" fill="url(#hm4_15)"/>
<rect x="211.1" y="259.33" width="34.5" height="4.03" fill="url(#hm4_16)"/>
<rect x="211.1" y="262.67" width="34.5" height="4.03" fill="url(#hm4_17)"/>
<rect x="211.1" y="266.00" width="34.5" height="4.03" fill="url(#hm4_18)"/>
<rect x="211.1" y="269.33" width="34.5" height="4.03" fill="url(#hm4_19)"/>
<rect x="211.1" y="272.67" width="34.5" height="4.03" fill="url(#hm4_20)"/>
<rect x="211.1" y="276.00" width="34.5" height="4.03" fill="url(#hm4_21)"/>
<rect x="211.1" y="279.33" width="34.5" height="4.03" fill="url(#hm4_22)"/>
<rect x="211.1" y="282.67" width="34.5" height="4.03" fill="url(#hm4_23)"/>
<rect x="211.1" y="286.00" width="34.5" height="4.03" fill="url(#hm4_24)"/>
<rect x="211.1" y="289.33" width="34.5" height="4.03" fill="url(#hm4_25)"/>
<rect x="211.1" y="292.67" width="34.5" height="4.03" fill="url(#hm4_26)"/>
<rect x="211.1" y="296.00" width="34.5" height="4.03" fill="url(#hm4_27)"/>
<rect x="211.1" y="299.33" width="34.5" height="4.03" fill="url(#hm4_28)"/>
<rect x="211.1" y="302.67" width="34.5" height="4.03" fill="url(#hm4_29)"/>
<rect x="211.1" y="206.0" width="34.5" height="100.0" filter="url(#speckB)" opacity="0.2"/>
</g>
<rect x="211.10" y="206.00" width="34.50" height="100.00" fill="none" stroke="#8f8f8f" stroke-width="0.8"/>
<g clip-path="url(#hmclip5)">
<rect x="250.8" y="206.00" width="34.5" height="4.03" fill="url(#hm5_0)"/>
<rect x="250.8" y="209.33" width="34.5" height="4.03" fill="url(#hm5_1)"/>
<rect x="250.8" y="212.67" width="34.5" height="4.03" fill="url(#hm5_2)"/>
<rect x="250.8" y="216.00" width="34.5" height="4.03" fill="url(#hm5_3)"/>
<rect x="250.8" y="219.33" width="34.5" height="4.03" fill="url(#hm5_4)"/>
<rect x="250.8" y="222.67" width="34.5" height="4.03" fill="url(#hm5_5)"/>
<rect x="250.8" y="226.00" width="34.5" height="4.03" fill="url(#hm5_6)"/>
<rect x="250.8" y="229.33" width="34.5" height="4.03" fill="url(#hm5_7)"/>
<rect x="250.8" y="232.67" width="34.5" height="4.03" fill="url(#hm5_8)"/>
<rect x="250.8" y="236.00" width="34.5" height="4.03" fill="url(#hm5_9)"/>
<rect x="250.8" y="239.33" width="34.5" height="4.03" fill="url(#hm5_10)"/>
<rect x="250.8" y="242.67" width="34.5" height="4.03" fill="url(#hm5_11)"/>
<rect x="250.8" y="246.00" width="34.5" height="4.03" fill="url(#hm5_12)"/>
<rect x="250.8" y="249.33" width="34.5" height="4.03" fill="url(#hm5_13)"/>
<rect x="250.8" y="252.67" width="34.5" height="4.03" fill="url(#hm5_14)"/>
<rect x="250.8" y="256.00" width="34.5" height="4.03" fill="url(#hm5_15)"/>
<rect x="250.8" y="259.33" width="34.5" height="4.03" fill="url(#hm5_16)"/>
<rect x="250.8" y="262.67" width="34.5" height="4.03" fill="url(#hm5_17)"/>
<rect x="250.8" y="266.00" width="34.5" height="4.03" fill="url(#hm5_18)"/>
<rect x="250.8" y="269.33" width="34.5" height="4.03" fill="url(#hm5_19)"/>
<rect x="250.8" y="272.67" width="34.5" height="4.03" fill="url(#hm5_20)"/>
<rect x="250.8" y="276.00" width="34.5" height="4.03" fill="url(#hm5_21)"/>
<rect x="250.8" y="279.33" width="34.5" height="4.03" fill="url(#hm5_22)"/>
<rect x="250.8" y="282.67" width="34.5" height="4.03" fill="url(#hm5_23)"/>
<rect x="250.8" y="286.00" width="34.5" height="4.03" fill="url(#hm5_24)"/>
<rect x="250.8" y="289.33" width="34.5" height="4.03" fill="url(#hm5_25)"/>
<rect x="250.8" y="292.67" width="34.5" height="4.03" fill="url(#hm5_26)"/>
<rect x="250.8" y="296.00" width="34.5" height="4.03" fill="url(#hm5_27)"/>
<rect x="250.8" y="299.33" width="34.5" height="4.03" fill="url(#hm5_28)"/>
<rect x="250.8" y="302.67" width="34.5" height="4.03" fill="url(#hm5_29)"/>
<rect x="250.8" y="206.0" width="34.5" height="100.0" filter="url(#streak)" opacity="0.07"/>
</g>
<rect x="250.80" y="206.00" width="34.50" height="100.00" fill="none" stroke="#8f8f8f" stroke-width="0.8"/>
<g clip-path="url(#hmclip6)">
<rect x="290.0" y="206.00" width="34.5" height="4.03" fill="url(#hm6_0)"/>
<rect x="290.0" y="209.33" width="34.5" height="4.03" fill="url(#hm6_1)"/>
<rect x="290.0" y="212.67" width="34.5" height="4.03" fill="url(#hm6_2)"/>
<rect x="290.0" y="216.00" width="34.5" height="4.03" fill="url(#hm6_3)"/>
<rect x="290.0" y="219.33" width="34.5" height="4.03" fill="url(#hm6_4)"/>
<rect x="290.0" y="222.67" width="34.5" height="4.03" fill="url(#hm6_5)"/>
<rect x="290.0" y="226.00" width="34.5" height="4.03" fill="url(#hm6_6)"/>
<rect x="290.0" y="229.33" width="34.5" height="4.03" fill="url(#hm6_7)"/>
<rect x="290.0" y="232.67" width="34.5" height="4.03" fill="url(#hm6_8)"/>
<rect x="290.0" y="236.00" width="34.5" height="4.03" fill="url(#hm6_9)"/>
<rect x="290.0" y="239.33" width="34.5" height="4.03" fill="url(#hm6_10)"/>
<rect x="290.0" y="242.67" width="34.5" height="4.03" fill="url(#hm6_11)"/>
<rect x="290.0" y="246.00" width="34.5" height="4.03" fill="url(#hm6_12)"/>
<rect x="290.0" y="249.33" width="34.5" height="4.03" fill="url(#hm6_13)"/>
<rect x="290.0" y="252.67" width="34.5" height="4.03" fill="url(#hm6_14)"/>
<rect x="290.0" y="256.00" width="34.5" height="4.03" fill="url(#hm6_15)"/>
<rect x="290.0" y="259.33" width="34.5" height="4.03" fill="url(#hm6_16)"/>
<rect x="290.0" y="262.67" width="34.5" height="4.03" fill="url(#hm6_17)"/>
<rect x="290.0" y="266.00" width="34.5" height="4.03" fill="url(#hm6_18)"/>
<rect x="290.0" y="269.33" width="34.5" height="4.03" fill="url(#hm6_19)"/>
<rect x="290.0" y="272.67" width="34.5" height="4.03" fill="url(#hm6_20)"/>
<rect x="290.0" y="276.00" width="34.5" height="4.03" fill="url(#hm6_21)"/>
<rect x="290.0" y="279.33" width="34.5" height="4.03" fill="url(#hm6_22)"/>
<rect x="290.0" y="282.67" width="34.5" height="4.03" fill="url(#hm6_23)"/>
<rect x="290.0" y="286.00" width="34.5" height="4.03" fill="url(#hm6_24)"/>
<rect x="290.0" y="289.33" width="34.5" height="4.03" fill="url(#hm6_25)"/>
<rect x="290.0" y="292.67" width="34.5" height="4.03" fill="url(#hm6_26)"/>
<rect x="290.0" y="296.00" width="34.5" height="4.03" fill="url(#hm6_27)"/>
<rect x="290.0" y="299.33" width="34.5" height="4.03" fill="url(#hm6_28)"/>
<rect x="290.0" y="302.67" width="34.5" height="4.03" fill="url(#hm6_29)"/>
<rect x="290.0" y="206.0" width="34.5" height="100.0" filter="url(#streak)" opacity="0.07"/>
</g>
<rect x="290.00" y="206.00" width="34.50" height="100.00" fill="none" stroke="#8f8f8f" stroke-width="0.8"/>
<g clip-path="url(#hmclip7)">
<rect x="329.6" y="206.00" width="34.5" height="4.03" fill="url(#hm7_0)"/>
<rect x="329.6" y="209.33" width="34.5" height="4.03" fill="url(#hm7_1)"/>
<rect x="329.6" y="212.67" width="34.5" height="4.03" fill="url(#hm7_2)"/>
<rect x="329.6" y="216.00" width="34.5" height="4.03" fill="url(#hm7_3)"/>
<rect x="329.6" y="219.33" width="34.5" height="4.03" fill="url(#hm7_4)"/>
<rect x="329.6" y="222.67" width="34.5" height="4.03" fill="url(#hm7_5)"/>
<rect x="329.6" y="226.00" width="34.5" height="4.03" fill="url(#hm7_6)"/>
<rect x="329.6" y="229.33" width="34.5" height="4.03" fill="url(#hm7_7)"/>
<rect x="329.6" y="232.67" width="34.5" height="4.03" fill="url(#hm7_8)"/>
<rect x="329.6" y="236.00" width="34.5" height="4.03" fill="url(#hm7_9)"/>
<rect x="329.6" y="239.33" width="34.5" height="4.03" fill="url(#hm7_10)"/>
<rect x="329.6" y="242.67" width="34.5" height="4.03" fill="url(#hm7_11)"/>
<rect x="329.6" y="246.00" width="34.5" height="4.03" fill="url(#hm7_12)"/>
<rect x="329.6" y="249.33" width="34.5" height="4.03" fill="url(#hm7_13)"/>
<rect x="329.6" y="252.67" width="34.5" height="4.03" fill="url(#hm7_14)"/>
<rect x="329.6" y="256.00" width="34.5" height="4.03" fill="url(#hm7_15)"/>
<rect x="329.6" y="259.33" width="34.5" height="4.03" fill="url(#hm7_16)"/>
<rect x="329.6" y="262.67" width="34.5" height="4.03" fill="url(#hm7_17)"/>
<rect x="329.6" y="266.00" width="34.5" height="4.03" fill="url(#hm7_18)"/>
<rect x="329.6" y="269.33" width="34.5" height="4.03" fill="url(#hm7_19)"/>
<rect x="329.6" y="272.67" width="34.5" height="4.03" fill="url(#hm7_20)"/>
<rect x="329.6" y="276.00" width="34.5" height="4.03" fill="url(#hm7_21)"/>
<rect x="329.6" y="279.33" width="34.5" height="4.03" fill="url(#hm7_22)"/>
<rect x="329.6" y="282.67" width="34.5" height="4.03" fill="url(#hm7_23)"/>
<rect x="329.6" y="286.00" width="34.5" height="4.03" fill="url(#hm7_24)"/>
<rect x="329.6" y="289.33" width="34.5" height="4.03" fill="url(#hm7_25)"/>
<rect x="329.6" y="292.67" width="34.5" height="4.03" fill="url(#hm7_26)"/>
<rect x="329.6" y="296.00" width="34.5" height="4.03" fill="url(#hm7_27)"/>
<rect x="329.6" y="299.33" width="34.5" height="4.03" fill="url(#hm7_28)"/>
<rect x="329.6" y="302.67" width="34.5" height="4.03" fill="url(#hm7_29)"/>
<rect x="329.6" y="206.0" width="34.5" height="100.0" filter="url(#speckR)" opacity="0.12"/>
<rect x="329.6" y="206.0" width="34.5" height="100.0" filter="url(#speckB)" opacity="0.2"/>
<rect x="337.6" y="282" width="17" height="24" filter="url(#speckR)" opacity="0.3"/>
<rect x="337.6" y="282" width="17" height="24" filter="url(#speckP)" opacity="0.5"/>
</g>
<rect x="329.60" y="206.00" width="34.50" height="100.00" fill="none" stroke="#8f8f8f" stroke-width="0.8"/>
<line x1="56.50" y1="306.80" x2="91.00" y2="306.80" stroke="#858585" stroke-width="0.8"/>
<line x1="56.50" y1="306.80" x2="56.50" y2="309.60" stroke="#858585" stroke-width="0.8"/>
<line x1="64.30" y1="306.80" x2="64.30" y2="309.60" stroke="#858585" stroke-width="0.8"/>
<line x1="82.00" y1="306.80" x2="82.00" y2="309.60" stroke="#858585" stroke-width="0.8"/>
<line x1="91.00" y1="306.80" x2="91.00" y2="309.60" stroke="#858585" stroke-width="0.8"/>
<text x="0" y="0" font-size="8" text-anchor="end" transform="translate(59.50,317.00) rotate(-45)">−5 kb</text>
<text x="0" y="0" font-size="8" text-anchor="end" transform="translate(69.70,317.00) rotate(-45)">TSS</text>
<text x="0" y="0" font-size="8" text-anchor="end" transform="translate(84.50,317.00) rotate(-45)">TES</text>
<text x="0" y="0" font-size="8" text-anchor="end" transform="translate(95.90,317.00) rotate(-45)">+5 kb</text>
<text x="193.60" y="320.10" font-size="8" text-anchor="end">Low</text>
<rect x="198.10" y="314.90" width="21.70" height="4.90" fill="url(#cbar)"/>
<text x="223.60" y="320.10" font-size="8">High</text>
<text x="391.90" y="155.90" font-size="10" font-weight="bold">e</text>
<text x="435.80" y="163.20" font-size="8">Pol II (Ser2P) ChIP in <tspan font-size="5.6" dy="-4">AID-FB(KI)</tspan><tspan dy="4">PSPC1 cells</tspan></text>
<text x="0" y="0" font-size="8" text-anchor="middle" transform="translate(398.80,249.20) rotate(-90)">RPM</text>
<line x1="442.90" y1="169.40" x2="442.90" y2="244.50" stroke="#c9c9c9" stroke-width="0.9"/>
<line x1="480.60" y1="169.40" x2="480.60" y2="244.50" stroke="#c9c9c9" stroke-width="0.9"/>
<rect x="423.50" y="169.40" width="75.50" height="75.10" fill="none" stroke="#a3a3a3" stroke-width="0.8"/>
<line x1="423.50" y1="169.40" x2="423.50" y2="244.50" stroke="#858585" stroke-width="0.8"/>
<line x1="423.50" y1="244.50" x2="499.00" y2="244.50" stroke="#858585" stroke-width="0.8"/>
<line x1="420.00" y1="244.50" x2="423.50" y2="244.50" stroke="#9a9a9a" stroke-width="0.8"/>
<text x="416.70" y="247.40" font-size="8" text-anchor="end">0</text>
<line x1="420.00" y1="208.80" x2="423.50" y2="208.80" stroke="#9a9a9a" stroke-width="0.8"/>
<text x="416.70" y="211.70" font-size="8" text-anchor="end">0.5</text>
<line x1="420.00" y1="173.10" x2="423.50" y2="173.10" stroke="#9a9a9a" stroke-width="0.8"/>
<text x="416.70" y="176.00" font-size="8" text-anchor="end">1.0</text>
<polyline fill="none" stroke="#231f20" stroke-width="1.2" stroke-linejoin="round" points="423.50,226.63 423.78,226.40 424.00,226.64 424.12,226.65 424.50,226.52 424.51,226.53 424.94,226.53 425.00,226.75 425.42,226.68 425.50,226.51 425.93,226.73 426.00,226.61 426.46,226.76 426.50,226.71 427.00,226.84 427.02,226.66 427.50,226.69 427.60,226.91 428.00,226.91 428.19,226.78 428.50,226.83 428.79,226.88 429.00,226.76 429.39,226.83 429.50,226.86 429.98,226.98 430.00,227.04 430.50,226.94 430.56,227.07 431.00,227.01 431.12,227.13 431.50,227.19 431.67,227.08 432.00,227.08 432.18,227.13 432.50,227.10 432.66,227.28 433.00,227.14 433.10,227.34 433.50,227.37 434.00,227.40 434.28,227.55 434.50,227.45 434.97,227.47 435.00,227.69 435.50,227.60 435.59,227.75 436.00,227.94 436.14,227.95 436.50,227.91 436.65,228.10 437.00,228.12 437.11,228.27 437.50,228.22 437.55,228.45 437.98,228.52 438.00,228.58 438.40,228.61 438.50,228.68 439.00,228.82 439.12,228.78 439.50,229.04 439.75,229.15 440.00,229.14 440.30,229.42 440.50,229.50 440.78,229.59 441.00,229.74 441.20,229.74 441.50,230.16 441.89,230.87 442.00,231.04 442.30,231.82 442.50,232.30 442.63,232.51 442.90,232.49 443.00,232.30 443.18,231.69 443.50,230.26 443.73,229.76 444.00,229.46 444.50,229.02 444.85,228.83 445.00,228.49 445.24,228.50 445.50,228.28 445.67,228.36 446.00,228.16 446.16,227.94 446.50,227.85 446.69,227.81 447.00,227.58 447.28,227.55 447.50,227.42 447.93,227.20 448.00,227.10 448.50,226.86 448.63,226.96 449.00,226.67 449.40,226.58 449.50,226.52 449.79,226.34 450.00,226.16 450.20,226.32 450.50,226.10 450.64,226.07 451.00,225.87 451.09,225.92 451.50,225.77 451.56,225.64 452.00,225.61 452.04,225.56 452.50,225.41 452.54,225.46 453.00,225.12 453.05,225.10 453.50,225.14 453.57,224.94 454.00,224.84 454.10,224.90 454.50,224.79 454.63,224.60 455.00,224.55 455.17,224.56 455.50,224.32 455.71,224.46 456.00,224.22 456.25,224.30 456.50,224.00 456.79,224.06 457.00,224.04 457.32,223.80 457.50,223.61 457.86,223.70 458.00,223.50 458.38,223.54 458.50,223.40 458.90,223.33 459.00,223.18 459.39,223.15 459.50,223.09 459.89,222.96 460.00,222.81 460.40,222.78 460.50,222.53 460.92,222.33 461.00,222.48 461.44,222.40 461.50,222.35 461.96,222.13 462.00,221.96 462.49,221.85 462.50,221.86 463.00,221.82 463.02,221.77 463.50,221.41 463.54,221.59 464.00,221.20 464.07,221.40 464.50,221.12 464.59,221.16 465.00,221.07 465.11,220.78 465.50,220.80 465.62,220.61 466.00,220.40 466.12,220.41 466.50,220.41 466.61,220.21 467.00,219.96 467.10,220.05 467.50,219.77 467.57,219.82 468.00,219.67 468.03,219.44 468.47,219.31 468.50,219.23 468.90,219.05 469.00,218.91 469.50,218.86 469.54,218.74 470.00,218.30 470.16,218.41 470.50,218.14 470.76,218.00 471.00,217.85 471.34,217.68 471.50,217.40 471.90,217.12 472.00,217.24 472.45,216.90 472.50,216.82 472.97,216.38 473.00,216.42 473.48,215.88 473.50,215.98 473.96,215.41 474.00,215.58 474.43,215.10 474.50,215.06 474.87,214.39 475.00,214.42 475.30,213.99 475.50,213.65 475.70,213.50 476.00,212.77 476.48,211.93 476.50,211.87 477.00,210.84 477.14,210.59 477.50,209.51 477.70,208.83 478.00,207.66 478.20,206.99 478.50,205.88 478.65,205.24 479.00,203.62 479.10,203.04 479.50,200.79 479.72,199.55 480.00,197.48 480.24,195.46 480.50,193.24 480.69,191.43 481.00,188.89 481.10,188.30 481.50,185.66 481.77,183.65 482.00,182.55 482.30,180.87 482.50,180.29 482.71,179.60 483.00,179.55 483.10,179.42 483.50,179.62 483.55,179.89 484.00,180.53 484.10,180.89 484.50,181.43 484.53,181.50 485.00,182.43 485.02,182.46 485.50,183.76 485.70,184.32 486.00,185.08 486.15,185.57 486.50,186.59 486.68,187.29 487.00,188.33 487.25,188.86 487.50,189.79 487.84,190.90 488.00,191.32 488.44,192.69 488.50,192.99 489.00,194.51 489.50,195.73 489.54,196.00 490.00,197.23 490.07,197.38 490.50,198.61 490.60,199.05 491.00,199.96 491.13,200.34 491.50,201.39 491.66,201.88 492.00,202.53 492.20,203.11 492.50,203.70 492.74,204.42 493.00,204.96 493.29,205.59 493.50,205.87 493.83,206.74 494.00,206.89 494.38,207.79 494.50,208.07 494.94,208.69 495.00,208.98 495.50,209.80 496.00,210.37 496.02,210.45 496.50,211.02 496.59,211.41 497.00,211.79 497.17,211.95 497.50,212.53 497.73,212.73 498.00,213.15 498.25,213.34 498.50,213.70 498.68,213.96 499.00,214.30"/>
<polyline fill="none" stroke="#e8252b" stroke-width="1.2" stroke-linejoin="round" points="423.50,229.17 423.78,229.35 424.00,229.28 424.12,229.45 424.50,229.23 424.51,229.28 424.94,229.33 425.00,229.43 425.42,229.37 425.50,229.39 425.93,229.32 426.00,229.55 426.46,229.35 426.50,229.37 427.00,229.58 427.02,229.60 427.50,229.64 427.60,229.58 428.00,229.51 428.19,229.71 428.50,229.74 428.79,229.78 429.00,229.53 429.39,229.68 429.50,229.79 429.98,229.75 430.00,229.86 430.50,229.70 430.56,229.66 431.00,229.74 431.12,229.83 431.50,229.99 431.67,229.95 432.00,229.98 432.18,229.83 432.50,229.99 432.66,229.88 433.00,230.06 433.10,230.15 433.50,230.13 434.00,230.10 434.28,230.30 434.50,230.38 434.97,230.27 435.00,230.39 435.50,230.49 435.59,230.39 436.00,230.64 436.14,230.63 436.50,230.69 436.65,230.73 437.00,230.84 437.11,231.06 437.50,231.02 437.55,231.02 437.98,231.28 438.00,231.29 438.40,231.46 438.50,231.39 439.00,231.66 439.12,231.68 439.50,231.83 439.75,231.81 440.00,231.81 440.30,232.18 440.50,232.04 440.78,232.28 441.00,232.44 441.20,232.54 441.50,233.04 441.89,233.71 442.00,234.08 442.30,234.93 442.50,235.35 442.63,235.76 442.90,235.90 443.00,235.43 443.18,234.92 443.50,233.73 443.73,232.99 444.00,232.75 444.50,232.08 444.85,232.13 445.00,231.93 445.24,231.81 445.50,231.84 445.67,231.95 446.00,231.86 446.16,231.79 446.50,231.59 446.69,231.64 447.00,231.49 447.28,231.43 447.50,231.42 447.93,231.26 448.00,231.15 448.50,231.16 448.63,231.26 449.00,230.92 449.40,230.81 449.50,230.88 449.79,230.75 450.00,230.76 450.20,230.65 450.50,230.69 450.64,230.63 451.00,230.66 451.09,230.53 451.50,230.55 451.56,230.49 452.00,230.40 452.04,230.28 452.50,230.13 452.54,230.16 453.00,230.09 453.05,229.94 453.50,230.07 453.57,229.91 454.00,229.78 454.10,229.70 454.50,229.66 454.63,229.72 455.00,229.47 455.17,229.56 455.50,229.54 455.71,229.42 456.00,229.26 456.25,229.29 456.50,229.34 456.79,229.17 457.00,229.20 457.32,228.93 457.50,229.00 457.86,229.03 458.00,228.85 458.38,228.89 458.50,228.79 458.90,228.68 459.00,228.74 459.39,228.49 459.50,228.57 459.89,228.39 460.00,228.51 460.40,228.41 460.50,228.17 460.92,228.22 461.00,228.23 461.44,228.00 461.50,228.20 461.96,227.97 462.00,227.84 462.49,227.74 462.50,227.77 463.00,227.88 463.02,227.77 463.50,227.69 463.54,227.78 464.00,227.64 464.07,227.48 464.50,227.55 464.59,227.46 465.00,227.22 465.11,227.37 465.50,227.09 465.62,227.21 466.00,227.06 466.12,226.97 466.50,227.04 466.61,227.08 467.00,226.87 467.10,226.95 467.50,226.66 467.57,226.78 468.00,226.47 468.03,226.55 468.47,226.31 468.50,226.49 468.90,226.31 469.00,226.37 469.50,226.02 469.54,226.06 470.00,225.86 470.16,225.89 470.50,225.77 470.76,225.64 471.00,225.50 471.34,225.35 471.50,225.34 471.90,225.15 472.00,225.21 472.45,225.04 472.50,224.83 472.97,224.81 473.00,224.64 473.48,224.59 473.50,224.46 473.96,224.37 474.00,224.21 474.43,223.87 474.50,223.88 474.87,223.83 475.00,223.65 475.30,223.32 475.50,223.21 475.70,223.05 476.00,222.75 476.48,222.47 476.50,222.22 477.00,221.75 477.14,221.56 477.50,221.06 477.70,220.71 478.00,220.18 478.20,219.99 478.50,219.27 478.65,218.85 479.00,218.24 479.10,218.06 479.50,216.72 479.72,216.07 480.00,215.09 480.24,214.12 480.50,212.90 480.69,211.95 481.00,210.71 481.10,210.38 481.50,209.35 481.77,208.68 482.00,208.19 482.30,207.30 482.50,206.96 482.71,206.36 483.00,206.09 483.10,205.90 483.50,206.65 483.55,206.59 484.00,207.16 484.10,207.42 484.50,207.60 484.53,207.60 485.00,207.87 485.02,207.85 485.50,208.12 485.70,208.42 486.00,208.72 486.15,209.15 486.50,209.46 486.68,209.90 487.00,210.41 487.25,210.73 487.50,211.04 487.84,211.75 488.00,211.86 488.44,212.56 488.50,212.81 489.00,213.40 489.50,214.06 489.54,214.06 490.00,214.76 490.07,214.93 490.50,215.40 490.60,215.73 491.00,216.28 491.13,216.31 491.50,216.78 491.66,217.10 492.00,217.58 492.20,217.67 492.50,218.18 492.74,218.21 493.00,218.67 493.29,218.89 493.50,219.11 493.83,219.53 494.00,219.70 494.38,220.09 494.50,220.07 494.94,220.41 495.00,220.64 495.50,220.93 496.00,221.25 496.02,221.44 496.50,221.84 496.59,221.88 497.00,222.09 497.17,222.15 497.50,222.43 497.73,222.41 498.00,222.76 498.25,222.90 498.50,222.99 498.68,222.97 499.00,223.25"/>
<text x="425.30" y="184.20" font-size="8">+GFP</text>
<text x="442.20" y="242.80" font-size="8"><tspan font-style="italic">P</tspan> = 9.18 × 10<tspan font-size="5" dy="-3.2">−11</tspan></text>
<line x1="541.60" y1="169.60" x2="541.60" y2="244.40" stroke="#c9c9c9" stroke-width="0.9"/>
<line x1="578.50" y1="169.60" x2="578.50" y2="244.40" stroke="#c9c9c9" stroke-width="0.9"/>
<rect x="522.60" y="169.60" width="74.80" height="74.80" fill="none" stroke="#a3a3a3" stroke-width="0.8"/>
<line x1="522.60" y1="169.60" x2="522.60" y2="244.40" stroke="#858585" stroke-width="0.8"/>
<line x1="522.60" y1="244.40" x2="597.40" y2="244.40" stroke="#858585" stroke-width="0.8"/>
<line x1="519.10" y1="244.40" x2="522.60" y2="244.40" stroke="#9a9a9a" stroke-width="0.8"/>
<text x="515.80" y="247.30" font-size="8" text-anchor="end">0</text>
<line x1="519.10" y1="208.70" x2="522.60" y2="208.70" stroke="#9a9a9a" stroke-width="0.8"/>
<text x="515.80" y="211.60" font-size="8" text-anchor="end">0.5</text>
<line x1="519.10" y1="173.00" x2="522.60" y2="173.00" stroke="#9a9a9a" stroke-width="0.8"/>
<text x="515.80" y="175.90" font-size="8" text-anchor="end">1.0</text>
<polyline fill="none" stroke="#231f20" stroke-width="1.2" stroke-linejoin="round" points="522.60,226.30 522.88,226.39 523.10,226.32 523.22,226.44 523.60,226.48 523.61,226.49 524.05,226.64 524.10,226.64 524.53,226.51 524.60,226.45 525.04,226.65 525.10,226.64 525.58,226.62 525.60,226.61 526.10,226.62 526.14,226.52 526.60,226.68 526.73,226.55 527.10,226.75 527.32,226.69 527.60,226.66 527.92,226.78 528.10,226.69 528.52,226.88 528.60,226.76 529.10,226.76 529.11,226.88 529.60,226.96 529.69,226.87 530.10,226.79 530.25,226.92 530.60,227.09 530.79,227.00 531.10,226.96 531.30,227.04 531.60,226.93 531.78,227.17 532.10,226.99 532.21,227.05 532.60,227.21 533.10,227.33 533.35,227.24 533.60,227.27 534.00,227.48 534.10,227.52 534.57,227.64 534.60,227.62 535.07,227.72 535.10,227.79 535.52,227.86 535.60,227.96 535.93,228.06 536.10,228.30 536.32,228.13 536.60,228.35 536.71,228.27 537.10,228.41 537.60,228.85 537.80,228.68 538.10,228.82 538.42,228.99 538.60,228.99 538.98,229.26 539.10,229.19 539.48,229.35 539.60,229.36 539.90,229.73 540.10,230.03 540.59,231.13 540.60,231.23 541.00,232.57 541.10,232.68 541.33,233.55 541.60,233.95 541.88,232.87 542.10,231.95 542.20,231.77 542.43,231.03 542.60,230.78 543.10,230.50 543.20,230.18 543.55,230.11 543.60,229.88 543.94,229.67 544.10,229.63 544.37,229.22 544.60,229.05 544.86,228.80 545.10,228.71 545.39,228.56 545.60,228.42 545.98,227.96 546.10,228.05 546.60,227.84 546.63,227.66 547.10,227.53 547.33,227.37 547.60,227.15 548.10,226.78 548.49,226.61 548.60,226.61 548.90,226.59 549.10,226.48 549.34,226.52 549.60,226.18 549.79,226.16 550.10,226.06 550.26,226.04 550.60,225.89 550.74,225.87 551.10,225.83 551.24,225.79 551.60,225.66 551.75,225.55 552.10,225.49 552.27,225.36 552.60,225.26 552.80,225.33 553.10,225.03 553.33,225.14 553.60,224.88 553.87,225.03 554.10,224.83 554.41,224.77 554.60,224.70 554.95,224.64 555.10,224.52 555.49,224.51 555.60,224.33 556.02,224.21 556.10,224.23 556.56,223.95 556.60,224.15 557.08,223.75 557.10,223.72 557.60,223.49 558.09,223.39 558.10,223.35 558.59,223.28 558.60,223.18 559.10,222.99 559.10,223.03 559.60,222.85 559.62,222.68 560.10,222.62 560.14,222.63 560.60,222.45 560.66,222.34 561.10,222.22 561.19,222.26 561.60,221.91 561.72,222.05 562.10,221.84 562.24,221.73 562.60,221.64 562.77,221.59 563.10,221.23 563.29,221.23 563.60,221.07 563.81,221.04 564.10,220.93 564.32,220.71 564.60,220.72 564.82,220.42 565.10,220.36 565.31,220.44 565.60,220.18 565.80,220.06 566.10,219.86 566.27,219.75 566.60,219.62 566.73,219.53 567.10,219.24 567.17,219.35 567.60,218.86 568.10,218.65 568.24,218.57 568.60,218.14 568.86,218.19 569.10,217.93 569.46,217.73 569.60,217.63 570.04,217.27 570.10,217.24 570.60,216.62 570.60,216.69 571.10,216.35 571.15,216.13 571.60,215.63 571.67,215.65 572.10,215.22 572.18,215.19 572.60,214.71 572.66,214.58 573.10,214.00 573.13,214.12 573.57,213.54 573.60,213.48 574.00,212.90 574.10,212.74 574.40,212.50 574.60,212.05 575.10,211.21 575.18,211.27 575.60,210.35 575.84,209.92 576.10,209.41 576.40,208.56 576.60,208.15 576.90,207.49 577.10,206.83 577.35,205.94 577.60,204.96 577.80,204.21 578.10,202.83 578.42,201.50 578.60,200.19 578.94,198.28 579.10,197.09 579.39,195.11 579.60,193.61 579.80,192.42 580.10,190.98 580.48,189.01 580.60,188.55 581.00,186.86 581.10,186.49 581.41,185.57 581.60,185.58 581.80,185.45 582.10,185.66 582.25,185.86 582.60,186.58 582.80,186.85 583.10,187.36 583.23,187.46 583.60,187.88 583.72,188.10 584.10,188.96 584.40,189.65 584.60,190.01 584.85,190.58 585.10,191.40 585.38,192.07 585.60,192.50 585.95,193.56 586.10,193.84 586.54,195.07 586.60,195.20 587.10,196.57 587.14,196.70 587.60,197.88 587.70,198.09 588.10,198.95 588.24,199.51 588.60,200.34 588.77,200.69 589.10,201.57 589.30,202.04 589.60,202.74 589.83,203.29 590.10,203.72 590.36,204.43 590.60,204.95 590.90,205.39 591.10,205.79 591.45,206.63 591.60,206.93 592.00,207.41 592.10,207.59 592.55,208.54 592.60,208.53 593.10,209.37 593.10,209.27 593.60,210.31 593.65,210.19 594.10,210.94 594.20,210.96 594.60,211.75 594.78,212.00 595.10,212.39 595.39,212.62 595.60,212.92 596.01,213.24 596.10,213.57 596.57,213.89 596.60,213.95 597.05,214.58 597.10,214.64 597.40,214.91"/>
<polyline fill="none" stroke="#e8252b" stroke-width="1.2" stroke-linejoin="round" points="522.60,226.56 522.88,226.55 523.10,226.47 523.22,226.69 523.60,226.66 523.61,226.70 524.05,226.78 524.10,226.79 524.53,226.61 524.60,226.63 525.04,226.70 525.10,226.80 525.58,226.69 525.60,226.70 526.10,226.69 526.14,226.82 526.60,226.76 526.73,226.80 527.10,226.87 527.32,226.82 527.60,226.96 527.92,226.77 528.10,226.98 528.52,226.90 528.60,227.03 529.10,227.08 529.11,226.95 529.60,226.89 529.69,227.14 530.10,227.08 530.25,227.00 530.60,226.98 530.79,227.16 531.10,227.09 531.30,227.10 531.60,227.19 531.78,227.18 532.10,227.41 532.21,227.42 532.60,227.19 533.10,227.43 533.35,227.42 533.60,227.59 534.00,227.59 534.10,227.60 534.57,227.71 534.60,227.73 535.07,227.80 535.10,227.99 535.52,227.99 535.60,228.04 535.93,228.20 536.10,228.23 536.32,228.41 536.60,228.54 536.71,228.50 537.10,228.83 537.60,228.76 537.80,228.83 538.10,229.02 538.42,228.98 538.60,229.15 538.98,229.18 539.10,229.26 539.48,229.39 539.60,229.56 539.90,229.75 540.10,230.33 540.59,231.60 540.60,231.48 541.00,233.28 541.10,233.63 541.33,234.75 541.60,235.45 541.88,234.58 542.10,233.73 542.20,233.34 542.43,232.73 542.60,232.63 543.10,231.98 543.20,231.83 543.55,231.35 543.60,231.37 543.94,230.93 544.10,230.79 544.37,230.60 544.60,230.35 544.86,229.89 545.10,229.67 545.39,229.27 545.60,229.05 545.98,228.82 546.10,228.56 546.60,228.25 546.63,228.33 547.10,227.81 547.33,227.84 547.60,227.59 548.10,227.15 548.49,227.02 548.60,227.16 548.90,226.86 549.10,226.92 549.34,226.61 549.60,226.47 549.79,226.44 550.10,226.42 550.26,226.47 550.60,226.30 550.74,226.13 551.10,226.13 551.24,225.94 551.60,225.96 551.75,225.88 552.10,225.77 552.27,225.72 552.60,225.76 552.80,225.59 553.10,225.69 553.33,225.47 553.60,225.57 553.87,225.26 554.10,225.18 554.41,225.25 554.60,225.14 554.95,224.98 555.10,225.06 555.49,224.97 555.60,224.79 556.02,224.67 556.10,224.79 556.56,224.47 556.60,224.55 557.08,224.37 557.10,224.51 557.60,224.17 558.09,224.04 558.10,223.88 558.60,223.81 558.60,223.77 559.10,223.72 559.11,223.72 559.60,223.44 559.62,223.28 560.10,223.23 560.15,223.16 560.60,223.02 560.67,222.97 561.10,222.93 561.20,222.81 561.60,222.64 561.73,222.68 562.10,222.48 562.26,222.27 562.60,222.18 562.79,222.15 563.10,221.97 563.31,222.05 563.60,221.90 563.83,221.83 564.10,221.62 564.34,221.52 564.60,221.23 564.84,221.12 565.10,221.17 565.33,221.07 565.60,220.80 565.82,220.89 566.10,220.69 566.28,220.48 566.60,220.45 566.74,220.36 567.10,220.17 567.18,219.99 567.60,219.68 568.10,219.38 568.22,219.21 568.60,219.05 568.82,219.05 569.10,218.61 569.40,218.36 569.60,218.29 569.96,217.99 570.10,218.04 570.50,217.44 570.60,217.48 571.01,217.02 571.10,216.95 571.51,216.70 571.60,216.66 571.99,216.08 572.10,216.02 572.44,215.68 572.60,215.40 572.88,215.19 573.10,214.84 573.31,214.59 573.60,214.27 573.71,214.24 574.10,213.64 574.60,213.16 574.86,212.60 575.10,212.27 575.51,211.63 575.60,211.41 576.08,210.60 576.10,210.52 576.59,209.47 576.60,209.68 577.05,208.46 577.10,208.38 577.50,207.12 577.60,206.81 578.10,204.90 578.12,204.87 578.60,202.35 578.64,202.13 579.09,199.65 579.10,199.60 579.50,197.52 579.60,197.33 580.10,195.20 580.17,194.91 580.60,193.77 580.70,193.39 581.10,192.32 581.11,192.29 581.50,191.88 581.60,191.99 581.95,192.31 582.10,192.59 582.50,193.31 582.60,193.34 582.93,193.88 583.10,193.95 583.42,194.48 583.60,194.66 584.10,195.61 584.55,196.32 584.60,196.41 585.08,197.61 585.10,197.78 585.60,198.67 585.65,198.96 586.10,199.96 586.24,200.33 586.60,201.23 586.84,201.75 587.10,202.31 587.40,202.81 587.60,203.39 587.94,204.15 588.10,204.29 588.47,205.04 588.60,205.33 589.00,206.15 589.10,206.49 589.53,207.42 589.60,207.55 590.06,208.37 590.10,208.27 590.60,209.12 591.10,210.03 591.14,210.20 591.60,210.83 591.68,211.11 592.10,211.64 592.23,211.85 592.60,212.41 592.78,212.55 593.10,213.10 593.34,213.48 593.60,213.86 593.90,213.97 594.10,214.29 594.42,214.78 594.60,214.84 594.99,215.17 595.10,215.37 595.57,215.76 595.60,215.78 596.10,216.16 596.13,216.25 596.60,216.65 596.65,216.71 597.08,217.22 597.10,217.01 597.40,217.48"/>
<text x="524.60" y="184.40" font-size="8">+PSPC1<tspan font-size="5.2" dx="0.6" dy="2.8">FL</tspan></text>
<text x="561.30" y="242.20" font-size="8"><tspan font-style="italic">P</tspan> = 0.068</text>
<line x1="442.10" y1="250.50" x2="442.10" y2="325.20" stroke="#c9c9c9" stroke-width="0.9"/>
<line x1="479.60" y1="250.50" x2="479.60" y2="325.20" stroke="#c9c9c9" stroke-width="0.9"/>
<rect x="423.50" y="250.50" width="74.90" height="74.70" fill="none" stroke="#a3a3a3" stroke-width="0.8"/>
<line x1="423.50" y1="250.50" x2="423.50" y2="325.20" stroke="#858585" stroke-width="0.8"/>
<line x1="423.50" y1="325.20" x2="498.40" y2="325.20" stroke="#858585" stroke-width="0.8"/>
<line x1="420.00" y1="325.20" x2="423.50" y2="325.20" stroke="#9a9a9a" stroke-width="0.8"/>
<text x="416.70" y="328.10" font-size="8" text-anchor="end">0</text>
<line x1="420.00" y1="291.90" x2="423.50" y2="291.90" stroke="#9a9a9a" stroke-width="0.8"/>
<text x="416.70" y="294.80" font-size="8" text-anchor="end">0.5</text>
<line x1="420.00" y1="258.60" x2="423.50" y2="258.60" stroke="#9a9a9a" stroke-width="0.8"/>
<text x="416.70" y="261.50" font-size="8" text-anchor="end">1.0</text>
<polyline fill="none" stroke="#231f20" stroke-width="1.2" stroke-linejoin="round" points="423.50,308.51 423.78,308.61 424.00,308.39 424.12,308.62 424.50,308.45 424.51,308.60 424.95,308.48 425.00,308.66 425.44,308.48 425.50,308.64 425.95,308.52 426.00,308.71 426.50,308.75 426.50,308.75 427.00,308.61 427.06,308.62 427.50,308.75 427.65,308.60 428.00,308.64 428.24,308.81 428.50,308.78 428.85,308.70 429.00,308.87 429.44,308.88 429.50,308.72 430.00,308.98 430.04,309.01 430.50,308.83 430.62,309.03 431.00,309.01 431.18,308.85 431.50,308.89 431.72,308.98 432.00,308.96 432.22,309.17 432.50,309.12 432.69,309.21 433.00,309.13 433.12,309.20 433.50,309.34 434.00,309.34 434.30,309.30 434.50,309.43 434.97,309.54 435.00,309.43 435.50,309.74 435.53,309.71 436.00,309.77 436.42,310.07 436.50,310.15 436.81,310.09 437.00,310.23 437.19,310.32 437.50,310.32 437.60,310.56 438.00,310.73 438.27,310.64 438.50,310.78 438.89,310.79 439.00,310.81 439.46,310.99 439.50,310.95 439.97,311.18 440.00,311.23 440.40,311.58 440.50,311.82 441.00,312.67 441.09,312.83 441.50,314.30 441.83,315.13 442.00,315.34 442.10,315.47 442.38,314.58 442.50,314.30 442.70,313.49 442.93,312.92 443.00,312.77 443.50,312.47 443.70,312.11 444.00,311.99 444.05,311.88 444.44,311.46 444.50,311.48 444.87,311.09 445.00,310.94 445.36,310.73 445.50,310.48 445.89,310.14 446.00,310.26 446.48,309.81 446.50,309.86 447.00,309.50 447.13,309.30 447.50,309.05 447.83,308.95 448.00,308.84 448.50,308.49 448.60,308.52 448.99,308.19 449.00,308.17 449.40,308.20 449.50,308.22 449.84,308.01 450.00,307.97 450.29,307.67 450.50,307.80 450.76,307.68 451.00,307.46 451.24,307.33 451.50,307.40 451.74,307.23 452.00,307.20 452.25,307.08 452.50,306.97 452.77,307.05 453.00,306.83 453.30,306.68 453.50,306.74 453.83,306.55 454.00,306.64 454.37,306.48 454.50,306.43 454.91,306.36 455.00,306.35 455.45,306.09 455.50,306.22 455.99,305.98 456.00,306.02 456.50,305.90 456.52,305.84 457.00,305.53 457.06,305.66 457.50,305.35 457.58,305.44 458.00,305.38 458.10,305.29 458.50,305.03 458.59,305.02 459.00,304.77 459.09,304.94 459.50,304.58 459.60,304.68 460.00,304.47 460.11,304.59 460.50,304.32 460.63,304.19 461.00,304.20 461.15,304.09 461.50,304.05 461.68,303.88 462.00,303.77 462.20,303.64 462.50,303.53 462.73,303.58 463.00,303.52 463.25,303.26 463.50,303.15 463.77,303.27 464.00,303.04 464.29,303.06 464.50,302.81 464.80,302.87 465.00,302.74 465.30,302.43 465.50,302.48 465.79,302.33 466.00,302.27 466.28,301.99 466.50,302.03 466.75,301.79 467.00,301.72 467.21,301.59 467.50,301.51 467.67,301.24 468.00,301.20 468.10,301.11 468.50,300.93 468.70,300.65 469.00,300.48 469.30,300.30 469.50,300.28 469.88,299.84 470.00,299.89 470.45,299.46 470.50,299.31 471.00,298.94 471.00,299.00 471.50,298.53 471.54,298.46 472.00,298.22 472.06,298.18 472.50,297.70 472.57,297.57 473.00,297.09 473.06,297.18 473.50,296.69 473.53,296.56 473.98,296.11 474.00,295.99 474.40,295.48 474.50,295.42 474.81,295.09 475.00,294.88 475.20,294.53 475.50,294.02 476.00,293.26 476.00,293.22 476.50,292.24 476.66,291.87 477.00,291.15 477.22,290.53 477.50,289.68 477.71,288.96 478.00,287.88 478.16,287.30 478.50,286.15 478.60,285.69 479.00,283.52 479.22,282.67 479.50,280.77 479.74,279.05 480.00,277.08 480.19,275.49 480.50,273.51 480.60,272.83 481.00,270.50 481.27,268.95 481.50,267.83 481.80,266.41 482.00,265.82 482.21,265.21 482.50,264.98 482.60,265.16 483.00,265.54 483.05,265.46 483.50,266.28 483.60,266.51 484.00,266.90 484.03,267.01 484.50,267.76 484.52,267.78 485.00,268.97 485.20,269.46 485.50,270.14 485.65,270.60 486.00,271.38 486.18,271.83 486.50,272.75 486.75,273.57 487.00,274.22 487.34,275.19 487.50,275.73 487.94,276.87 488.00,277.06 488.50,278.41 489.00,279.55 489.04,279.65 489.50,280.97 489.57,280.92 490.00,282.19 490.10,282.44 490.50,283.34 490.63,283.73 491.00,284.39 491.16,284.84 491.50,285.65 491.70,286.04 492.00,286.56 492.24,287.05 492.50,287.57 492.79,288.06 493.00,288.55 493.34,289.15 493.50,289.49 493.89,290.18 494.00,290.41 494.44,291.07 494.50,291.04 495.00,291.86 495.50,292.48 495.60,292.62 496.00,293.16 496.25,293.39 496.50,293.88 496.91,294.33 497.00,294.38 497.50,294.84 497.51,295.02 498.00,295.44 498.03,295.46 498.40,295.90"/>
<polyline fill="none" stroke="#e8252b" stroke-width="1.2" stroke-linejoin="round" points="423.50,311.49 423.78,311.47 424.00,311.38 424.12,311.51 424.50,311.44 424.51,311.48 424.95,311.56 425.00,311.41 425.44,311.65 425.50,311.48 425.95,311.68 426.00,311.68 426.50,311.60 426.50,311.55 427.00,311.55 427.06,311.59 427.50,311.65 427.65,311.57 428.00,311.66 428.24,311.66 428.50,311.61 428.85,311.79 429.00,311.77 429.44,311.72 429.50,311.77 430.00,311.69 430.04,311.72 430.50,311.73 430.62,311.89 431.00,311.77 431.18,311.97 431.50,311.98 431.72,311.91 432.00,312.09 432.22,312.01 432.50,312.01 432.69,311.98 433.00,311.99 433.12,312.02 433.50,312.18 434.00,312.36 434.30,312.27 434.50,312.41 434.97,312.33 435.00,312.41 435.50,312.60 435.53,312.71 436.00,312.76 436.42,312.82 436.50,312.84 436.81,312.97 437.00,313.20 437.19,313.37 437.50,313.24 437.60,313.28 438.00,313.50 438.27,313.62 438.50,313.75 438.89,313.72 439.00,313.74 439.46,314.08 439.50,314.12 439.97,314.14 440.00,314.26 440.40,314.57 440.50,314.76 441.00,315.31 441.09,315.63 441.50,316.51 441.83,317.21 442.00,317.43 442.10,317.37 442.38,316.63 442.50,316.26 442.70,315.56 442.93,314.75 443.00,314.72 443.50,314.39 443.70,314.03 444.00,313.96 444.05,314.01 444.44,313.84 444.50,313.67 444.87,313.57 445.00,313.49 445.36,313.54 445.50,313.35 445.89,313.23 446.00,313.16 446.48,313.20 446.50,313.05 447.00,312.89 447.13,312.85 447.50,312.82 447.83,312.85 448.00,312.80 448.50,312.44 448.60,312.61 448.99,312.34 449.00,312.49 449.40,312.35 449.50,312.37 449.84,312.23 450.00,312.18 450.29,312.10 450.50,312.12 450.76,312.23 451.00,312.04 451.24,311.95 451.50,312.00 451.74,311.99 452.00,312.00 452.25,311.76 452.50,311.97 452.77,311.81 453.00,311.83 453.30,311.59 453.50,311.63 453.83,311.69 454.00,311.53 454.37,311.64 454.50,311.59 454.91,311.42 455.00,311.38 455.45,311.28 455.50,311.36 455.99,311.16 456.00,311.24 456.50,311.30 456.52,311.09 457.00,311.05 457.06,310.96 457.50,310.98 457.58,311.02 458.00,310.98 458.10,310.88 458.50,310.89 458.59,310.80 459.00,310.69 459.09,310.60 459.50,310.67 459.60,310.53 460.00,310.56 460.11,310.37 460.50,310.51 460.63,310.31 461.00,310.36 461.15,310.15 461.50,310.26 461.68,310.29 462.00,310.04 462.20,310.09 462.50,309.91 462.73,310.09 463.00,309.94 463.25,309.83 463.50,309.68 463.77,309.76 464.00,309.76 464.29,309.69 464.50,309.51 464.80,309.44 465.00,309.37 465.30,309.40 465.50,309.45 465.79,309.17 466.00,309.20 466.28,309.04 466.50,309.19 466.75,309.05 467.00,308.91 467.21,308.85 467.50,308.68 467.67,308.68 468.00,308.46 468.10,308.60 468.50,308.35 468.70,308.38 469.00,308.13 469.30,307.95 469.50,308.07 469.88,307.84 470.00,307.78 470.45,307.44 470.50,307.51 471.00,307.34 471.00,307.19 471.50,306.95 471.54,306.83 472.00,306.59 472.06,306.76 472.50,306.50 472.57,306.38 473.00,306.16 473.06,305.98 473.50,305.76 473.53,305.66 473.98,305.31 474.00,305.33 474.40,305.21 474.50,305.16 474.81,304.82 475.00,304.74 475.20,304.69 475.50,304.31 476.00,303.83 476.00,303.83 476.50,303.35 476.66,303.26 477.00,303.06 477.22,302.85 477.50,302.47 477.71,301.97 478.00,301.69 478.16,301.53 478.50,300.82 478.60,300.71 479.00,299.83 479.22,299.22 479.50,298.48 479.74,297.56 480.00,296.91 480.19,296.27 480.50,295.26 480.60,294.83 481.00,294.29 481.27,293.72 481.50,293.44 481.80,292.78 482.00,292.53 482.21,292.14 482.50,291.77 482.60,291.48 483.00,292.07 483.05,292.23 483.50,292.86 483.60,292.80 484.00,292.93 484.03,292.95 484.50,293.13 484.52,293.14 485.00,293.49 485.20,293.64 485.50,294.01 485.65,294.14 486.00,294.49 486.18,294.68 486.50,295.32 486.75,295.52 487.00,295.91 487.34,296.43 487.50,296.53 487.94,297.19 488.00,297.35 488.50,297.90 489.00,298.55 489.04,298.47 489.50,299.12 489.57,299.18 490.00,299.78 490.10,299.72 490.50,300.18 490.63,300.37 491.00,300.71 491.16,301.06 491.50,301.35 491.70,301.45 492.00,301.87 492.24,302.02 492.50,302.34 492.79,302.52 493.00,302.82 493.34,303.10 493.50,303.15 493.89,303.66 494.00,303.75 494.44,303.88 494.50,304.00 495.00,304.35 495.50,304.77 495.60,304.86 496.00,305.10 496.25,305.02 496.50,305.30 496.91,305.50 497.00,305.54 497.50,305.89 497.51,305.77 498.00,306.04 498.03,306.06 498.40,306.19"/>
<text x="425.50" y="265.30" font-size="8">+PSPC1<tspan font-size="5.2" dx="0.6" dy="2.8">RRMmut</tspan></text>
<text x="439.60" y="324.00" font-size="8"><tspan font-style="italic">P</tspan> = 5.74 × 10<tspan font-size="5" dy="-3.2">−13</tspan></text>
<line x1="423.50" y1="325.20" x2="423.50" y2="327.40" stroke="#858585" stroke-width="0.8"/>
<line x1="442.10" y1="325.20" x2="442.10" y2="327.40" stroke="#858585" stroke-width="0.8"/>
<line x1="479.60" y1="325.20" x2="479.60" y2="327.40" stroke="#858585" stroke-width="0.8"/>
<line x1="498.40" y1="325.20" x2="498.40" y2="327.40" stroke="#858585" stroke-width="0.8"/>
<text x="0" y="0" font-size="8" text-anchor="end" transform="translate(427.50,334.80) rotate(-45)">−2 kb</text>
<text x="442.10" y="339.50" font-size="8" text-anchor="middle">TSS</text>
<text x="479.60" y="339.50" font-size="8" text-anchor="middle">TES</text>
<text x="0" y="0" font-size="8" text-anchor="end" transform="translate(502.80,334.80) rotate(-45)">+2 kb</text>
<line x1="541.00" y1="251.00" x2="541.00" y2="325.40" stroke="#c9c9c9" stroke-width="0.9"/>
<line x1="578.40" y1="251.00" x2="578.40" y2="325.40" stroke="#c9c9c9" stroke-width="0.9"/>
<rect x="522.60" y="251.00" width="74.80" height="74.40" fill="none" stroke="#a3a3a3" stroke-width="0.8"/>
<line x1="522.60" y1="251.00" x2="522.60" y2="325.40" stroke="#858585" stroke-width="0.8"/>
<line x1="522.60" y1="325.40" x2="597.40" y2="325.40" stroke="#858585" stroke-width="0.8"/>
<line x1="519.10" y1="325.40" x2="522.60" y2="325.40" stroke="#9a9a9a" stroke-width="0.8"/>
<text x="515.80" y="328.30" font-size="8" text-anchor="end">0</text>
<line x1="519.10" y1="292.10" x2="522.60" y2="292.10" stroke="#9a9a9a" stroke-width="0.8"/>
<text x="515.80" y="295.00" font-size="8" text-anchor="end">0.5</text>
<line x1="519.10" y1="258.80" x2="522.60" y2="258.80" stroke="#9a9a9a" stroke-width="0.8"/>
<text x="515.80" y="261.70" font-size="8" text-anchor="end">1.0</text>
<polyline fill="none" stroke="#231f20" stroke-width="1.2" stroke-linejoin="round" points="522.60,307.51 522.88,307.39 523.10,307.39 523.22,307.45 523.60,307.42 523.62,307.43 524.06,307.48 524.10,307.40 524.54,307.64 524.60,307.48 525.06,307.53 525.10,307.67 525.60,307.66 525.60,307.53 526.10,307.73 526.17,307.70 526.60,307.55 526.76,307.64 527.10,307.63 527.36,307.64 527.60,307.67 527.96,307.63 528.10,307.66 528.56,307.83 528.60,307.74 529.10,307.76 529.15,307.89 529.60,307.77 529.73,307.91 530.10,307.86 530.29,307.90 530.60,307.94 530.83,308.04 531.10,307.91 531.34,307.95 531.60,308.10 531.80,308.10 532.10,307.99 532.23,308.05 532.60,308.16 533.10,308.30 533.49,308.37 533.60,308.45 534.10,308.43 534.19,308.39 534.60,308.64 534.76,308.80 535.10,308.81 535.23,308.83 535.60,309.02 535.64,309.10 536.05,309.14 536.10,309.36 536.50,309.38 536.60,309.35 537.10,309.55 537.16,309.54 537.60,309.86 537.78,309.82 538.10,309.81 538.36,309.92 538.60,309.95 538.87,310.15 539.10,310.47 539.30,310.55 539.60,310.97 539.99,311.60 540.10,311.92 540.40,312.73 540.60,313.20 540.73,313.40 541.00,313.74 541.10,313.39 541.27,312.62 541.60,311.72 541.83,311.15 542.10,310.82 542.60,310.38 542.95,309.95 543.10,309.93 543.34,309.61 543.60,309.47 543.77,309.09 544.10,308.92 544.26,308.79 544.60,308.32 544.79,308.36 545.10,307.96 545.38,307.65 545.60,307.51 546.03,307.22 546.10,307.36 546.60,307.00 546.73,306.84 547.10,306.55 547.50,306.40 547.60,306.37 547.89,306.20 548.10,306.15 548.30,305.95 548.60,305.78 548.74,305.87 549.10,305.60 549.19,305.68 549.60,305.39 549.66,305.53 550.10,305.23 550.14,305.43 550.60,305.03 550.64,305.15 551.10,304.93 551.15,304.88 551.60,304.66 551.67,304.64 552.10,304.59 552.20,304.64 552.60,304.39 552.73,304.52 553.10,304.38 553.27,304.10 553.60,304.17 553.81,304.06 554.10,303.89 554.35,303.91 554.60,303.83 554.89,303.76 555.10,303.51 555.42,303.55 555.60,303.33 555.96,303.30 556.10,303.14 556.48,303.08 556.60,302.99 557.00,302.83 557.10,302.98 557.49,302.78 557.60,302.55 557.99,302.42 558.10,302.46 558.50,302.43 558.60,302.34 559.01,302.04 559.10,302.09 559.53,301.98 559.60,301.83 560.04,301.87 560.10,301.73 560.57,301.62 560.60,301.58 561.09,301.39 561.10,301.34 561.60,301.10 561.61,301.18 562.10,301.14 562.13,301.12 562.60,300.87 562.65,300.88 563.10,300.67 563.16,300.52 563.60,300.35 563.67,300.37 564.10,300.20 564.17,300.12 564.60,299.97 564.67,299.89 565.10,299.72 565.16,299.79 565.60,299.58 565.64,299.58 566.10,299.18 566.10,299.32 566.56,298.94 566.60,298.97 567.00,298.66 567.10,298.68 567.60,298.48 567.62,298.51 568.10,298.15 568.23,298.10 568.60,297.65 568.83,297.64 569.10,297.49 569.42,297.27 569.60,296.94 570.00,296.83 570.10,296.57 570.56,296.22 570.60,296.31 571.10,295.77 571.11,295.79 571.60,295.51 571.64,295.35 572.10,295.04 572.16,295.05 572.60,294.62 572.65,294.40 573.10,293.93 573.13,293.85 573.58,293.47 573.60,293.40 574.00,292.73 574.10,292.72 574.40,292.21 574.60,291.99 575.10,290.99 575.21,290.90 575.60,290.05 575.88,289.49 576.10,288.87 576.44,288.06 576.60,287.34 576.92,286.29 577.10,285.56 577.36,284.65 577.60,283.48 577.80,282.52 578.10,280.98 578.42,279.15 578.60,277.78 578.94,275.30 579.10,274.01 579.39,271.50 579.60,269.87 579.80,268.37 580.10,266.59 580.48,264.07 580.60,263.35 581.00,261.32 581.10,261.02 581.41,260.07 581.60,259.95 581.80,259.99 582.10,260.32 582.25,260.27 582.60,261.00 582.80,261.21 583.10,261.79 583.23,262.03 583.60,263.00 583.72,263.09 584.10,264.16 584.40,264.86 584.60,265.51 584.85,266.29 585.10,267.03 585.38,268.04 585.60,268.71 585.95,269.72 586.10,270.23 586.54,271.69 586.60,271.91 587.10,273.40 587.14,273.61 587.60,274.87 587.70,275.29 588.10,276.34 588.24,276.70 588.60,277.92 588.77,278.33 589.10,279.39 589.30,279.82 589.60,280.71 589.83,281.39 590.10,282.07 590.36,282.75 590.60,283.38 590.90,284.10 591.10,284.56 591.45,285.41 591.60,285.64 592.00,286.62 592.10,286.85 592.55,287.84 592.60,287.83 593.10,288.73 593.10,288.91 593.60,289.85 593.65,289.73 594.10,290.61 594.20,290.76 594.60,291.47 594.78,291.80 595.10,292.27 595.39,292.59 595.60,292.85 596.01,293.64 596.10,293.81 596.57,294.42 596.60,294.47 597.05,294.97 597.10,294.89 597.40,295.32"/>
<polyline fill="none" stroke="#e8252b" stroke-width="1.2" stroke-linejoin="round" points="522.60,310.33 522.88,310.40 523.10,310.30 523.22,310.20 523.60,310.29 523.62,310.44 524.06,310.31 524.10,310.34 524.54,310.36 524.60,310.31 525.06,310.39 525.10,310.52 525.60,310.44 525.60,310.39 526.10,310.45 526.17,310.45 526.60,310.44 526.76,310.44 527.10,310.47 527.36,310.50 527.60,310.61 527.96,310.53 528.10,310.67 528.56,310.67 528.60,310.54 529.10,310.73 529.15,310.62 529.60,310.64 529.73,310.72 530.10,310.73 530.29,310.67 530.60,310.83 530.83,310.74 531.10,310.89 531.34,310.86 531.60,311.02 531.80,310.87 532.10,310.85 532.23,310.83 532.60,311.08 533.10,311.14 533.49,311.06 533.60,311.30 534.10,311.32 534.19,311.31 534.60,311.58 534.76,311.42 535.10,311.80 535.23,311.78 535.60,311.99 535.64,311.82 536.05,312.22 536.10,312.07 536.50,312.40 536.60,312.20 537.10,312.39 537.16,312.57 537.60,312.55 537.78,312.68 538.10,312.87 538.36,312.89 538.60,313.07 538.87,312.94 539.10,313.32 539.30,313.42 539.60,313.77 539.99,314.29 540.10,314.74 540.40,315.32 540.60,315.74 540.73,316.07 541.00,316.20 541.10,315.72 541.27,315.22 541.60,314.06 541.83,313.48 542.10,313.28 542.60,312.85 542.95,312.64 543.10,312.51 543.34,312.32 543.60,312.31 543.77,312.08 544.10,311.91 544.26,312.03 544.60,311.74 544.79,311.76 545.10,311.49 545.38,311.58 545.60,311.49 546.03,311.20 546.10,311.23 546.60,311.06 546.73,311.04 547.10,310.90 547.50,310.86 547.60,310.78 547.89,310.52 548.10,310.54 548.30,310.59 548.60,310.39 548.74,310.35 549.10,310.26 549.19,310.20 549.60,310.26 549.66,310.10 550.10,309.99 550.14,310.00 550.60,309.80 550.64,309.84 551.10,309.81 551.15,309.83 551.60,309.48 551.67,309.55 552.10,309.51 552.20,309.51 552.60,309.45 552.73,309.21 553.10,309.06 553.27,309.03 553.60,308.93 553.81,308.91 554.10,308.80 554.35,308.97 554.60,308.79 554.89,308.78 555.10,308.73 555.42,308.67 555.60,308.59 555.96,308.41 556.10,308.38 556.48,308.36 556.60,308.09 557.00,308.08 557.10,308.00 557.49,307.83 557.60,307.94 557.99,307.71 558.10,307.78 558.50,307.56 558.60,307.49 559.02,307.61 559.10,307.56 559.54,307.22 559.60,307.39 560.06,307.17 560.10,307.06 560.59,306.97 560.60,307.05 561.10,306.86 561.11,306.83 561.60,306.70 561.64,306.59 562.10,306.55 562.16,306.64 562.60,306.51 562.68,306.36 563.10,306.12 563.20,306.17 563.60,305.96 563.71,306.12 564.10,306.00 564.21,305.97 564.60,305.72 564.71,305.78 565.10,305.58 565.19,305.52 565.60,305.41 565.66,305.26 566.10,305.10 566.12,305.13 566.57,305.02 566.60,304.89 567.00,304.67 567.10,304.66 567.60,304.38 567.64,304.49 568.10,304.13 568.27,304.14 568.60,303.85 568.88,303.72 569.10,303.71 569.47,303.41 569.60,303.44 570.04,303.08 570.10,303.03 570.59,302.68 570.60,302.71 571.10,302.50 571.13,302.26 571.60,302.09 571.64,301.92 572.10,301.65 572.14,301.49 572.60,301.18 572.61,301.22 573.06,300.81 573.10,300.93 573.49,300.60 573.60,300.28 573.90,300.03 574.10,299.80 574.60,299.42 574.68,299.30 575.10,298.91 575.34,298.55 575.60,298.16 575.91,297.57 576.10,297.34 576.40,296.89 576.60,296.39 576.86,295.88 577.10,295.45 577.30,294.86 577.60,293.93 577.92,293.08 578.10,292.37 578.44,291.04 578.60,290.31 578.89,288.99 579.10,288.06 579.30,287.43 579.60,286.60 579.98,285.30 580.10,285.26 580.50,284.34 580.60,284.08 580.91,283.28 581.10,283.04 581.30,282.92 581.60,283.29 581.75,283.45 582.10,283.97 582.30,284.21 582.60,284.54 582.73,284.56 583.10,284.73 583.22,284.98 583.60,285.34 583.90,285.93 584.10,286.24 584.35,286.55 584.60,287.09 584.88,287.56 585.10,287.96 585.45,288.47 585.60,288.98 586.04,289.67 586.10,289.94 586.60,290.74 586.64,290.79 587.10,291.68 587.20,291.90 587.60,292.40 587.74,292.86 588.10,293.24 588.27,293.72 588.60,294.07 588.80,294.62 589.10,295.05 589.33,295.31 589.60,295.89 589.86,296.31 590.10,296.45 590.40,297.04 590.60,297.31 590.94,297.78 591.10,298.01 591.48,298.48 591.60,298.68 592.02,299.20 592.10,299.16 592.57,299.83 592.60,299.68 593.10,300.44 593.13,300.41 593.60,300.87 593.70,300.88 594.10,301.17 594.24,301.49 594.60,301.60 594.84,301.86 595.10,302.14 595.45,302.32 595.60,302.53 596.05,302.82 596.10,302.76 596.60,303.02 596.60,303.11 597.06,303.33 597.10,303.47 597.40,303.53"/>
<text x="524.60" y="265.80" font-size="8">+PSPC1<tspan font-size="5.2" dx="0.6" dy="2.8">ΔLCS2</tspan></text>
<text x="539.60" y="324.00" font-size="8"><tspan font-style="italic">P</tspan> = 6.95 × 10<tspan font-size="5" dy="-3.2">−10</tspan></text>
<line x1="522.60" y1="325.40" x2="522.60" y2="327.60" stroke="#858585" stroke-width="0.8"/>
<line x1="541.00" y1="325.40" x2="541.00" y2="327.60" stroke="#858585" stroke-width="0.8"/>
<line x1="578.40" y1="325.40" x2="578.40" y2="327.60" stroke="#858585" stroke-width="0.8"/>
<line x1="597.40" y1="325.40" x2="597.40" y2="327.60" stroke="#858585" stroke-width="0.8"/>
<text x="0" y="0" font-size="8" text-anchor="end" transform="translate(526.60,335.00) rotate(-45)">−2 kb</text>
<text x="541.00" y="339.70" font-size="8" text-anchor="middle">TSS</text>
<text x="578.40" y="339.70" font-size="8" text-anchor="middle">TES</text>
<text x="0" y="0" font-size="8" text-anchor="end" transform="translate(601.80,335.00) rotate(-45)">+2 kb</text>
<line x1="607.10" y1="176.40" x2="619.30" y2="176.40" stroke="#231f20" stroke-width="1.2"/>
<text x="623.80" y="179.50" font-size="8">No IAA</text>
<line x1="607.10" y1="193.10" x2="619.30" y2="193.10" stroke="#e8252b" stroke-width="1.2"/>
<text x="623.60" y="196.00" font-size="8">+IAA 3 h</text>
<text x="0.00" y="370.60" font-size="10" font-weight="bold">f</text>
<line x1="71.70" y1="403.30" x2="71.70" y2="487.60" stroke="#c9c9c9" stroke-width="0.9"/>
<line x1="128.50" y1="403.30" x2="128.50" y2="487.60" stroke="#c9c9c9" stroke-width="0.9"/>
<rect x="53.30" y="403.30" width="94.50" height="84.30" fill="none" stroke="#a3a3a3" stroke-width="0.8"/>
<line x1="53.30" y1="403.30" x2="53.30" y2="487.60" stroke="#858585" stroke-width="0.8"/>
<line x1="53.30" y1="487.60" x2="147.80" y2="487.60" stroke="#858585" stroke-width="0.8"/>
<line x1="49.80" y1="487.60" x2="53.30" y2="487.60" stroke="#9a9a9a" stroke-width="0.8"/>
<text x="46.80" y="490.50" font-size="8" text-anchor="end">0</text>
<line x1="49.80" y1="445.45" x2="53.30" y2="445.45" stroke="#9a9a9a" stroke-width="0.8"/>
<text x="46.80" y="448.35" font-size="8" text-anchor="end">0.10</text>
<line x1="49.80" y1="403.30" x2="53.30" y2="403.30" stroke="#9a9a9a" stroke-width="0.8"/>
<text x="46.80" y="406.20" font-size="8" text-anchor="end">0.20</text>
<line x1="53.30" y1="487.60" x2="53.30" y2="489.80" stroke="#858585" stroke-width="0.8"/>
<line x1="71.70" y1="487.60" x2="71.70" y2="489.80" stroke="#858585" stroke-width="0.8"/>
<line x1="128.50" y1="487.60" x2="128.50" y2="489.80" stroke="#858585" stroke-width="0.8"/>
<line x1="147.80" y1="487.60" x2="147.80" y2="489.80" stroke="#858585" stroke-width="0.8"/>
<text x="101.30" y="400.00" font-size="8" text-anchor="middle" textLength="27.3" lengthAdjust="spacingAndGlyphs">TT−seq</text>
<text x="57.90" y="412.40" font-size="8"><tspan font-style="italic">P</tspan> &lt; 1.32 × 10<tspan font-size="5" dy="-3.2">−11</tspan></text>
<text x="0" y="0" font-size="8" text-anchor="middle" textLength="73.6" lengthAdjust="spacingAndGlyphs" transform="translate(16.20,446.00) rotate(-90)">Relative read density</text>
<text x="0" y="0" font-size="8" text-anchor="middle" textLength="72.4" lengthAdjust="spacingAndGlyphs" transform="translate(25.80,446.50) rotate(-90)">normalized to RN45S</text>
<polyline fill="none" stroke="#231f20" stroke-width="1.2" stroke-linejoin="round" points="53.30,456.09 53.75,456.28 54.20,455.94 54.65,457.32 55.10,457.66 55.55,457.91 56.00,459.18 56.45,458.40 56.90,458.05 57.35,457.61 57.80,458.99 58.25,458.46 58.70,458.81 59.15,457.20 59.60,457.35 60.00,458.64 60.05,456.68 60.50,456.90 60.95,457.75 61.40,458.02 61.85,459.18 62.30,459.67 62.75,458.77 63.20,459.95 63.65,459.86 64.00,459.90 64.10,460.25 64.55,458.91 65.00,458.52 65.45,457.24 65.90,457.49 66.35,456.80 66.80,456.66 67.25,455.89 67.50,456.08 67.70,456.83 68.15,456.17 68.60,457.03 69.05,458.21 69.50,459.34 69.95,461.96 70.40,463.92 70.85,465.58 71.20,467.43 71.30,467.17 71.75,473.36 71.90,474.22 72.20,470.60 72.65,462.49 73.00,457.36 73.10,457.34 73.55,448.79 74.00,439.20 74.45,432.02 74.50,430.04 74.90,429.88 75.35,428.99 75.80,426.25 76.25,424.37 76.70,423.88 77.00,423.22 77.15,422.51 77.60,420.61 78.05,420.48 78.50,421.25 78.95,420.41 79.40,420.15 79.85,419.66 80.30,417.54 80.75,418.27 81.00,417.15 81.20,417.33 81.65,417.73 82.10,416.45 82.55,417.57 83.00,416.35 83.45,417.32 83.90,416.54 84.35,416.84 84.80,416.58 85.25,414.96 85.70,415.18 86.15,416.09 86.60,414.73 87.05,416.01 87.50,415.48 87.95,414.37 88.00,414.80 88.40,415.90 88.85,413.97 89.30,415.55 89.75,415.40 90.20,414.26 90.65,415.14 91.10,415.16 91.55,415.57 92.00,415.48 92.45,414.39 92.90,415.05 93.35,414.24 93.80,414.67 94.25,414.45 94.70,413.33 95.00,414.29 95.15,414.15 95.60,413.66 96.05,415.24 96.50,415.43 96.95,413.97 97.40,414.30 97.85,415.63 98.30,415.89 98.75,414.86 99.20,414.57 99.65,416.27 100.10,414.82 100.55,415.09 101.00,415.81 101.45,416.33 101.90,417.13 102.35,417.40 102.80,415.59 103.25,417.24 103.70,416.39 104.15,417.47 104.60,416.41 105.00,417.01 105.05,417.65 105.50,417.91 105.95,416.79 106.40,418.18 106.85,417.86 107.30,417.18 107.75,416.58 108.20,417.10 108.65,417.83 109.10,416.50 109.55,418.03 110.00,418.44 110.45,417.93 110.90,417.57 111.35,418.40 111.80,418.18 112.25,417.79 112.70,417.38 113.15,418.33 113.60,417.86 114.05,416.77 114.50,416.60 114.95,417.30 115.00,417.23 115.40,417.35 115.85,418.17 116.30,418.28 116.75,418.20 117.20,416.21 117.65,416.54 118.10,415.87 118.55,417.74 119.00,416.33 119.45,416.54 119.90,415.91 120.00,416.75 120.35,415.63 120.80,417.99 121.25,417.41 121.70,417.42 122.15,417.49 122.60,418.24 123.05,418.72 123.50,418.94 123.95,419.10 124.40,420.70 124.85,420.41 125.30,420.36 125.75,420.84 126.00,422.02 126.20,421.39 126.65,421.58 127.10,422.54 127.55,422.77 128.00,423.63 128.20,423.36 128.45,426.20 128.90,432.53 129.35,436.57 129.40,436.40 129.80,436.90 130.25,437.51 130.70,438.52 131.15,438.08 131.60,438.70 132.00,439.25 132.05,438.44 132.50,440.22 132.95,439.00 133.40,440.71 133.85,439.69 134.30,440.14 134.75,440.86 135.20,440.06 135.65,440.67 136.10,440.61 136.55,440.16 137.00,441.75 137.45,442.45 137.90,442.03 138.35,441.43 138.80,442.62 139.25,442.88 139.70,441.52 140.00,442.16 140.15,442.67 140.60,441.87 141.05,443.20 141.50,442.64 141.95,443.77 142.40,443.42 142.85,442.78 143.30,442.70 143.75,442.91 144.20,444.10 144.65,443.83 145.10,444.54 145.55,445.07 146.00,444.45 146.45,443.88 146.90,444.00 147.35,444.44 147.80,444.08"/>
<polyline fill="none" stroke="#b259c8" stroke-width="1.2" stroke-linejoin="round" points="53.30,458.57 53.75,458.61 54.20,459.01 54.65,460.53 55.10,461.23 55.55,460.89 56.00,461.52 56.45,460.30 56.90,460.45 57.35,460.55 57.80,460.54 58.25,460.23 58.70,461.22 59.15,460.51 59.60,461.00 60.00,459.35 60.05,461.15 60.50,459.74 60.95,461.50 61.40,460.40 61.85,461.33 62.30,461.37 62.75,460.64 63.20,462.57 63.65,462.67 64.00,461.01 64.10,461.77 64.55,462.22 65.00,459.90 65.45,459.55 65.90,460.87 66.35,459.79 66.80,459.96 67.25,459.15 67.50,458.26 67.70,459.60 68.15,459.33 68.60,461.55 69.05,462.15 69.50,461.64 69.95,463.64 70.40,464.71 70.85,465.45 71.20,466.57 71.30,467.97 71.75,474.14 71.90,474.48 72.20,469.37 72.65,462.46 73.00,457.75 73.10,457.06 73.55,451.00 74.00,444.27 74.45,438.26 74.50,438.77 74.90,437.29 75.35,435.65 75.80,433.96 76.25,431.96 76.70,431.23 77.00,431.31 77.15,429.47 77.60,429.80 78.05,429.11 78.50,429.23 78.95,428.30 79.40,427.88 79.85,426.57 80.30,427.48 80.75,426.04 81.00,426.54 81.20,425.40 81.65,426.66 82.10,426.03 82.55,425.77 83.00,425.03 83.45,426.14 83.90,425.16 84.35,425.56 84.80,425.29 85.25,424.75 85.70,423.61 86.15,424.50 86.60,423.37 87.05,424.91 87.50,423.20 87.95,424.25 88.00,424.61 88.40,423.38 88.85,422.98 89.30,424.84 89.75,424.23 90.20,423.12 90.65,423.97 91.10,424.12 91.55,424.56 92.00,424.44 92.45,423.17 92.90,422.34 93.35,422.26 93.80,423.25 94.25,424.20 94.70,423.52 95.00,422.50 95.15,422.46 95.60,422.99 96.05,423.99 96.50,423.50 96.95,423.73 97.40,423.55 97.85,424.45 98.30,423.14 98.75,423.39 99.20,425.06 99.65,424.92 100.10,423.83 100.55,425.22 101.00,423.95 101.45,424.98 101.90,424.73 102.35,424.85 102.80,426.01 103.25,426.00 103.70,426.19 104.15,425.42 104.60,425.53 105.00,426.84 105.05,425.25 105.50,426.25 105.95,426.65 106.40,426.26 106.85,425.13 107.30,426.03 107.75,425.91 108.20,425.31 108.65,425.24 109.10,425.68 109.55,426.43 110.00,426.09 110.45,425.45 110.90,425.70 111.35,426.16 111.80,426.67 112.25,426.64 112.70,425.89 113.15,426.27 113.60,427.44 114.05,426.00 114.50,425.61 114.95,425.85 115.00,425.64 115.40,425.52 115.85,426.19 116.30,425.54 116.75,426.29 117.20,426.77 117.65,426.12 118.10,426.09 118.55,424.67 119.00,425.07 119.45,425.27 119.90,424.99 120.00,426.01 120.35,425.34 120.80,425.24 121.25,426.14 121.70,426.71 122.15,426.62 122.60,427.05 123.05,426.54 123.50,427.94 123.95,428.30 124.40,428.09 124.85,427.53 125.30,427.65 125.75,428.11 126.00,427.67 126.20,429.03 126.65,430.08 127.10,429.46 127.55,429.90 128.00,430.80 128.20,429.92 128.45,433.07 128.90,437.71 129.35,441.95 129.40,441.14 129.80,443.37 130.25,442.92 130.70,443.39 131.15,443.84 131.60,443.65 132.00,444.35 132.05,442.90 132.50,443.97 132.95,443.75 133.40,445.07 133.85,444.62 134.30,444.51 134.75,444.20 135.20,445.64 135.65,445.39 136.10,444.74 136.55,444.98 137.00,446.45 137.45,445.98 137.90,445.70 138.35,446.66 138.80,446.26 139.25,446.48 139.70,446.01 140.00,447.02 140.15,446.79 140.60,447.58 141.05,446.87 141.50,447.83 141.95,447.56 142.40,447.95 142.85,448.16 143.30,448.62 143.75,448.52 144.20,447.95 144.65,448.66 145.10,449.20 145.55,447.70 146.00,448.88 146.45,447.61 146.90,448.42 147.35,448.96 147.80,448.04"/>
<polyline fill="none" stroke="#3d63c9" stroke-width="1.2" stroke-linejoin="round" points="53.30,461.55 53.75,461.08 54.20,461.50 54.65,461.57 55.10,463.39 55.55,463.72 56.00,464.32 56.45,464.06 56.90,462.89 57.35,464.07 57.80,463.13 58.25,463.70 58.70,463.44 59.15,463.05 59.60,462.10 60.00,462.50 60.05,463.78 60.50,463.41 60.95,463.88 61.40,462.54 61.85,462.86 62.30,463.06 62.75,463.20 63.20,463.56 63.65,463.32 64.00,463.80 64.10,464.83 64.55,463.15 65.00,463.48 65.45,462.48 65.90,462.45 66.35,462.30 66.80,462.01 67.25,461.43 67.50,461.44 67.70,462.23 68.15,461.60 68.60,462.50 69.05,462.96 69.50,464.44 69.95,465.17 70.40,465.21 70.85,466.95 71.20,466.15 71.30,467.85 71.75,473.83 71.90,475.58 72.20,470.31 72.65,463.98 73.00,458.18 73.10,456.73 73.55,452.02 74.00,447.42 74.45,441.51 74.50,441.47 74.90,440.32 75.35,439.12 75.80,437.46 76.25,436.79 76.70,434.28 77.00,432.78 77.15,433.81 77.60,432.64 78.05,431.72 78.50,433.12 78.95,432.44 79.40,430.57 79.85,430.03 80.30,429.98 80.75,430.52 81.00,429.72 81.20,428.72 81.65,428.56 82.10,428.62 82.55,429.77 83.00,428.28 83.45,429.18 83.90,428.34 84.35,429.45 84.80,427.57 85.25,428.23 85.70,427.87 86.15,428.83 86.60,427.86 87.05,427.82 87.50,427.68 87.95,428.06 88.00,427.27 88.40,428.03 88.85,428.08 89.30,428.30 89.75,427.15 90.20,428.30 90.65,428.01 91.10,428.28 91.55,427.02 92.00,427.15 92.45,427.12 92.90,428.13 93.35,427.23 93.80,427.38 94.25,427.85 94.70,427.99 95.00,425.85 95.15,427.75 95.60,427.50 96.05,427.70 96.50,427.14 96.95,428.37 97.40,427.68 97.85,428.03 98.30,427.17 98.75,429.05 99.20,428.49 99.65,428.28 100.10,427.42 100.55,428.51 101.00,428.73 101.45,428.45 101.90,429.37 102.35,430.06 102.80,429.20 103.25,428.47 103.70,428.97 104.15,430.11 104.60,429.35 105.00,429.12 105.05,430.37 105.50,429.69 105.95,430.20 106.40,430.45 106.85,430.38 107.30,430.58 107.75,430.28 108.20,430.96 108.65,430.22 109.10,430.90 109.55,429.50 110.00,429.85 110.45,431.13 110.90,429.53 111.35,430.77 111.80,430.18 112.25,430.04 112.70,430.53 113.15,430.64 113.60,430.35 114.05,431.00 114.50,429.49 114.95,431.09 115.00,429.59 115.40,430.77 115.85,430.48 116.30,430.18 116.75,430.82 117.20,430.50 117.65,429.90 118.10,429.61 118.55,428.58 119.00,428.23 119.45,430.11 119.90,428.96 120.00,429.79 120.35,428.59 120.80,429.89 121.25,428.97 121.70,429.99 122.15,431.16 122.60,431.70 123.05,431.47 123.50,430.45 123.95,432.25 124.40,431.84 124.85,432.35 125.30,432.69 125.75,432.01 126.00,433.41 126.20,432.50 126.65,432.95 127.10,432.73 127.55,433.95 128.00,433.45 128.20,434.62 128.45,436.62 128.90,440.63 129.35,444.28 129.40,444.61 129.80,446.52 130.25,446.77 130.70,446.22 131.15,445.93 131.60,446.81 132.00,447.56 132.05,446.18 132.50,447.77 132.95,448.41 133.40,448.67 133.85,448.91 134.30,447.63 134.75,449.12 135.20,448.03 135.65,447.90 136.10,447.81 136.55,448.40 137.00,449.40 137.45,449.18 137.90,448.92 138.35,449.36 138.80,450.44 139.25,449.64 139.70,451.20 140.00,450.91 140.15,449.49 140.60,450.67 141.05,451.17 141.50,450.15 141.95,450.93 142.40,451.94 142.85,451.96 143.30,451.55 143.75,451.47 144.20,450.27 144.65,451.79 145.10,450.60 145.55,450.66 146.00,451.66 146.45,450.51 146.90,451.07 147.35,451.73 147.80,452.28"/>
<polyline fill="none" stroke="#e8252b" stroke-width="1.2" stroke-linejoin="round" points="53.30,465.67 53.75,464.83 54.20,465.36 54.65,465.18 55.10,467.01 55.55,467.46 56.00,466.87 56.45,466.94 56.90,467.59 57.35,466.70 57.80,467.21 58.25,466.31 58.70,467.60 59.15,467.29 59.60,465.76 60.00,466.82 60.05,467.05 60.50,466.09 60.95,466.65 61.40,467.85 61.85,467.20 62.30,467.15 62.75,468.39 63.20,467.55 63.65,468.86 64.00,468.55 64.10,468.99 64.55,468.30 65.00,466.24 65.45,467.02 65.90,465.35 66.35,466.08 66.80,465.29 67.25,464.29 67.50,464.45 67.70,466.04 68.15,465.88 68.60,466.64 69.05,468.45 69.50,469.49 69.95,467.51 70.40,467.93 70.85,468.27 71.20,467.47 71.30,469.17 71.75,473.36 71.90,475.80 72.20,472.04 72.65,463.63 73.00,459.80 73.10,458.66 73.55,455.86 74.00,451.02 74.45,449.00 74.50,447.76 74.90,447.70 75.35,445.78 75.80,444.25 76.25,443.46 76.70,442.53 77.00,441.73 77.15,441.70 77.60,440.96 78.05,441.62 78.50,440.41 78.95,440.51 79.40,438.79 79.85,438.23 80.30,439.67 80.75,439.10 81.00,437.70 81.20,437.93 81.65,439.00 82.10,437.46 82.55,436.85 83.00,437.85 83.45,437.91 83.90,437.35 84.35,436.47 84.80,437.80 85.25,437.62 85.70,437.76 86.15,436.73 86.60,436.97 87.05,437.32 87.50,436.94 87.95,437.59 88.00,436.99 88.40,435.53 88.85,436.31 89.30,436.90 89.75,435.47 90.20,436.63 90.65,436.80 91.10,437.20 91.55,436.92 92.00,436.75 92.45,436.63 92.90,435.22 93.35,436.45 93.80,436.43 94.25,435.63 94.70,434.91 95.00,436.20 95.15,435.25 95.60,436.21 96.05,435.94 96.50,436.00 96.95,435.40 97.40,435.92 97.85,436.58 98.30,436.01 98.75,437.14 99.20,437.24 99.65,436.16 100.10,437.16 100.55,436.82 101.00,437.92 101.45,436.78 101.90,437.55 102.35,438.46 102.80,437.14 103.25,438.26 103.70,438.66 104.15,438.96 104.60,439.42 105.00,439.34 105.05,438.30 105.50,439.48 105.95,439.25 106.40,438.88 106.85,438.69 107.30,439.05 107.75,438.22 108.20,439.35 108.65,439.14 109.10,439.04 109.55,439.68 110.00,439.50 110.45,439.68 110.90,438.48 111.35,439.72 111.80,438.64 112.25,439.60 112.70,438.72 113.15,438.72 113.60,439.38 114.05,438.17 114.50,438.78 114.95,439.00 115.00,440.08 115.40,439.22 115.85,439.41 116.30,438.86 116.75,437.77 117.20,437.80 117.65,439.38 118.10,437.96 118.55,437.31 119.00,438.03 119.45,438.85 119.90,437.12 120.00,438.02 120.35,436.92 120.80,437.24 121.25,437.43 121.70,437.31 122.15,439.23 122.60,437.79 123.05,438.92 123.50,439.37 123.95,438.95 124.40,438.60 124.85,439.93 125.30,439.09 125.75,438.48 126.00,439.14 126.20,439.22 126.65,440.05 127.10,438.98 127.55,440.85 128.00,440.28 128.20,440.51 128.45,444.06 128.90,445.91 129.35,451.47 129.40,450.32 129.80,450.71 130.25,451.06 130.70,451.45 131.15,452.70 131.60,452.89 132.00,453.36 132.05,452.14 132.50,454.24 132.95,454.20 133.40,452.67 133.85,453.17 134.30,453.57 134.75,453.21 135.20,454.34 135.65,453.87 136.10,454.89 136.55,454.11 137.00,456.05 137.45,455.46 137.90,455.36 138.35,455.09 138.80,456.07 139.25,455.71 139.70,455.30 140.00,456.58 140.15,457.06 140.60,457.46 141.05,455.76 141.50,456.62 141.95,456.86 142.40,456.63 142.85,457.52 143.30,457.35 143.75,457.37 144.20,457.38 144.65,456.15 145.10,457.49 145.55,457.87 146.00,456.28 146.45,456.98 146.90,458.15 147.35,456.83 147.80,456.86"/>
<line x1="77.10" y1="453.70" x2="87.60" y2="453.70" stroke="#231f20" stroke-width="1.2"/>
<text x="89.90" y="456.60" font-size="8">No IAA</text>
<line x1="77.10" y1="461.90" x2="87.60" y2="461.90" stroke="#3d63c9" stroke-width="1.2"/>
<text x="89.90" y="464.80" font-size="8">+IAA 3 h</text>
<line x1="77.10" y1="469.60" x2="87.60" y2="469.60" stroke="#e8252b" stroke-width="1.2"/>
<text x="89.90" y="472.50" font-size="8">+IAA 6 h</text>
<line x1="77.10" y1="477.80" x2="87.60" y2="477.80" stroke="#b259c8" stroke-width="1.2"/>
<text x="89.90" y="480.70" font-size="8">+IAA 24 h</text>
<text x="0" y="0" font-size="8" text-anchor="end" transform="translate(57.60,498.60) rotate(-45)">−2 kb</text>
<text x="0" y="0" font-size="8" text-anchor="end" transform="translate(76.00,498.60) rotate(-45)">TSS</text>
<text x="0" y="0" font-size="8" text-anchor="end" transform="translate(132.80,498.60) rotate(-45)">TES</text>
<text x="0" y="0" font-size="8" text-anchor="end" transform="translate(151.60,498.60) rotate(-45)">+2 kb</text>
<text x="166.70" y="369.40" font-size="10" font-weight="bold">g</text>
<line x1="233.00" y1="401.40" x2="233.00" y2="485.70" stroke="#c9c9c9" stroke-width="0.9"/>
<line x1="289.70" y1="401.40" x2="289.70" y2="485.70" stroke="#c9c9c9" stroke-width="0.9"/>
<rect x="214.60" y="401.40" width="94.10" height="84.30" fill="none" stroke="#a3a3a3" stroke-width="0.8"/>
<line x1="214.60" y1="401.40" x2="214.60" y2="485.70" stroke="#858585" stroke-width="0.8"/>
<line x1="214.60" y1="485.70" x2="308.70" y2="485.70" stroke="#858585" stroke-width="0.8"/>
<line x1="211.60" y1="485.70" x2="214.60" y2="485.70" stroke="#9a9a9a" stroke-width="0.8"/>
<text x="208.00" y="488.60" font-size="8" text-anchor="end">0</text>
<line x1="211.60" y1="468.84" x2="214.60" y2="468.84" stroke="#9a9a9a" stroke-width="0.8"/>
<text x="208.00" y="471.74" font-size="8" text-anchor="end">0.1</text>
<line x1="211.60" y1="451.98" x2="214.60" y2="451.98" stroke="#9a9a9a" stroke-width="0.8"/>
<text x="208.00" y="454.88" font-size="8" text-anchor="end">0.2</text>
<line x1="211.60" y1="435.12" x2="214.60" y2="435.12" stroke="#9a9a9a" stroke-width="0.8"/>
<text x="208.00" y="438.02" font-size="8" text-anchor="end">0.3</text>
<line x1="211.60" y1="418.26" x2="214.60" y2="418.26" stroke="#9a9a9a" stroke-width="0.8"/>
<text x="208.00" y="421.16" font-size="8" text-anchor="end">0.4</text>
<line x1="211.60" y1="401.40" x2="214.60" y2="401.40" stroke="#9a9a9a" stroke-width="0.8"/>
<text x="208.00" y="404.30" font-size="8" text-anchor="end">0.5</text>
<line x1="214.60" y1="485.70" x2="214.60" y2="487.90" stroke="#858585" stroke-width="0.8"/>
<line x1="233.00" y1="485.70" x2="233.00" y2="487.90" stroke="#858585" stroke-width="0.8"/>
<line x1="289.70" y1="485.70" x2="289.70" y2="487.90" stroke="#858585" stroke-width="0.8"/>
<line x1="308.70" y1="485.70" x2="308.70" y2="487.90" stroke="#858585" stroke-width="0.8"/>
<text x="260.90" y="397.20" font-size="8" text-anchor="middle" textLength="30" lengthAdjust="spacingAndGlyphs">EU−seq</text>
<text x="215.60" y="412.00" font-size="8"><tspan font-style="italic">P</tspan> &lt; 6.4 × 10<tspan font-size="5" dy="-3.2">−10</tspan></text>
<text x="0" y="0" font-size="8" text-anchor="middle" textLength="73.6" lengthAdjust="spacingAndGlyphs" transform="translate(178.60,443.50) rotate(-90)">Relative read density</text>
<text x="0" y="0" font-size="8" text-anchor="middle" textLength="72.4" lengthAdjust="spacingAndGlyphs" transform="translate(189.30,443.50) rotate(-90)">normalized to RN45S</text>
<polyline fill="none" stroke="#231f20" stroke-width="1.2" stroke-linejoin="round" points="214.60,454.06 215.20,453.13 215.80,453.76 216.40,454.67 217.00,455.86 217.32,454.56 217.60,455.67 218.20,458.90 218.80,461.35 219.15,463.48 219.40,463.45 220.00,460.91 220.60,458.79 220.97,459.21 221.20,458.02 221.80,461.56 222.40,463.59 223.00,466.13 223.17,464.13 223.60,464.21 224.20,463.00 224.80,462.84 225.40,463.56 225.55,462.56 226.00,461.10 226.60,460.80 227.20,457.22 227.38,458.40 227.80,461.11 228.40,462.35 229.00,467.24 229.60,468.10 230.12,472.00 230.20,471.96 230.80,474.23 231.40,475.55 232.00,478.06 232.32,479.36 232.60,477.55 233.00,479.84 233.20,474.92 233.80,466.13 234.40,453.75 234.69,448.89 235.00,447.41 235.60,443.73 236.20,440.57 236.52,438.21 236.80,439.44 237.40,437.60 238.00,435.77 238.60,436.57 239.20,433.74 239.80,432.95 240.18,433.68 240.40,433.53 241.00,432.55 241.60,431.98 242.20,429.59 242.80,430.48 243.40,430.70 243.84,429.98 244.00,428.07 244.60,426.49 245.20,426.99 245.80,426.16 246.40,425.16 247.00,423.78 247.60,424.36 248.20,422.48 248.41,422.32 248.80,421.76 249.40,422.37 250.00,421.80 250.60,420.73 251.20,418.58 251.80,419.56 252.40,418.29 253.00,418.49 253.60,418.44 253.90,418.25 254.20,415.81 254.80,415.06 255.40,415.30 256.00,413.62 256.60,412.79 256.64,412.13 257.20,409.40 257.80,408.12 257.92,405.98 258.40,407.88 259.00,411.19 259.02,410.48 259.60,411.13 260.20,411.01 260.80,410.93 261.40,408.81 262.00,410.31 262.60,410.13 263.05,407.83 263.20,407.82 263.80,408.25 264.40,406.94 265.00,408.70 265.60,407.80 266.20,407.36 266.80,406.65 267.40,406.97 267.62,407.11 268.00,406.21 268.60,404.41 269.20,403.89 269.80,404.24 270.40,404.68 271.00,405.00 271.60,402.81 272.19,403.69 272.20,403.15 272.80,405.46 273.40,405.38 274.00,404.11 274.60,404.65 275.20,404.84 275.80,406.01 276.40,406.91 276.76,406.74 277.00,406.14 277.60,407.89 278.20,407.58 278.80,408.57 279.40,407.54 280.00,409.88 280.60,408.35 281.20,407.92 281.80,410.72 282.25,409.41 282.40,409.34 283.00,409.03 283.60,410.00 284.20,411.13 284.80,410.98 285.40,409.74 286.00,410.14 286.60,412.47 287.20,412.83 287.80,413.08 288.29,413.47 288.40,412.40 289.00,413.61 289.60,412.02 289.90,412.78 290.20,422.28 290.48,428.78 290.80,429.59 291.40,429.57 292.00,430.76 292.60,431.34 293.20,431.74 293.80,431.66 294.14,431.01 294.40,431.62 295.00,433.38 295.60,432.00 296.20,431.96 296.80,432.64 296.88,432.65 297.40,435.46 298.00,435.04 298.60,436.93 299.20,435.85 299.63,438.02 299.80,436.83 300.40,438.95 301.00,438.63 301.60,440.55 302.20,442.17 302.80,442.12 303.29,443.05 303.40,441.64 304.00,444.23 304.60,444.63 305.20,445.46 305.80,445.34 306.03,448.01 306.40,447.58 307.00,449.35 307.60,450.25 308.20,451.14 308.70,454.18"/>
<polyline fill="none" stroke="#e8252b" stroke-width="1.2" stroke-linejoin="round" points="214.60,465.38 215.20,467.88 215.80,468.96 216.40,467.83 216.40,469.48 217.00,470.60 217.60,470.52 218.20,472.14 218.23,471.09 218.80,471.65 219.40,469.37 220.00,469.85 220.60,468.47 220.97,467.29 221.20,468.16 221.80,468.68 222.40,470.11 223.00,472.44 223.60,471.75 223.72,472.54 224.20,472.50 224.80,472.00 225.40,469.92 226.00,469.71 226.60,468.25 227.20,467.83 227.38,467.23 227.80,468.92 228.40,469.90 229.00,471.33 229.60,473.30 230.12,472.97 230.20,474.43 230.80,474.63 231.40,475.43 232.00,477.20 232.32,478.84 232.60,478.02 233.00,479.12 233.20,477.45 233.80,469.78 234.40,460.86 234.69,457.98 235.00,453.81 235.60,450.01 235.61,449.92 236.20,449.24 236.80,447.82 237.40,446.39 238.00,446.71 238.60,445.66 239.20,444.33 239.27,444.80 239.80,443.79 240.40,443.44 241.00,443.21 241.60,442.27 242.20,442.11 242.80,442.54 243.40,440.25 244.00,441.09 244.60,440.48 245.20,440.08 245.80,438.56 246.40,438.05 246.58,438.81 247.00,438.82 247.60,439.14 248.20,437.22 248.80,438.39 249.40,437.33 250.00,437.43 250.60,437.18 251.20,436.82 251.80,436.86 252.40,436.87 253.00,435.56 253.60,434.74 254.20,434.74 254.80,435.34 255.40,434.05 255.73,435.18 256.00,434.38 256.60,433.36 257.20,432.99 257.80,433.75 258.40,432.79 259.00,433.32 259.60,433.09 260.20,432.79 260.80,431.79 261.40,432.11 262.00,432.48 262.60,431.79 263.20,431.78 263.80,432.19 264.40,431.14 264.88,430.93 265.00,431.32 265.60,430.45 266.20,432.13 266.80,430.96 267.40,430.49 268.00,430.89 268.60,431.04 269.20,429.80 269.80,430.12 270.40,430.26 271.00,430.53 271.60,428.46 272.19,429.52 272.20,429.99 272.80,429.99 273.40,430.10 274.00,429.06 274.60,430.64 275.20,430.64 275.80,431.20 276.40,430.64 277.00,431.36 277.60,431.28 278.20,430.68 278.80,430.49 279.40,430.87 279.51,432.51 280.00,432.07 280.60,431.42 281.20,433.37 281.80,433.32 282.40,433.04 283.00,433.56 283.60,433.12 284.20,433.48 284.80,434.29 285.40,435.03 286.00,435.37 286.60,435.59 287.20,436.30 287.80,435.38 288.29,436.66 288.40,435.23 289.00,436.04 289.60,437.55 289.90,436.81 290.20,441.89 290.48,448.02 290.80,447.28 291.40,448.52 292.00,447.34 292.60,449.20 293.20,448.24 293.80,447.84 294.40,448.44 295.00,449.99 295.60,449.69 295.97,450.69 296.20,450.50 296.80,450.04 297.40,450.72 298.00,452.95 298.60,452.79 299.20,452.85 299.80,454.38 300.40,453.70 301.00,454.11 301.46,455.25 301.60,455.78 302.20,455.41 302.80,456.70 303.40,457.97 304.00,458.41 304.60,459.26 305.20,458.50 305.80,459.78 306.40,460.02 307.00,460.39 307.60,460.69 308.20,462.88 308.70,462.96"/>
<polyline fill="none" stroke="#3d63c9" stroke-width="1.2" stroke-linejoin="round" points="214.60,464.10 215.20,464.90 215.80,465.85 216.40,468.33 216.40,467.30 217.00,468.64 217.60,469.42 218.20,471.22 218.23,471.15 218.80,469.87 219.40,469.51 220.00,468.23 220.60,468.29 220.97,467.65 221.20,466.77 221.80,468.35 222.40,469.16 223.00,469.70 223.60,471.46 223.72,472.26 224.20,470.20 224.80,469.84 225.40,468.96 226.00,468.29 226.60,466.83 227.20,467.31 227.38,466.29 227.80,467.97 228.40,468.81 229.00,469.88 229.60,471.84 230.12,473.39 230.20,472.75 230.80,473.41 231.40,474.82 232.00,476.26 232.32,476.48 232.60,477.97 233.00,478.76 233.20,475.82 233.80,466.88 234.40,460.19 234.69,456.47 235.00,454.13 235.60,449.60 235.61,449.06 236.20,447.64 236.80,446.31 237.40,446.47 238.00,445.56 238.60,444.90 239.20,444.04 239.27,442.99 239.80,443.05 240.40,443.18 241.00,443.03 241.60,441.20 242.20,440.90 242.80,440.20 243.40,440.94 244.00,439.86 244.60,438.65 245.20,438.85 245.80,437.68 246.40,438.80 246.58,437.03 247.00,438.68 247.60,437.65 248.20,438.15 248.80,436.26 249.40,436.21 250.00,435.33 250.60,435.37 251.20,434.78 251.80,435.31 252.40,434.10 253.00,434.29 253.60,434.80 254.20,433.24 254.80,434.15 255.40,434.22 255.73,434.29 256.00,433.42 256.60,433.79 257.20,432.12 257.80,431.91 258.40,433.22 259.00,433.27 259.60,432.23 260.20,432.78 260.80,431.85 261.40,431.13 262.00,432.08 262.60,431.57 263.20,430.42 263.80,431.17 264.40,431.19 264.88,429.94 265.00,430.06 265.60,429.70 266.20,429.93 266.80,430.29 267.40,429.53 268.00,429.06 268.60,429.25 269.20,429.87 269.80,429.56 270.40,429.14 271.00,428.21 271.60,428.45 272.19,428.28 272.20,427.72 272.80,429.36 273.40,428.50 274.00,429.30 274.60,429.03 275.20,428.67 275.80,430.05 276.40,428.82 277.00,430.78 277.60,430.00 278.20,430.23 278.80,431.04 279.40,430.58 279.51,430.80 280.00,431.08 280.60,430.84 281.20,432.58 281.80,432.13 282.40,431.60 283.00,433.20 283.60,432.04 284.20,433.68 284.80,433.01 285.40,434.34 286.00,434.08 286.60,434.43 287.20,435.42 287.80,434.47 288.29,435.16 288.40,434.80 289.00,435.41 289.60,435.69 289.90,435.91 290.20,441.67 290.48,445.44 290.80,447.25 291.40,445.96 292.00,446.30 292.60,447.36 293.20,447.11 293.80,447.63 294.40,448.08 295.00,449.03 295.60,449.29 295.97,449.42 296.20,449.74 296.80,449.00 297.40,450.84 298.00,451.34 298.60,451.86 299.20,451.65 299.80,452.92 300.40,453.36 301.00,454.55 301.46,454.96 301.60,455.49 302.20,455.84 302.80,456.36 303.40,455.79 304.00,457.11 304.60,458.52 305.20,458.42 305.80,459.72 306.40,459.44 307.00,460.30 307.60,460.08 308.20,461.90 308.70,461.22"/>
<line x1="242.10" y1="458.10" x2="252.00" y2="458.10" stroke="#231f20" stroke-width="1.2"/>
<text x="254.40" y="461.00" font-size="8">No IAA</text>
<line x1="242.10" y1="465.70" x2="252.00" y2="465.70" stroke="#e8252b" stroke-width="1.2"/>
<text x="254.40" y="468.60" font-size="8">+IAA 3 h</text>
<line x1="242.10" y1="472.80" x2="252.00" y2="472.80" stroke="#3d63c9" stroke-width="1.2"/>
<text x="254.40" y="475.70" font-size="8">+IAA 9 h</text>
<text x="0" y="0" font-size="8" text-anchor="end" transform="translate(219.60,496.80) rotate(-45)">−2 kb</text>
<text x="0" y="0" font-size="8" text-anchor="end" transform="translate(237.80,496.80) rotate(-45)">TSS</text>
<text x="0" y="0" font-size="8" text-anchor="end" transform="translate(294.90,496.80) rotate(-45)">TES</text>
<text x="0" y="0" font-size="8" text-anchor="end" transform="translate(313.00,496.80) rotate(-45)">+2 kb</text>
<text x="332.00" y="369.90" font-size="10" font-weight="bold">h</text>
<rect x="354.20" y="387.90" width="127.70" height="6.00" fill="#1a1a1a"/>
<rect x="357.60" y="385.70" width="4.00" height="11.00" fill="#1e9fd8" stroke="#1a1a1a" stroke-width="0.5"/>
<rect x="363.20" y="385.70" width="4.00" height="11.00" fill="#1e9fd8" stroke="#1a1a1a" stroke-width="0.5"/>
<rect x="368.80" y="385.70" width="4.00" height="11.00" fill="#1e9fd8" stroke="#1a1a1a" stroke-width="0.5"/>
<rect x="374.40" y="385.70" width="4.00" height="11.00" fill="#1e9fd8" stroke="#1a1a1a" stroke-width="0.5"/>
<rect x="380.00" y="385.70" width="4.00" height="11.00" fill="#1e9fd8" stroke="#1a1a1a" stroke-width="0.5"/>
<circle cx="359.7" cy="383.6" r="1.8" fill="#2a2f7a"/>
<circle cx="371.3" cy="383.6" r="1.8" fill="#2a2f7a"/>
<circle cx="382.7" cy="383.6" r="1.8" fill="#2a2f7a"/>
<ellipse cx="371.5" cy="374.5" rx="27.4" ry="6.6" fill="#fff" stroke="#1a1a1a" stroke-width="1"/>
<text x="371.60" y="377.40" font-size="6.2" text-anchor="middle" textLength="43.5" lengthAdjust="spacingAndGlyphs">Gal4DBD-RBP</text>
<text x="370.60" y="405.90" font-size="6.6" text-anchor="middle">5 × UAS</text>
<path d="M385,384.7 L416.6,384.7 L416.6,374.8 L425.6,392.2 L416.6,409.6 L416.6,400.9 L385,400.9 Z" fill="#fff" stroke="#1a1a1a" stroke-width="0.9"/>
<text x="405.20" y="391.60" font-size="6.8" text-anchor="middle">E1b</text>
<text x="405.70" y="398.90" font-size="6.8" text-anchor="middle">promoter</text>
<ellipse cx="451.7" cy="391.7" rx="23.2" ry="7.0" fill="#1fae4b" stroke="#1a1a1a" stroke-width="0.9"/>
<text x="454.30" y="394.30" font-size="6.0" text-anchor="middle" textLength="30.5" lengthAdjust="spacingAndGlyphs">Luciferase</text>
<line x1="376.20" y1="426.30" x2="376.20" y2="485.90" stroke="#858585" stroke-width="0.8"/>
<line x1="371.90" y1="485.90" x2="483.00" y2="485.90" stroke="#858585" stroke-width="0.8"/>
<line x1="371.90" y1="485.90" x2="376.20" y2="485.90" stroke="#858585" stroke-width="0.8"/>
<text x="367.30" y="488.80" font-size="8" text-anchor="end">0</text>
<line x1="371.90" y1="471.00" x2="376.20" y2="471.00" stroke="#858585" stroke-width="0.8"/>
<text x="367.30" y="473.90" font-size="8" text-anchor="end">1</text>
<line x1="371.90" y1="456.10" x2="376.20" y2="456.10" stroke="#858585" stroke-width="0.8"/>
<text x="367.30" y="459.00" font-size="8" text-anchor="end">2</text>
<line x1="371.90" y1="441.20" x2="376.20" y2="441.20" stroke="#858585" stroke-width="0.8"/>
<text x="367.30" y="444.10" font-size="8" text-anchor="end">3</text>
<line x1="371.90" y1="426.30" x2="376.20" y2="426.30" stroke="#858585" stroke-width="0.8"/>
<text x="367.30" y="429.20" font-size="8" text-anchor="end">4</text>
<line x1="392.70" y1="485.90" x2="392.70" y2="487.90" stroke="#858585" stroke-width="0.8"/>
<line x1="417.40" y1="485.90" x2="417.40" y2="487.90" stroke="#858585" stroke-width="0.8"/>
<line x1="442.10" y1="485.90" x2="442.10" y2="487.90" stroke="#858585" stroke-width="0.8"/>
<line x1="467.00" y1="485.90" x2="467.00" y2="487.90" stroke="#858585" stroke-width="0.8"/>
<rect x="384.90" y="471.00" width="15.60" height="14.90" fill="#d9dadb" stroke="#1a1a1a" stroke-width="1.1"/>
<circle cx="389.50" cy="471.00" r="1.6" fill="#1a1a1a"/>
<circle cx="392.70" cy="470.70" r="1.6" fill="#1a1a1a"/>
<circle cx="395.90" cy="471.30" r="1.6" fill="#1a1a1a"/>
<rect x="409.60" y="443.14" width="15.60" height="42.76" fill="#87898c" stroke="#1a1a1a" stroke-width="1.1"/>
<line x1="417.40" y1="447.16" x2="417.40" y2="438.22" stroke="#1a1a1a" stroke-width="0.9"/>
<line x1="414.40" y1="438.22" x2="420.40" y2="438.22" stroke="#1a1a1a" stroke-width="0.9"/>
<line x1="414.40" y1="447.16" x2="420.40" y2="447.16" stroke="#1a1a1a" stroke-width="0.9"/>
<circle cx="414.20" cy="441.94" r="1.6" fill="#1a1a1a"/>
<circle cx="417.40" cy="444.92" r="1.6" fill="#1a1a1a"/>
<circle cx="420.60" cy="439.71" r="1.6" fill="#1a1a1a"/>
<rect x="434.30" y="456.10" width="15.60" height="29.80" fill="#ee7477" stroke="#1a1a1a" stroke-width="1.1"/>
<line x1="442.10" y1="459.38" x2="442.10" y2="453.12" stroke="#1a1a1a" stroke-width="0.9"/>
<line x1="439.10" y1="453.12" x2="445.10" y2="453.12" stroke="#1a1a1a" stroke-width="0.9"/>
<line x1="439.10" y1="459.38" x2="445.10" y2="459.38" stroke="#1a1a1a" stroke-width="0.9"/>
<circle cx="438.90" cy="454.61" r="1.6" fill="#1a1a1a"/>
<circle cx="442.10" cy="458.33" r="1.6" fill="#1a1a1a"/>
<circle cx="445.30" cy="455.35" r="1.6" fill="#1a1a1a"/>
<rect x="459.20" y="466.53" width="15.60" height="19.37" fill="#6f7fc1" stroke="#1a1a1a" stroke-width="1.1"/>
<line x1="467.00" y1="468.02" x2="467.00" y2="464.29" stroke="#1a1a1a" stroke-width="0.9"/>
<line x1="464.00" y1="464.29" x2="470.00" y2="464.29" stroke="#1a1a1a" stroke-width="0.9"/>
<line x1="464.00" y1="468.02" x2="470.00" y2="468.02" stroke="#1a1a1a" stroke-width="0.9"/>
<circle cx="463.80" cy="465.78" r="1.6" fill="#1a1a1a"/>
<circle cx="467.00" cy="467.27" r="1.6" fill="#1a1a1a"/>
<circle cx="470.20" cy="466.53" r="1.6" fill="#1a1a1a"/>
<line x1="386.20" y1="435.60" x2="411.80" y2="435.60" stroke="#555" stroke-width="0.9"/>
<line x1="416.40" y1="435.70" x2="442.10" y2="435.70" stroke="#555" stroke-width="0.9"/>
<line x1="414.10" y1="423.30" x2="466.70" y2="423.30" stroke="#555" stroke-width="0.9"/>
<text x="377.90" y="433.30" font-size="6.4"><tspan font-style="italic">P</tspan> = 1.31 × 10<tspan font-size="4.4" dy="-2.8">−4</tspan></text>
<text x="423.40" y="433.30" font-size="6.4"><tspan font-style="italic">P</tspan> = 0.0076</text>
<text x="420.60" y="421.60" font-size="6.4"><tspan font-style="italic">P</tspan> = 4.26 × 10<tspan font-size="4.4" dy="-2.8">−4</tspan></text>
<text x="0" y="0" font-size="8" text-anchor="middle" textLength="65.4" lengthAdjust="spacingAndGlyphs" transform="translate(344.20,456.70) rotate(-90)">Relative luciferase</text>
<text x="0" y="0" font-size="8" text-anchor="middle" transform="translate(354.40,457.30) rotate(-90)">intensity</text>
<text x="0" y="0" font-size="8" text-anchor="end" transform="translate(397.60,497.40) rotate(-45)">CTRL</text>
<text x="0" y="0" font-size="8" text-anchor="end" transform="translate(422.20,497.40) rotate(-45)">FL</text>
<text x="0" y="0" font-size="8" text-anchor="end" transform="translate(448.00,497.40) rotate(-45)">ΔLCS2</text>
<text x="0" y="0" font-size="8" text-anchor="end" transform="translate(472.20,497.40) rotate(-45)">RRMmut</text></svg>
</body></html>
